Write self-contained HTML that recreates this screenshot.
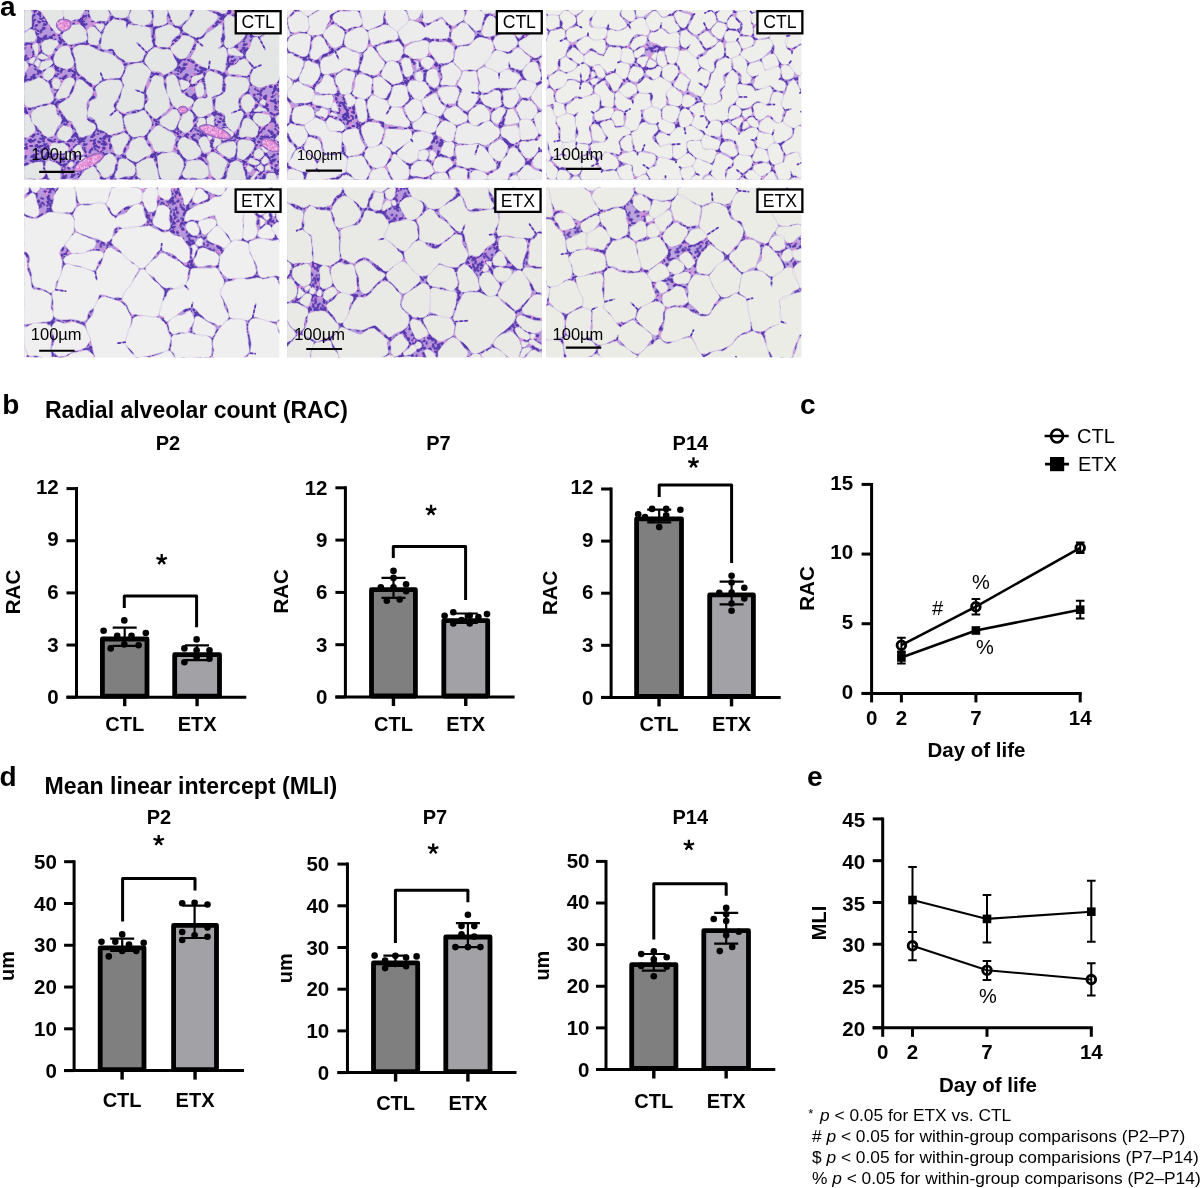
<!DOCTYPE html><html><head><meta charset="utf-8"><style>html,body{margin:0;padding:0;background:#fff;width:1200px;height:1188px;overflow:hidden}svg{display:block;will-change:transform}</style></head><body><svg width="1200" height="1188" viewBox="0 0 1200 1188" font-family='"Liberation Sans", sans-serif'>
<rect width="1200" height="1188" fill="#fff"/>
<clipPath id="c0"><rect x="24.2" y="10" width="255" height="169.6"/></clipPath>
<pattern id="t0" width="20" height="20" patternUnits="userSpaceOnUse" x="24.2" y="10"><rect width="20" height="20" fill="#b497dc"/><g transform="scale(0.5)"><path d="M24 27l1-1m-3-19l-1-1m-9 21l-2 0m2 7l-1 0m25-26l0 1m-24 20l-1 0m9 2l1 0m-11 1l-2 1m-1 4l1 0m20-5l-2 0" stroke="#dc90d8" stroke-width="3.6" stroke-linecap="round"/><path d="M27 1l2 1m-2 39l2 1m-31-25l3 1m37-1l3 1m-19 1l-2 2m-17-9l-2 2m42-2l-2 2m-45-14l-2 1m2 39l-2 1m42-41l-2 1m2 39l-2 1m-34-13l-1 3m41-3l-1 3m-42-9l3 1m37-1l3 1m-8 1l-3 1m-10-15l-1 1m5 20l0 2m-22-37l-1 2m1 38l-1 2m41-42l-1 2m1 38l-1 2m-39-25l-2 2m42-2l-2 2m-40-19l-2 0m2 40l-2 0m42-40l-2 0m2 40l-2 0m-9-28l-1 0m5 9l2 1m-8 12l-2 1m-7-17l-3 0m-9 14l-3 2m43-2l-3 2m-41-14l0 1m40-1l0 1m-28 4l2 1m7-24l1 1m-1 39l1 1m11-36l-1 2m1 38l-1 2m-16-23l1 1m3-14l-1 2m-16 0l-1 4m41-4l-1 4m-15 8l2 1" stroke="#5638ad" stroke-width="4" stroke-linecap="round"/></g></pattern>
<g clip-path="url(#c0)"><rect x="24.2" y="10" width="255" height="169.6" fill="url(#t0)"/>
<g transform="translate(24.2,10) scale(0.5)">
<path d="M512 4l0-3m-97 4l-2 1m5-1l-2 1m-7-8l0-3m1 16l-3 0m105-2l-3-1m-3-2l-2 0m-13-7l-3-1m-152 59l2 1m0 1l1 1m1-2l1 1m-42 5l0 1m-7 9l-1 2m11 13l1 2m-7-7l1 3m38-5l0 1m6-11l-2 3m-22 28l3-1m77-72l0-3m1-1l0-4m-3 19l0-1m-20-6l-2 2m17-14l-3 2m-28 24l-2 2m-3 0l-1 1m1 59l-2-1m-21-13l-2-1m7 7l-2 0m-29 12l-2-2m9 7l-2-2m29 12l-2 1m-341-60l-1 3m506-43l-3 2m11-5l-3 3m-11 7l-1 1m18-17l-2 1m-59 114l0 3m9-20l0-2m-12 9l1-2m66 9l-1 2m-11 15l0 1m-22 3l-3 0m20-5l-2 0m-27 3l2 1m-2-1l1 1m-68-11l0-3m-1 18l0-3m36-23l3 1m-12 0l2 0m12-3l3 0m-12 48l1-1m18-27l-1 3m-120-16l-2 4m-24-6l1 2m-1-22l-2 2m19 24l-3-1m-60-132l0 1m-1 19l0 1m-1-8l0 3m-10-24l-2-1m5-4l-4-1m-7 38l-2 0m0-1l-3 0m-22-2l-4 0m4-28l-2 3m3 0l-1 3m76 3l1 3m0 4l1 3m39 4l-1 1m10-24l-1 1m0-2l-1 2m-34 32l-3-2m12 7l-4-1m-37-9l3-1m0 5l2 0m-11-35l-2 1m125 6l-3-1m-19-2l-3-1m-100 52l0-4m-2 19l0-2m30 8l3 0m-24 1l2 0m-194 72l2-3m-16 24l1-1m10-16l1-2m-15 25l-1-3m-6-9l-1-4m25-17l-4 0m-14-5l-3 0m-2 5l2-2m4-18l-1 4m3-1l-1 1m17-9l-2 0m14 1l-3-1m5 17l-2 1m-88-131l-2 0m-1-1l-1 0m14 30l1-1m-16 18l1 0m16-26l-1 3m5-29l-1 3m0 15l0 2m71-21l-3 1m-3 40l0 1m-5-20l0 4m-1-9l1 3m19 10l3-2m-13 14l2-2m33-20l-2 3m-5-6l-1 1m-79 327l2-1m6 3l4-1m-14-2l3 0m10 0l1 0m-46-29l2 0m6 0l1 0m23-12l-1 0m14 29l0 2m-2-7l0 4m-1-13l0 1m369-203l0-3m0-7l0-3m10 8l3-2m-7 8l1-1m7-22l1 1m-6-6l3 1m-26 43l-1-1m-14-5l-4-1m25 4l1-3m-1-42l1 2m43 19l-2-3m13 14l-1-1m-209-26l-2 2m182-9l1 1m12 7l2 2m-9-26l2-2m10-10l2-3m-17 17l1-2m18 7l0-2m-2 14l2-3m6-28l1 1m-52 26l4 0m23-49l2 2m-17-19l2 3m18 19l2 2m20 19l-2 0m-11 202l2 0m-7 3l1 0m23-6l1-2m-33-32l-1 4m3-14l-1 2m-2 24l-1 2m16-28l4 1m16 19l1 2m-3 3l2 2m5 4l1-4m-19-66l3 3m2 4l2 2m9-23l0 3m4 19l2-2m-80-10l-3 2m7-2l-1 1m-41-34l0 1m3 36l0 3m-4-13l0 3m-111 19l0 2m-2-4l-1 4m46-11l3 2m-35 45l1 2m-13-17l2 3m44-9l1-1m-31 19l2-2m25-11l1-1m8-18l1 2m-256 72l2 2m-7-13l2 2m-25 5l-2 2m0 2l-1 1m28 15l-2 0m-3-2l-2-1m-18-1l-4-1m0-61l-2-2m5 6l-2-3m-3-1l-2-4m-9 48l1 0m78-214l-1 2m-35-22l1 1m23 28l3 4m-43-52l2 3m7 5l1 1m-9-11l2 3m-7 40l1 1m0 1l2 3m34 8l-3 1m4-1l-4 1m-14 82l-3-2m-35 56l-2-3m58 1l-1 1m-51 7l-3 0m52-8l-3 1m-39-46l3-1m-20-5l1 0m65-31l1 1m-24 8l-2 1m3 0l-1 1m36-62l2 3m-1 5l-3-1m35-39l2 3m6 43l2 0m-25 1l3 0m29-17l0 3m-2-3l0 4m-35 256l-2-1m11 25l1 3m4-1l1 2m-18 2l-2 0m0-19l0-4m-4-4l0-2m-23-16l1 1m9 1l3 2m40 34l1-2m-3 5l2-2m5-24l2 0m-7-6l3 2m40 22l-2-2m5 3l-1-2m-3 2l-2-3m-17-18l2-1m-49-133l2-1m-5-2l2-2m-19 18l1 2m1 4l1 1m0 3l2 3m57-3l-1 3m-2-2l0 3m-30-35l-1 2m2-9l-1 3m11-33l-1 2m-33 103l0-1m-13 17l2-3m9-6l2-2m224 39l-3 1m-5-1l-2 0m14-2l-2 0m17 18l1 2m-4-11l1 2m-40 36l1 4m-9-11l0 1m6-11l1 4m-6 7l1 3m47 14l-1 3m4-23l0 1m-1 17l0 3m-12 5l3-1m151-55l-1 2m6-15l-1 2m-35-20l0 2m-3 14l0 3m-1 12l0 3m21 12l-1 0m1 2l-1 0m-17-3l3 1m42 21l1-2m-9 14l0-1m-5-6l2-3m-4-2l1-2m1-14l3 2m-12-6l3 1m-7 15l0-3m1 6l-1-2m-2-9l0-1m21 4l-1-2m-276-297l3 1m0 1l4 1m-30-21l1 2m11 6l2 2m-13-10l2 2m-3 341l2 0m33 0l2 0m6-2l3-1m13-1l2 0m79-89l3 1m-12-7l2 1m5 2l2 1m-3-48l3 1m2 44l0 2m8-31l0 2m-5 22l0 2m-22-111l-4 2m12-4l-1 0m-51-33l-1 3m24 33l-2 0m-11-8l2 3m-1 2l1 2m28 14l0-2m4 13l0-1m-45 15l-1-3m2-2l-2 3m6-17l0 1m0-3l-1 2m189 41l0 1m23 7l1-2m45-7l3 2m-2-5l2 2m-17-4l0 2m6 25l2 2m10-10l-1 1m-6-36l-1 1m-8 5l-1 3m18-9l2 3m-23 8l2 0m-10 13l1 0m3 14l2 1m-3-1l3 0m-8 1l3 0m-97 40l2 0m-6 6l0 4m-4 8l0 2m17-8l1 2m-10 14l-2 2m3-8l-2 2m-7 6l0-2m-8-25l3-1m-7 5l1 2m5 1l1 3m6-40l0-3m3 13l0-3m18-12l1 4m-8-11l-2-1m2 30l-2 1m-14 0l1-1m39 9l-2-2m6-1l-1-1m-40-41l1 4m4-7l1 1m28 58l-2 0m-93-97l1 0m1 5l2 1m13 14l3 2m-3-31l2 1m2 6l1 3m1-5l0 1m-10-14l2 3m-24-3l1 1m20 54l-1 0m8-6l1-2m17-47l-2 1m1-1l-1 1m2 32l-2 0m-346 113l1-1m2-5l-1-4m2 6l-3-1m4 2l-2-1m39-7l0 3m-48-145l0 2m2-13l-2 3m93-52l0-3m9 40l0-4m-3-28l-1-3m-25-10l0 2m-4 13l-1 2m-7 13l1-4m104-63l-2 3m-5 0l-1 3m-8-9l-3 0m2-2l-3 0m-4 3l-2-3m1 2l-1 3m34-15l-3 3m-37-1l1 2m-4-1l2 2m6 9l2-1m17 26l0-3m-3 3l0-2m-23 18l-2-1m-66 220l2 0m12-1l3 0m11 11l1-1m-7-1l-2-2m383-2l3 1m-7 1l2 1m6 14l1-1m-265-11l-1 0m18 7l-2-1m25-9l1-1m1 1l1 0m-47-14l1-2m4-16l1-2m30-6l2 0m-4-2l1 0m21 30l-2-3m3-1l0-1m-74 26l0-2m-3 21l0-2m-10 19l1-2m11-34l0-1m38 21l0-2m3 11l0-3m23-90l-1 1m13-11l-1 2m-58 8l0-2m-5-27l-1-2m6-3l-3 0m8-3l-4 1m-6-1l-4 1m12 41l2 1m98 31l1-2m-3-2l0-2m37-41l0-2m9 7l2 1m0-26l3 0m13 11l0 3m-6 10l-1 2m-30 8l2-2m-18 10l-2 0m26-49l2 3m16 36l-1-3m1 12l2-1m-26 5l-3-2m3 0l-3-2m40-42l-4 1m4 27l-2-2m-146-129l-2 0m4-2l-3 0m-29-4l-2-2m9 8l-3-3m-10-11l-1-1m-25-10l-4 0m-120 18l-2-1m2 3l0 2m-2 11l0 1m-4-4l-3-2m5 14l0-2m26-24l-4 1m-32-9l3 2m-10-18l-1-3m3 1l-1-1m16 14l1-2m-1-3l0-2m-8-13l3-1m-15 30l4-2m-5-22l4 0m38 23l-2-1m7 170l3 1m4-1l2 1m29-34l2 3m-4-3l1 3m-10 31l3-2m8 1l3-2m21 17l-2-3m11 13l-1-1m-11 5l-3 0m1 2l-2 0m-12-9l-1-2m-2-3l-2 1m38 19l-2-3m-29 3l0-1m-11-16l3-1m15-21l1 1m-13 12l1 1m282 65l-3-2m33-24l1-3m-12 34l1-1m-25-10l-1-3m-11-30l-2-4m11 38l-1-1m27-40l-1-1m-4 0l-2-1m-7-8l-2-1m-8 1l-3 2m-15 49l3 0m-45 5l4 0m15 0l2 0m-23 1l2 0m41-44l3 0m-11 1l4 0m9-10l1 1m-6-12l1 3m124 35l0 3m1 9l0-1m30-82l-3 2m2-5l-1-2m3 4l-1-2m-24-1l-1-2m6-12l-1 1m12 32l2 1m-7-45l-1 2m-12 36l2 0m-16-2l3 1m2-16l3-2m-279-93l-2-3m-5 32l-1 2m2-12l-1 2m5-5l-2 3m-27-20l-3 0m-3 2l-3 1m26-6l-1 0m-41 13l-1 1m-1 21l0-3m56-32l-1 2m-8 63l1 1m-46 23l3 3m-20-10l1 1m4-39l1 0m-22-49l2 1m22 21l2 2m-9-8l2 2m-13 107l2 0m13 31l2-4m3-17l0-2m5 1l1 3m-1-27l1-2m38 13l-2 0m8-6l-3 1m-25-5l3 2m10 9l1 1m318 54l1 1m19-11l4-1m-2 20l3-3m-5 3l2-3m0 11l2-4m-21 3l1 0m-20-23l2-1m10-2l1 2m19 31l0-1m-3-2l0-1m3-49l0 1m8 6l3 3m-45-16l-3 0m13-1l-2 0m2 12l-2 1m1 3l3 2m-318-27l-2 1m13 16l0 1m-27 0l1 1m2-4l1 2m14 9l-4 1m-17-20l2 2m21-17l-1 4m7 34l-2-2m-32 20l2-2m-9-4l3-1" stroke="#dc90d8" stroke-width="4.0" stroke-linecap="round"/>
<path d="M513-5l0-3m0 13l0-2m0 11l1 2m-81-18l-4 2m-1 1l-3 2m1-4l-3 2m-14 4l0-4m2 1l0-4m1 6l0-5m82 7l-3-1m2-3l-1-1m0 0l-5-2m1 1l-4-1m12 3l-3-1m-8-2l-4-1m17 5l-1 0m-8 1l-3-1m-163 42l4 3m-3 1l3 1m7 6l2 1m-18-9l2 1m20 7l1 1m-37 4l-1 1m8-9l-3 3m-15 22l-3 4m16-28l-1 1m-7 13l-2 3m9 31l2 2m0-6l1 2m-17-21l1 3m9 12l2 3m40-27l-1 1m0 0l-2 2m-8 9l0 2m6-7l-1 1m0 12l-2 3m-15 6l2-1m-10 3l3-1m-6 2l4-1m84-41l0-4m0 6l0-2m3-29l0-4m0 29l0-3m-1 3l0-2m-2-3l0-3m2-29l0-2m-52 39l-1 2m33-26l-1 1m-17 13l-3 3m2-4l-1 1m-10 9l-4 3m10-12l-1 1m4 6l-4 3m43-41l-3 2m-6 6l-4 3m-19 91l-2 1m-24-13l-4-2m-5-2l-2-1m36 17l-3-1m-7 0l-2-1m-2-8l-1-1m13 14l-4-2m-49-1l-4-3m8 3l-3-3m7 6l-3-2m13 12l-3-1m-15-22l1-2m-3 4l1-4m52 15l3-3m-14 13l-2 1m10-7l-2 0m-3 3l-3 1m-354-58l-1 3m494-32l-2 2m25-18l-3 3m-18 10l-3 3m-8 4l-2 2m10-4l-2 2m-13 10l-2 1m8-10l-3 2m-2 3l-3 1m-18 83l1 4m-1 0l2 5m-2 2l2 4m0-24l2-3m-1-1l0-1m3 0l3-4m50 21l-1 3m3-7l-1 1m-4 7l-1 2m-12 10l-3 0m-9-1l-5 0m14 0l-1 0m3-4l-1 0m-24 4l3 1m-13-5l1 1m-60-19l0-4m0 30l0-2m-2 5l0-5m6-16l0-2m-4 25l0-2m37-26l2 0m0 3l3 0m2-5l2 0m-9 2l3 1m-24-3l3 0m28 0l3 0m-7 36l3-3m-13 15l3-3m-3 5l1-1m15-23l-2 5m2-11l-1 3m-117-12l-2 3m-26-13l3 3m1-2l2 3m-13-8l1 1m7-17l-3 5m3-2l-2 3m14 20l-1 0m10 2l-2 0m-1-1l-2-1m-68-108l0 1m6-9l0 4m-1-22l0 4m-1 20l-1 4m2-28l-1 3m-13-12l-2-1m8 1l-2-1m3 4l-5-2m-7-2l-4-2m-26 34l-4-1m20 4l-4 0m-12 0l-3-1m45 4l-5-1m-9-1l-3-1m-21-5l-4 0m-3-6l-1 1m9-19l-2 3m0-5l-2 3m7-7l-1 2m-1 7l-1 2m-6 19l-1-1m80-22l0 1m1 5l0 3m2-5l1 4m1 1l0 4m31 6l-1 2m-8 13l-1 1m2 1l-2 2m12-23l-2 4m-6 16l-2 4m3-8l-2 3m23-37l-1 2m-2 6l-3 3m-21 26l-4-2m-4-1l-3-2m3 3l-3-2m-29 1l3-1m-14 4l4-1m2-1l2-1m15-4l3-1m-27 9l4-2m4-40l-3 2m-4 5l-2 1m149 4l5-2m-16 6l-4-1m-1-3l-2-1m5 5l-3-2m-20-11l-2-1m21 10l-4-1m5 4l-4-2m-6-2l-2-1m18 8l2-4m-85 34l-2-5m-52 5l-1-2m2 32l-1-4m-1-3l-1-3m1-3l0-2m0-11l0-2m20 26l3 1m-8 2l4 1m1 2l4 1m5-1l5 1m-226 85l1-3m-7 11l3-4m4-3l2-3m2-8l1-2m-19 3l0-3m2 26l-1-4m-4-26l0-3m2 6l-1-5m13-13l-3 0m18 6l-3-1m-23 1l2-3m-6 7l1-1m8-12l-1 4m7-15l-1 2m12-2l-1-1m18 2l-3-1m8 4l-2 0m-5 0l-2 0m-21-6l-4-1m37 9l-1 0m-11 12l-2 1m14-8l-3 1m5-5l-2 1m5-2l2 3m-110-122l-4 1m7-5l-1 1m18-6l-2 1m-12 0l-1 0m10-1l-2 1m-4 40l1 0m1-1l2-2m2 1l4-2m4-31l0 2m-2-7l0 3m-3 18l0 4m1-9l0 2m1 11l-1 5m70-37l-4 1m-4 3l0 1m1 17l1 5m-2 8l0 2m0-15l1 1m-3-13l0 3m21 21l1-1m12-4l1 0m-27 9l4-1m-2 3l1-1m21-13l2-1m8-7l-2 4m2-2l-1 1m-2 3l-1 2m9-21l-1 1m-103 343l4-1m-19 3l2 0m34-9l3-1m-8 1l3-1m-21 6l3 0m19-6l2-1m5 4l4 4m0 2l1 1m-50-36l4-2m-1 4l4-2m-7 0l1-1m14-5l3-1m-25 11l4-2m26-9l1 0m-4-2l4-2m8 0l-2 0m1 2l-1 0m13 9l0 3m0 18l0 3m0-16l0 3m-4-14l0 4m4 21l0 3m362-234l0-2m1 7l0-2m1 10l0-5m-1-11l1-4m1 16l3-2m10 2l4-3m-11 2l1-1m2-19l3 1m-5 1l2 0m10 1l2 0m-39 34l-3-1m-11-2l-4-2m27 9l-3-1m-2 2l-2-1m4 2l-4-2m5-55l2 1m6 45l0-1m-1-1l2-4m-3-37l1 2m0 2l1 1m54 32l-4-3m-4-4l-2-2m3 7l-3-4m-196-30l-1 1m-3 3l-1 1m8-6l-3 3m178 5l3 2m2 0l1 1m8-42l3-4m-17 19l3-3m7-12l2-3m0 6l2-3m-1 0l2-3m-3 38l2-4m8-16l1-1m0 1l1-2m-15 23l1-2m-3 3l1-3m12-28l2 1m-2-4l3 2m-13 39l0-4m-30-9l2 0m6-2l5-1m15-40l1 2m6 6l1 1m-32-28l2 2m6 5l2 2m14 17l1 1m-1-5l1 1m-25-26l3 3m44 38l-4-1m1 1l-2 0m-27 205l3 0m1-2l4 1m-14-1l2 0m28 0l4 1m-33-1l4 0m35-2l2-3m-34-32l-1 3m-6 23l-1 3m13-42l-1 5m-5 14l0 2m2 3l-1 4m-9 17l-1 4m12-33l0 1m16-12l2 3m9 14l3 2m-13-13l1 1m2 1l2 2m0 3l1 0m10 23l1-2m0-7l1-4m-10-58l4 4m-18-15l2 1m8 9l0 0m3 2l2 2m12-9l0 1m-2-4l1 4m-1 11l3-3m-89-10l-2 2m6-1l-2 0m8-3l-2 2m-33-42l-1 3m-2 7l0 2m-3 11l1 2m4 3l0 3m-2 0l1 4m-1-10l1 3m-116 31l-1 5m2-9l-1 4m-2 8l-1 5m45-22l4 2m-37 34l2 2m-11-9l2 1m17 13l2 3m-18-20l1 2m21 12l4-3m-12 6l4-3m22-17l2-2m-21 19l1-1m-4 2l3-2m-2 0l3-2m32-25l1 2m-7-6l1 4m-2-4l1 1m-246 86l-1 3m-12-24l2 1m0 5l2 2m9 0l3 2m-16-10l2 1m-18-2l-3 3m-3 6l-2 2m3-1l-2 1m19 14l-4-1m17 0l-2-1m-15-1l-2 0m18 4l-3 0m-24-4l-4 0m24 0l-4 0m-8-34l-2-4m-18-28l0-1m1 0l-1-2m18 28l-1-1m-15-24l-2-3m18 27l-2-3m-7-13l0-1m-19 38l3 2m12 8l4 3m-12-62l1-1m-3 3l4-3m75-158l-1 3m-1-4l-2 4m3-7l-2 3m-20-2l0 0m-1-4l2 3m-4-9l3 4m-34-36l3 3m18 15l2 2m1 6l1 1m-16-16l2 3m12 10l1 1m-15-17l2 2m38 43l-1 0m-54-17l1 2m-1 0l2 4m6 5l2 4m3 5l2 3m26-1l-3 0m-18 2l-2 1m22-6l-4 1m-3 3l-4 1m-7 81l-2-2m9 5l-1-1m-8-6l-2-1m25 46l0-4m0 9l0-5m-54 9l-2-4m-4 0l-1-3m6 17l-1-2m-7-52l4-2m-5 1l4-2m16 52l-4 1m16-3l-4 1m8 0l-1 0m-10 1l-2 1m-4 3l-4 0m34-8l-4 0m19-3l-3 0m-11 4l-3 1m-24-57l4-1m-17 6l3-1m13-1l4-1m-13 2l3-1m48-25l2 3m-5-8l-3 2m-4 2l-2 1m2-2l-2 1m0 2l-3 2m-5 3l-3 2m-11 3l1-1m42-67l2 4m6-1l-2-1m15 11l-2-1m25-38l2 3m0-3l2 3m-5-5l1 0m0-5l2 4m-3 41l4 0m-24 3l1-1m19-1l1 0m-6 1l2 0m14-3l4 0m-3-20l0 3m1 3l0 3m-1 5l0 4m-36 252l-2-1m8 13l0 3m0-1l0 2m2 10l-1 0m-17-30l0-3m-2 25l0-3m-1 2l1-1m-1-6l1-4m2-12l1 0m20 31l-4-1m-28-34l3 2m-7-5l3 2m-19-13l3 2m19 12l1 1m3 2l3 1m27 31l1-1m5-9l2-3m10-11l2-3m-16 19l1-1m-11-18l1-1m6-5l1 0m-2-3l2 1m12 6l2 1m36 26l4-2m-2-1l1 0m-5-9l-1-1m-15-16l-2-3m3 4l0-1m16 27l-2-3m-2-12l-1-2m-16-13l3-2m-4 2l4-3m-10 6l2-1m-56-126l3-2m-13 4l4-2m21-5l4-2m-4-2l2 0m-20 28l0 1m-8-12l2 2m10 16l1 3m6 5l2 4m1 1l2 1m40-23l0 1m0-4l0 3m5-11l0 2m-3 1l0 3m-69-7l4 1m44-63l1 3m-12 27l-1 2m1-6l0 2m-1 7l-1 2m7-29l-2 5m-7 22l-1 5m7-10l-1 2m5-15l-1 2m-23 75l3-4m-9 20l1-2m-3 5l2-2m-11 10l2-3m11-20l3-4m-16 26l1-2m5-2l2-4m194 45l-3 0m23-2l-1 1m-3 0l-2 0m4-2l-5 1m8 2l-2 0m-11 4l-5 1m50 11l1 1m-4-10l3 4m0 4l1 1m-10-14l2 2m-39 39l1 4m-3-4l1 5m-6-36l1 5m2 6l1 5m-6-20l1 3m3 18l0 3m-4-28l0 4m3 29l1 5m45 12l-1 4m9-35l-1 2m-7 25l0 2m5-4l-1 4m2-15l-1 4m-14 20l4-1m3-4l2-1m-11 4l2-1m8-2l1-2m150-72l-1-3m1 12l0 1m-2 9l-1 2m4-11l-1 3m-9 11l-2 3m-28-16l0 3m1 2l0 4m2-19l0 4m-2 14l0 5m1-3l-1 5m2-14l-1 4m25 14l-2 1m0-2l-2 2m-23-1l1 1m15 6l5 1m20 33l1-2m-7 9l2-1m13-15l3-3m-4 4l1-1m-23 14l3-4m-1 3l1-2m-2-3l1-3m-3 8l1-1m16-21l-1 0m-12-10l2 1m3 1l3 2m-9-7l1 1m1 5l4 2m-13 10l0-4m-2 1l0-1m3 23l0-3m2-1l-1-2m-2-9l0-2m-4-20l-1-2m-236-284l4 1m-10-2l3 1m-14-3l1 0m-3 0l4 1m-10-7l2 3m-9-11l3 3m-1 335l2 0m57 1l-1-1m-6-4l-1-1m8 1l-1-1m-8-1l5-1m-49 7l4-1m3 2l5 0m19-4l4-1m-12 0l3 0m7 2l4-1m82-97l1 1m1 1l1 1m-8-4l2 1m5 3l2 1m-16-9l3 2m-25-10l4 2m39-30l5 2m-12-5l1 1m9 4l1 1m-2 33l-1 3m1-12l-1 2m7-25l-1 5m-8 21l0 1m1 0l-1 5m5-10l0 3m-17-104l-1 0m-7 4l-4 2m-42-36l-1 4m7-9l-1 2m-1 0l-1 1m24 36l-5-1m6 0l-4-1m-6 0l-1 0m-9-15l3 4m-7-7l1 2m-1 5l2 3m3-4l2 3m32 52l0-3m1-9l-1-4m1 14l0-3m0 2l0-4m2-8l-1-4m-44 20l0-1m-4-3l-1-3m17-31l0 1m-11 23l-2 4m2 0l-2 3m2-10l-2 4m4 5l-2 3m12-40l-1 2m179 65l0 2m-1-14l0 3m7 19l3 3m12-1l3-2m8-7l3-3m-10 12l4-4m-5-1l1-1m45-16l1 1m-1 2l2 1m-2 6l3 2m-18-5l-1 2m1 7l1 2m5 5l3 2m13-1l-4 2m-3-57l-1 3m1-1l-2 4m4-1l-2 2m-2 3l-3 4m17 9l2 3m-5-6l2 4m-4-18l1 4m4 10l2 3m-34 2l1 1m-4 15l4 1m1 3l3 1m-16 5l2 0m-12 2l3 0m4-1l3 0m-8 0l4 0m5-1l3 0m-95 46l1 0m-5 8l0 4m0 6l0 1m12-19l2 3m-12 30l-2 1m12-11l-2 2m-9 6l-1 1m1-6l-1-3m-3 2l-1-5m-12-19l2-1m11 17l2 4m-12-16l1 2m19-47l0-5m-4 28l0-3m2 1l0-3m25 2l1 5m-8-15l0 1m-9-11l-2-1m7 3l-3-2m-2 30l-1 0m-10-34l-3 2m15 34l1-1m-20-7l1-1m48 18l-1-1m-7-8l-2-1m11 13l-1-1m0-1l-1-2m-36-48l0 4m-4-19l1 4m1-3l1 4m-2-11l1 4m33 72l-4 1m-1 2l-4 1m-6 2l-4 1m8-2l-2 1m-70-111l2-2m-14 11l3-2m8-6l2-2m-9 17l2 2m0 3l3 1m6 2l3 3m-23-16l2 1m19-15l4 2m2 18l1 4m-7-21l0 1m6 23l-4 3m-25-26l1 4m-3-4l1 3m0-6l1 3m10 47l-4 1m7-1l-5 1m16-7l1-2m-2-4l1-2m2 0l2-4m8-41l-1 1m-11 8l-2 1m27 26l-4 1m-12 0l-4 1m5 1l-3 1m-341 97l3 0m-8-1l4 0m3-3l0 1m19 20l-2-1m4 4l-3-1m-3-1l-4-3m33-7l0 4m1-13l0 3m-6 11l2-4m-47-187l3 2m-4-6l1 0m10 14l1 2m-9 28l-1 4m6-34l0 1m-4 16l0 2m-4 12l-2 4m5-12l-1 4m100-38l-1-3m-4-16l0-2m11 47l-1-2m-8-32l-1-3m-2-6l0-3m2 16l0-3m-2-3l0-2m9 27l-2-5m-43-8l-1-2m0 2l0-2m6-6l-2 4m13-33l-2 4m3-5l-2 4m-14 27l-2 4m9-17l-1 2m94-38l-2 4m10-23l-2 4m-13 19l-1 2m8-26l-1 0m-9 0l-2 0m5 1l-2 0m-7 12l-1-1m-1-1l-1-1m36-16l-2 2m2-6l-3 3m-44-7l1 3m-2-14l2 4m6 32l2-2m16 29l1-3m-2-5l0-3m0 2l0-2m-1 15l0-4m-13 11l-1-1m0 2l-4-2m11 3l-4-2m-2-2l-1 0m-88 217l3 0m10 0l3 0m-3-3l1 0m11 3l4 0m9 16l2-2m1-4l-3-2m382 7l1 1m-7-4l2 0m-1 0l3 2m1 10l2-3m2-7l1 3m-253-1l-2-2m-9-1l-2-1m9 3l-2-1m6 2l-1-1m33-13l2-1m-23 13l3-2m22-10l3-2m-4 2l3-1m-34 16l4-3m24-7l4-2m-47-29l0-1m-10 20l2-5m5-9l2-5m5-6l0-1m-17 35l1-1m23-35l5 0m1 2l2 0m-1-6l3 0m0-1l4 0m9 5l0-1m7 16l-1-2m-5-13l-2-4m1 7l-1-1m-60 60l1-2m3-15l1-4m-14 41l1-4m1 4l1-3m2-4l1-3m0-2l1-2m-1-1l1-5m40-10l0-4m0 22l0-3m1 3l0-1m-29-36l1-1m51-36l-1 1m7-8l-1 3m-2 0l-1 2m4-9l-1 1m7-13l-1 1m-57-2l0-1m2 3l-1-3m-2 3l-1-4m3 1l-1-2m-2-9l0-3m4-3l-3 1m23-7l-4 1m-10-1l-2 0m32-5l-4 1m1 0l-1 1m-11 4l-1 0m-9 46l2 2m-3-3l3 3m-11-10l3 3m107 10l0-2m-8 17l1-2m-1-1l1-4m1-16l-1-2m36-26l1-5m2 0l0-1m8 25l4 3m-1-1l1 0m-3-28l3 0m0 4l5 0m-3 0l3 0m3 2l0 2m0 1l0 2m-32 18l1-1m7-9l3-3m-10 11l3-4m-13 14l-2 1m-11 2l-3 0m26-52l1 1m1 2l1 2m3 0l3 3m14 40l0-3m-2 6l1-1m-4 0l1-1m-25-1l-2-1m13 11l-2-1m-10-3l-2-1m44-38l-4 2m0-4l-2 1m-137-110l-4 1m-2-2l-2 1m14 0l-5 1m-2-2l-3 1m-5 1l-4 1m-25-7l-3-3m-4-10l-2-2m-1-4l-2-2m14 15l-4-3m11 8l-2-2m-18-17l-1-1m-3 1l-3 0m-12 1l-5 0m-120 18l-2-1m-1 8l-2 5m-7-9l-2 3m4 8l-2-2m11 14l-1-4m8-20l-2 0m21-4l-3 0m-18 6l-3 0m-22 5l5-1m-2-32l0-3m4 16l-1-4m3 0l-1-4m11 6l1-1m2-9l0-3m-7-8l0-3m2 1l-1-5m0 5l1-1m-3 2l4-2m-24 36l2-1m2-30l5 1m-10-2l3 1m26 22l-1-1m6 1l-4-2m23 8l-1 0m-27-33l-3 2m45 199l2 1m-20-2l2 1m14 3l2 0m-12-3l1 0m40-15l1 4m-7-21l1 1m7 14l2 5m-9-16l1 2m-4 25l2-2m-5 2l3-2m-6 2l2-2m34 24l-2-3m-8-3l-2-3m6 3l-1-2m-13 18l-2 0m14-1l-2 1m-6-3l-2 1m-10-12l0-1m7-6l-3 2m10-6l-1 1m26 28l-3-4m-1 3l-2-3m-3 0l-1 0m-23 0l2-3m-22-3l2-2m5-1l4-2m20-20l-1 2m-5-11l1 1m1 3l3 3m-23 8l2 3m289 70l-2-1m5 0l-3-3m29-23l2-4m0 7l0-2m-9 12l2-4m7-11l2-2m-1-7l1-3m-4 20l1-1m-51-18l-2-3m10 23l-1-3m2 3l-1-2m-3-10l-1-3m-4-3l-1-3m10 19l0-2m20-29l-4-2m29 16l-4-3m-4-1l-2-1m-17-11l-2-1m4 5l-2-1m-5-5l-4-2m-14 7l-3 2m4-2l-2 1m-4-3l-2 3m-15 48l4-1m10-1l2 0m-13 3l2-1m-24 0l4 0m40-1l1 0m-17 1l2 0m-18 0l3 0m29-2l2 0m50-40l-1 0m-95 3l1 0m35-8l2 0m-22 6l2 0m-3 3l3 0m10-4l5-1m24-15l-1 1m-25-7l1 2m-1-6l2 4m-7-12l1 2m2 7l2 5m-8-16l2 4m128 58l5-1m-3-11l1 0m4 0l0 5m-1 16l0-3m-2 8l0-4m24-81l-2 2m9-10l-2 2m7-4l-3 2m0-7l-2-2m-7-12l-2-4m-1 2l-3-4m6 9l-2-3m-15 7l-1-1m6 13l-1-1m8 5l-2-3m0 5l-2-3m2-27l-4 3m4 0l-4 3m10 32l2-4m-4-35l-1 3m-24 33l4 1m8 1l4 1m-7-2l2 0m-1-1l4 0m-6-22l4-2m-286-79l-1-3m-5-6l-1-4m-1 36l0 2m5-16l-1 1m-2 8l-1 3m-2-2l-1 4m-7 12l-1 2m16-30l-1 2m-18-18l-1 0m14-1l-4 0m-1-3l-3 0m-20 2l-3 0m0 2l-3 1m-9 8l-4 3m-1 2l-1 0m3-3l-2 2m-4 6l0-3m1 0l0-2m59-33l-2 4m-2 5l-1 1m5-12l-1 2m-6 13l-1 5m3 69l4 3m-8-6l2 2m-10-13l-1-2m0-1l-1-3m-44 36l2 1m-11-7l2 1m6 2l2 1m4 5l2 1m-6-53l2-2m-9 5l4-3m-9-31l2 2m-8-6l2 2m-7-8l1 1m16 11l2 1m-17-11l4 2m10 11l3 2m-19 107l2 0m-2 3l1-1m-1-4l3 0m18 22l0-2m3-9l0-1m1 7l1-3m-10 14l2-5m7-17l2 3m4-35l0 4m-7 11l2-3m-5 10l1-2m7-12l0-1m50 4l-4 1m-1 8l-2 1m-15-1l-5 2m24-6l-2 1m-25-1l1 1m-7-6l2 1m-6-1l4 2m10 8l3 2m330 65l2 4m-10-18l2 2m0 8l1 1m1-16l5-1m3 24l2-1m5-4l3-4m-6 7l0-1m-6 8l-3-2m-14-1l5 0m3 1l5 0m-22-30l2-2m11 2l1 1m-4-4l2 2m17 33l-1-4m-2 7l-1-4m7-57l0 3m4 13l4 3m-19-18l2 4m-16-5l-4 0m-3 1l-4 0m15-2l-3 0m7 1l-4 0m12 11l-2 1m-22-2l2 3m5 4l2 2m-6-3l3 3m16-26l-2 2m-334 0l-2 1m-1 1l-4 1m17 6l0 3m0-8l1 3m0-3l1 4m-16 13l2 4m6-2l-4 1m-1 3l-3 0m1 0l-4 1m-9-20l4 2m20-17l0 4m8 29l-2 0m3-2l-4-2m-29 17l3-2m-3-3l2-2m3-2l2-1m5-3l3-2" stroke="#5638ad" stroke-width="4.4" stroke-linecap="round"/>
<path d="M-2 203l1-5 0-4-3-5-1-5-3-4 1 5 0 6-2 6-1 5 0 8 6-3zm15-206l4-6-7 0-6-1-6 0-7 0-1 7 1 7 7-1 5-2 5-1zm39 350l-4-4-5-4-4 0-6 2-5 1-5 1-6 2-5 1-7 1 7 3 6-2 5-2 6-2 6 1 5 0 6 1zm181 0l-2-3-3-2-4 0-2 0-2 0-3-1-5 0-5 0-5 0-5-1-6 0-3 2-2 3-2 2 5-1 6 1 6 0 5 0 6-1 5 0 6 1 5 0zm-57-337l5 4 4 1 5 0 4 1 5 0 4-1 4-3 2-5 2-5 1-6 3-3-5 0-5-1-6 1-5 0-6 1-5-1-5-1-6 0-5 0-6 0 5 4 4 4 3 5zm149 334l-3 3 5 1 6 0 5 0 6-1 6 0 6 1 5 1 6 1 6-2 5-1-1-1 0-3-3-3-4-2-5 0-5 0-6 0-5 1-5 1-5 2-5 2-5 0zm72-337l6-1 3-5-1-5 0-3-5 0-6-2-6 0-6 1-6 1-6 0-6 0-6-1 6 3 5 3 5 2 6 1 6 1 5 3zm15-9l3 2 3 0 3-1 5-2 5-1 6-2 5-2-6-1-5 0-5 1-5 0-5 0-5-1 0 4zm94 7l3-1 2-3 1-4 0-5-5-1-6 1-5 0-6 0-5-1-5 0-6 2-4-1 4 1 5 3 5 2 6 1 5 2 5 2zm-2 210l-1 5 3 5 3 4 3 4 2 5 4 3 0-5 1-5 0-5 0-6 0-5 0-5-1-6-5 4-5 2zm7 110l-1 3-1 5-1 5 2 4 5 3 3 0 0-5 0-6 0-5-1-6 1-5 1-7-5 4-2 5zm0-179l0 5 0 5 2 5 2 4 3 4-2 3 1-4 0-6 1-6 0-6 0-6 1-5-1-7-4 4-1 5zm-481-28l3 2 3 1 5-3 4-1 5-3 3-3 4-4 0-3-1-2-2-2-6 1-5 1-7 1-3 4-1 5zm-33 21l2-4 2-5 1-5 2-4 3-5 1-3 0-4-3-3-2-3-3-1-2-2-3-1-3-3 0 6 0 6 1 6 1 6 0 6 0 6 0 6-1 5 1-2zm21-45l-4 4-4 3 0 1 1 4 3 1 4 0 2-4 2-4 0-3zm9 0l3 3 3 1 4 1 5-1 4-1 1-2 0-1-4-3-4-2-4-2-4 2zm0 20l3-2 1-4 2-5-1-1-5-3-2 1-3 3-2 4 3 4zm-10-44l-1 0 1 5 2 4 2 5 0 4 3 3 1 1 2-4 1-4 0-3 0-5 0-5-1-4-2-1-4 2zm-9 140l-3-1-4 1-3 3-2 1-5 2-2 5-1 6 1 5 1 5 2 5 0 6 5 3 4 4 4 0 3 0 2-4 3-1 3-3 4-2 2-4 0-5-2-5-3-5-3-4-2-5-1-4zm118-169l1 6 1 5 0 5 0 5 1 4 4 2 4 1 5 1 2 1 3-1 2-2 0-3 0-4 2-4 3-4-1-6-5-5-4-4-3-4-5-1-5 2zm41-22l0-3 1-1 2-4 0-5-2-4-4-4-4-2-3-4-6 0-5-1-6-1-5 0-6 1 0 4 1 3 0 3 1 5 1 5 2 5 2 4 6 3 5 0 5-2 5 1 5 0 3-1zm-24 9l-1 1 1 3 3 3 3 4 3 3 0 1 2 0 2-4 2-4 2-5 0-1-2-1-4 0-6 0zm-87 118l1 5 1 2 2 4 3 1 5 0 3-4 1-4 1-4-1-4-2-3-5-2-5 0-3 3-1 3zm8 27l1 3 3 2 3 0 3-1 4-1 4-1 4-1 3-4 2-5 2-5 2-5 2-4 4-5 0-4-2-4-3-2-3-1-4 0-4 2-4 2-3 5-3 5-3 4-2 6-3 5-3 5zm351-161l-6-2-5 3-4 5 0 5 0 6 1 6 0 5 1 6 0 6 0 6-2 5 0 6 4 6 7 1 4-1 3-2 3-3 3-1 4-4 5-3 4-4 4-5 1-5-1-5-2-5-3-6-3-5-3-5-5-4-5-4zm7 64l-5 0-4 1-5 0-1 4 0 3 3 4 5 2 5 1 6 1 5 0 5 0 2-3-1-2-4-1-4-4-4-3zm-14 41l-1 3 0 3 3 5 5 0 6 1 6 0 6 1 6 1 6 1 3-2 1-3 2-4 2-4 2-3-1-3-3-4-3-4-3-4-5-4-6 3-5 2-4 5-4 3-5 2-5 2zm-51 54l2-3 1-3 0-5-1-4 0-5-2-3-3-3-4 1-3 2-2 3-3 1 0 2 0 5 2 5 0 5 2 3 3 2 4-1zm-29-28l-4-1-4-1-5-2-4 2 0 4 1 4 1 4 0 5 6 2 5-3 3-2 3-3 1-4zm7 5l2 0 4-2 5-4 4-3 5-2 1-3 2-3-1-2-2 0-5 1-5 1-5 1-4 2-1 5-1 3 0 3zm-253 139l-1 6 4 4 5 2 4-1 2-1 2-3 0-2-2-4-3-4-1 0-5 1zm10 17l-1 2-2 2-1 2 0 2 4 2 4-1 3-5-3-5zm22-8l-2 4-1 4 1 5 2 2 3 2 4 0 4-2 2-4 1-4-1-4-3-3-5-3-3 1zm-57-29l-3 1-1 4-2 3 1 4 1 3 2 2 3 1 6 1 6 1 6 0 4-1 4-3 4-3 0-4-2-3-3-3-2-3-6-1-5 1-5 0-5-1zm41 12l1 2 3 4 2 5 4 0 4 0 4-1 2-1 1-2-2-5-2-5-3-6-5 0-5 4zm385-97l-2-2-4-2-4 3-2 4 0 1 4 2 4 2 3 0 0-4zm0 16l-5-2-5-2-4-2-2 3-4 3-3 2-1 2 2 1 5 0 5 0 5-1 5 0 5 0-1 1zm-22-11l1-2-1-3-2-4-3-4-3-3-4-2-5 0-3 2-4 3-2 4-2 4 1 4 1 5 1 4 2 4 3 2 3 4 5-1 5-2 2-5 2-3 2-4zm15 160l-2-2-1-3-5-2-4 1-5 2-1 4 4 1 5-2 5 1zm7-26l1-1 4-1 3 1 2 0 0-1-1-5-3-4-2 0-2 2-3 1 0 4zm-17-7l1 4 3 2 2 2 3 1 3-2 0-4 0-4-2-2-3-2-4 2zm5-36l-4 0-3 2-2 2-2 3-1 4 1 4 3 3 6 2 3-1 3-2 4-5 0-4-1-4-4-2zm35 69l0-4-1-5-1-6-1-3-3-3-5 0-6 0-3 2-2 3 0 3-1 4-2 5 0 5 6 1 5-1 4-1 5 0zm-36-40l1-2-3-3-4-1-4-2-4-2-4 0-3 4-1 3 1 2 4 2 4 1 5 1 3 0 2-1zm-21 39l1 2 3-1 3-4 3-5 3-4 3-4 4-4-1-2-3-2 0 1-3 3-3 4-4 4-3 5-2 4zm35-53l-4 0-3 5-3 5 1 2 3 3 3 1 3-2 3-2 1-2 0-4-2-3zm-94-52l-2 5 0 4 3 4 3 4 5 3 5-2 4-2 3-2 3-1 3-2 2-4-2-4-5-3-5-3-4-1-4 0-4 2zm-10-5l-4 2-1 3 0 2 3 3 3 0 3-1 3-3-2-4zm-2 37l1 1 4 0 4-3 4-2 3-5-1-3-4-4-4-4-1-1-1 1-1 1-1 5-1 5-2 5zm-5-36l5-3 2-2 0-5-1-5 1-4-1-5-3-3-5 4-5 2-1 2 0 4 1 5 0 5 3 2zm-12 7l3 2 5-1 2-2 0-4-4-3-2 2-1 3-2 1zm14 7l-3-1-2 1-2 1-1 0 1 3 0 3 4 2 4-3zm-12-19l0-5 0-5-1-3-2-3-5 0-4 0-3 4 0 4-2 3-1 3 2 3 3 3 5 2 5-2zm-2 21l-4 1-4 2-3 3-1 3 1 6 2 5 2 5 2 4 4 3 4 0 3-1 4-1 2-4 0-4-2-2 1-4-2-5-2-4-3-5zm-346-248l-1-2-2-3-4-1-4 1-4 2-4 3-4 2 1 6 1 5 0 6 1 5 0 6 0 6-2 3 2-2 5-1 6-1 4-3 5-4 0-6 0-5 0-5 0-5 1-5zm7 56l2-5-1-6-1-3-1-4-5-4-5 0-5 3-3 3-3 3-4 1-3 3-1 3 0 3 1 3 4 2 3 1 6 0 5 0 3-1 4 1zm484 216l1-2 0-4-1-5-4-3-1 1-4 3 0 3 3 3 2 3zm-3-20l0 1 2 2 4 3 5-3 4-3-1-6 0-4-3-1-3 4-4 2-3 3zm-5 22l0-4-3-3-3 0-5 2-5 0-5-1-2 0-1 2 2 4 3 4 4 2 2-1 4-2 4-1zm-472-288l-1 6 3 3 5 3 4 4 3 5 3 5 3 5 3 5 3 5 3 4 5 4 3 5 3 2 3 1 3-2 2-5 1-5 0-2 0-6 1-6 1-6 2-6 0-6-2-7-5-3-2 0-5-1-5-2-6-2-5 1-6 0-5 0-5 0zm98 5l-2-3-4 0-5 1-5-1-5-1-5 0-5 2-5 2-6 0-4 2-1 4 1 7 2 5 0 6 1 6 4 4 4-2 3-3 4-4 5-2 6-1 3 0 3-5 2-4 3-4 3-5zm-2 44l-3-5-5-4-4-3-2 1-3 0-5 1-6 0-6 2-4 3-2 5-3 5-3 5 0 4 1 3 3 3 3 3 3 4 4 2 4 0 6-2 6-1 5-1 6-1 3-1 3-1 3-4 0-4-2-5 0-5zm32 35l3 4 4 0 4 0 5-1 4-1 5 2 3 6 3 5 4 4 5 3 5 2 4 4 2 1 2 0 5 0 6 0 6 0 5-1 5-2 3-2 1-3 1-4 2-5 3-4 5-4 5-3 3-5 0-2-2-6 0-6-2-6 0-5 0-6-1-2-2-3-5-1-5-1-6 0-5-2-5-1-6 1-5-1-5-1-4-4-5-4-6 0-6-1-5-1-3-1-3 2-4 4-4 3-3 4-3 4-2 5-1 5-3 4-1 5 0 6-1 5-1 6zm57-60l1 6 4 3 5 4 5 0 4 3 5 0 4 1 4-2 3-1 3-2 3-2 2-3 1-4 0-3 0-3-1-4-2-3-3-3-3-2-4-2-4-2-5-3-3 0-3-1-3 2-3 1-2 2-4 2-2 4-2 6zm-102 112l5 3 5 4 5 4 4 4 5 3 4 4 7 0 5-3 2-4 3-2 6-2 5 0 4-1 5-1 5 0 5 0 4 0 4-1 2-3 2-4 2-5 2-4 0-4-1-3-2-3-2-3-3-4-4-3-4-4-4-3-4-3-4-1-4-2-5-1-6 0-5-3-5-2-4-2-5-3-5-2-4-2-5 0-5-1-5 0-4 0-4 2-3 1-3 3-2 3 0 4 1 4 1 5 2 4 1 6 1 5 0 5 1 5 1 5zm-72-63l-2 4 0 5 0 4 2 5 3 4 4 2 4 2 6-1 3-3 1-4 2-4 3-3 3-3 2-3 1-2-2-3-1-3-3 0-2-1-3 1-2-2-5 0-5 1-5 1zm22 37l2 5 2 4 3 2 3 1 5 2 5 2 5 1 6-1 5-3 4-5 0-6-1-5-2-5-2-4-1-5-1-5-3-5-4-2-5 0-5 1-4 3-4 4-3 4-2 4-2 5-1 4zm-62 46l-5 3 1 5 1 5 1 5 0 4 1 5 1 6 2 5 3 5 5 4 5 1 6-1 5-1 5-2 5-2 5-1 5-1 6-1 4-2 5-3 1-6-2-6-3-5-2-6-1-5-2-6-4-3-4-3-3-3-5-2-4-1-4 2-4 2-5 2-5 2-5 1-4 2zm41-20l0 2 0 3 1 4 4 3 5 2 4-2 2-2 3-2 2-4 2-5 0-5-2-4-5-2-4 0-4 2-3 4-3 3zm51 49l-4 3-5 3-5 3-4 3-2 5 2 5 3 4 3 4 3 4 2 4 2 3 2 2 5 2 5 3 2 6 4 5 2 5 2 5 2 3 2 4 4 2 4 0 5-2 5-2 4 0 3-3 3-3 3-4 2-4-1-6-3-3-6-1-4-3-4-4 0-4 0-4 1-5 0-6-2-6 1-6 1-6 4-4 3-4 3-3 0-5 2-4-2-4-2-3-5-2-3-4-4-3-3-4-4-2-5-1-5 2-2 4-1 6-2 6-2 6-3 5-3 5zm58 59l4 4 5 2 5 2 4 3 4 3 3 1 6-2 5-2 5-1 6-1 5-4-1-7 0-6-1-5-1-6-1-6-4-3-3-3-3-3-2-2-2-2-3-4 1-4 3-5 3-5 2-4 3-5 2-5 2-5 2-6 0-5-2-4-2-4-4-1-5 0-6 0-5 0-6 1-5 1-5 2-3 2-4 3-4 3-3 5 2 5 1 5 1 5-2 5-5 2-5 2-3 4 0 5-2 5-1 5-1 4 0 6 1 3 4 1 5 2 4 3 3 5 2 5zm106-108l0-5-4-5-4-4-4-3-4-3-4-1-6 0-6 1-6 2-6 2-3 3-2 3-1 5-2 5-2 4-3 4 0 6 2 5 2 4-1 4-3 4-1 5-1 6-1 5-2 5-2 5-3 5-1 2-1 4 2 3 3 2 4 3 5 2 3 1 5-2 5-2 6-2 5-1 6 0 5 0 4-3 2-4 0-6 1-5 0-5 0-4-1-4-1-4 2-6 2-6 2-5 2-6 2-5 3-5zm5-99l2 4 4 0 4 0 5-1 5-1 5-2 2-3 0-3-1-4 1-5 1-5 1-4-1-5-1-5-3-3-5-1-5 1-5 3-4 4-5 4 1 6 1 6-1 5-2 5zm50 4l3-2 3-1 2-2 3-2 4-4 5-3 2-5 1-6 1-4 1-3-1-5-3-4-5 2-6 0-5 0-6-1-5-1-6 1-2 0-2 3-3 2-1 4 1 4 2 4 2 5 1 4 2 3 0 2 3 4 3 4 3 0zm8 5l4 6 5 3 5 2 4 3 4 2 3 1 3 1 3-1 4 0 5-3 4-4 3-4 3-6 4-3 4-4 5-3 3-4 3-4 2-5-2-5-5-2-5-2-6-3-5-2-6-3-5-2-5 0-4 2-3 3-2 5-3 5-3 4-3 4-3 5-4 4-5 4zm-53 2l-1 5 1 5 1 5-1 5 0 5 0 5 5 4 6 1 6 0 6 0 3 0 3-3 2-5 2-6 4-5 5-3 5-4 2-4-1-4-4-3-5-1-4-3-5-3-5-1-5 2-5 2-5 2-5 2zm77 26l0-4-2-4-6-3-5-2-6-1-3 0-2 1-2 2-2 4-4 4-4 3-4 4-5 3-2 5 1 5 4 4 3 3 4 3 2 3 3 2 4 1 4-1 5-1 2-2 1-2 3-5 3-4 2-5 2-5 2-6zm9-5l-3 5-2 6-1 6-2 5-3 5-4 5-1 3 2 2 4 3 4 4 4 4 5 2 5 3 5 2 5 2 4 0 4 1 5 0 5 2 5 1 4 2 3 1 3-1 2-5 1-6 0-5 1-6 1-5 1-6-1-5-1-7-3-3-3-2-4-4-1-6 0-6 2-6 1-5 0-6 0-6-1-4-4-1-2 1-2 2-4 3-4 3-5 3-4 3-5 3-3 4-3 4-5 3zm-65 68l5-3 4-2 5-3 4-3 3-4 1-5-1-4-2-3-3-5-2-5-2-5-3-5-3-2-4-1-5 1-5 0-5-1-4-2-6-1-5 3-4 3-4 4-2 4-2 4-2 4-1 5 2 5 3 4 3 4 3 4 4 3 3 0 3 1 4 0 5 1 4 2 4 3zm159-37l2 6 4 4 4 4 4 4 3 4 0 2-2 5-2 4-2 5-2 5 0 4 0 4 3 5 4 4 5 2 5 2 5 0 6-2 6-2 5-2 6-1 4 0 4-3 3-4 3-4 3-4 3-4 3-5-1-7-1-6 0-6 0-5 0-6-1-6 0-6 1-6 1-6 2-6 0-6-1-6-1-6 0-6 2-6 0-6-2-7-6 4-4 4-4 3-5 3-5 3-5 3-4 4-4 4-4 4-5 2-5 0-4-1-5 1-2 3-2 4-1 5-1 5-3 5-3 4-3 4zm-75 83l-6 3-5-1-5 1-5 1-4 4-3 3-1 5-2 4-1 5 3 4 3 4 4 5 5 2 5 0 5-2 3-2 5-3 5-1 3-3 0-4-1-5 0-5 0-4 0-5-2-4 5-4 6-2 5-1 4-4 2-3-1-4 1-5-1-5 2-6 0-4-1-5-4-3-4-2-5-2-5-2-5-2-3 1-3 1-1 2-2 3-2 4-1 3 1 6 1 6 1 5 1 6 0 6 2 5zm-90-39l-4-2-4 0-3-1-5-1-4 2-3 5-1 5-2 5-2 4-2 5-3 4-1 5 2 4 2 5 1 5-3 5-4 4-1 4 1 6 5 4 3 3 3 4 2 2 2 3 3 1 4 2 3-2 2-2 5-4 5-4 5-3 4-4 2-3 1-3-1-3 0-4 0-5-1-5-1-5-3-4-1-4-2-5-2-5-1-6 0-5 0-3zm28 3l-2-4-3-4-3-1-3 0-3 2-3 1-3 2-2 3 0 5 1 6 0 5 0 6 1 5 0 6 4 3 2 4 1 5 2 4 3 5 4 3 3 2 3 2 4 3 4-1 5-1 5-3 2 0 2-2 3-3 4-3 2-4-1-4-6-4-5-2-4-3-4-3-5-3 0-3-2-3 0-5-3-5-2-6zm101-5l-4 2-1 3 0 6 2 6 0 6-1 6-3 4-6 4-5 3-5 3-1 3 0 4-1 5 0 6 1 6 3 2 3 2 5 1 6 3 2 5 0 6 1 6 2 6 2 3 3 3 3 2 3 3 3 1 3-1 2-1 1-2 3-5 2-4 2-5 2-5 2-4 2-5 1-4-4-5-5-4-1-5-1-5 0-6 1-5 3-4 4-5 5-3 5-3 2-4 1-4 1-4 0-4-2-3-1-2-1-3-3-2-5-1-6 0-6 0-5-1-6-1-5-1zm62-80l6-3 4-5 3-5 4-5 6-2 6-2 5-3 5-4 2-4-2-4-2-2-3 0-4-4-5-4-5-4-5-2-5-2-6-2-5-2-6-1-5-1-3 1-4-1-5 2-5 2-5 1-5 2-5 3-3 3 0 5 2 3 1 3 3 4 3 4 3 4 4 4 3 3 4 4 3 4 5 3 4 4 4 2 4 0zm-451 148l-2 4-2 4 0 5 1 5 1 6 4 4 5 3 4 4 2 4 4 4 3 4 4 4 3 1 3 2 2-2 4 1 2-2 3-1 3-6 2-5 2-6 4-4 3-5 2-5-2-5-5-3-3-5-1-5 0-6-2-3-2-3-4 0-4-1-5 2-5 1-5 1-6 1-5 2-4 3zm73 33l-3 0-3-1-3-1-4-1-3 3-3 2-3 5-3 5 0 4 1 4 2 3 3 2 3 1 3 1 3 1 4 0 4-3 4-4 1-4 2-3 0-4 0-4-2-4zm164-9l-1-4-3-4-2-4-3-4-3-5-3-3-5 0-5 3-4 2-5 1-5 1-5 1-5 1-3 1-3 3-1 3 1 6 1 6 3 5 1 5 2 3 2 4 3 4 5 4 5 0 5-1 5-1 5 0 4-1 2-2 4-5 3-5 3-5 2-5zm-80 30l-2 4 0 5 3 5 2 6 1 5 2 5 4 4 5 1 5-2 2-4 1-5 2-4 3-5 3-4 1-4 2-6-2-6-3-2-4-2-5 1-5 2-5 2-6 1zm42 5l-3 2-2 5-1 5-1 5-3 4-3 4-1 3 1 3 1 3 5 4 5 3 5 2 4 1 4-1 4-3 5-3 4-3 5-2 6-2 2-3 1-4-1-3-3-5-4-4-2-4-2-5-2-3-3-3-5-1-5 0-4 2-4 2zm-70 46l-1 2-2 3 2 3 0 4 3 3 3 4 2 5 3 3 3 3 4-1 3-1 3-3 2-1 3-2 3-2 2-5 1-4 0-5 2-5 1-3 1-3-2-3-1-3-3-3-2-3-4-1-4-1-3 3-4 1-5 5-2 3-3 4-2 2zm34 24l2 5 4 2 5-1 5-2 5-1 6-1 5 0 4 0 3-3 2-4 0-5 0-6-3-4-3-3-4-3-5-4-5-2-5-1-5 1-3 4-1 5 0 5 0 6-2 4-3 4zm44-22l-1 6 1 5 1 5 0 5 1 5 5 3 4 5 4 4 1 0 4 0 4 0 5 0 3 0 4-1 4-2 4-3 0-5-1-6-1-5-1-6-2-5-2-5-2-5-1-4-3-2-4-1-4 1-4 1-5 2-5 2-4 3zm-172-6l-4-1-4 2-2 4-1 6 1 6 2 5 2 6 1 4 4 4 2 5 4 5 5 1 4 0 5-1 2-3 0-4-2-6 0-6 0-6 1-5 0-3-2-3-3-3-3-2-5-2-4-2zm-62 40l5 1 5-2 4-4 6-1 6 1 5 1 6 0 6-1 4-2 3-4 0-5-2-5-2-4 1-5-1-4-2-3-3-1-5 0-5 2-6 1-5 1-5 3-6 2-6 2-5 3 0 7 1 5 0 6zm131-22l-2 4-4 4-3 4-3 4-1 5 1 3 1 2 5-1 6 0 6 2 6 1 6 0 6-1 2-4 1-3 2-4-1-6-2-4-3-4-2-5-4-4-7-1-5 2-2 4zm150-102l-1 5 2 5 4 4 5 2 4 3 6 3 6 0 5-4 2-5 2-5 2-4 2-5 0-5-1-3 0-4-2-2-2-3-5-1-4 0-4 3-4 4-4 3-5 3-4 3zm39 21l4 3 4 2 4 1 5-2 4-3 3-3 2-4 1-5-1-4 0-4 2-4-1-5-2-5-5-4-5 1-4 1-4 4-2 5-2 5-3 5-2 5-1 6zm152-32l-4 4-1 5 1 6 4 4 4 3 4 3 4 1 4-1 4-2 4-3 4-3 2-4 0-4-2-3-2-3-4-1-6-1-5-1-6-1zm-33 40l1 4 1 3 4 1 4-1 5-1 5 0 5 2 5-1 4-3 2-2 1-6 2-5-2-5-4-5-4-4-4-4-5-3-5-1-5 2-3 5-1 5-1 4-2 5-2 4 0 3zm-168 36l4 0 5 1 5-1 6 1 6 0 6-1 3-4 1-4 1-4 1-3 1-3 1-5 1-5-2-4-3-4-6-3-5-2-5-4-5-3-5-3-4-1-3 1-3 2-2 2-1 2-2 2-3 3-3 3-3 3 0 3-1 3 2 3 1 3 4 4 3 5 1 6 2 3zm87 9l3-3 2-5-1-5-3-5-4-4-3-5-2-1-2-2-4-2-5-1-3-1-3-2-3-2-4 1-4 2-3 5-2 4-1 3 1 5 0 4 3 3 2 4 3 4 2 4 4 3 5 3 5 0 5 0 4-2 4-2zm37-16l0 4 3 3 2 2 4 3 4 3 4 2 5 2 3 1 3-1 4-1 3-4 2-5 0-4 1-5 0-5-2-5-3-3-4 0-4 1-3 1-4 1-4 0-4 2-4 2-4 2zm54 23l4-4 4-4 3-4 3-4 3-4 3-5 0-4-1-4-3-3-4-2-5 0-5-1-5-1-5 1-4 3-1 5 0 5 0 5 0 5-1 5 0 4 2 3 4 3 4 1zm-132 39l2-4 2-5 3-5 2-6 2-5 0-6-1-5-2-4-4-4-3-4-5-3-4-2-4-1-6 1-5 1-6 1-5 1-4 2-3 4 0 5 0 5 1 6 1 6 0 6 1 5 2 6 3 5 3 2 4 2 2 0 2 1 6-1 6 0 5-1zm16-32l0 5-2 5-3 5-3 5 1 4 2 4 3 2 4 0 6 0 5-1 5 1 6 1 5 1 5-1 5-2 4-3 2-5 0-5-1-5-2-5-4-4-3-4-4-2-3-1-3-1-5 1-6-1-5 1-5 2zm42-12l0 4 2 3 2 4 0 6 0 6 2 5 1 6 3 4 3 3 4 2 3 2 4-1 3-1 3-4 2-4 2-4 1-5 1-5 2-4 2-4-1-4-3-4-5-3-5-4-5-4-5-3-6-1-5 3-3 4zm35 46l-1 4 1 5 6-1 6-1 6 0 6 0 6 0 6-1 5-1-1-1 2-3 0-6-2-6-1-6-2-5-1-6-2-4-3-4-3-1-3-1-5 0-4 2-4 3-2 6-3 5-1 6-1 6-1 5zm49-28l-2 0-3 2 0 4 1 3 1 2 5 1 2-3 1-2 1-1 1-2-2-2z" fill="#e4e5e5" stroke="#d8cce8" stroke-width="1.2"/>
<path d="M398 71l-8 5m-45-14l12 10m12 45l2-14m98-49l13 25m-22 37l14-6m-268-83l-1 8m41 51l-20-20m207 133l-18 7m-176-40l-16-6m-65-20l-5-14m31 74l-12 11" stroke="#b497dc" stroke-width="3.6" stroke-linecap="round" fill="none"/>
<path d="M398 71l-8 5m-45-14l12 10m12 45l2-14m98-49l13 25m-22 37l14-6m-268-83l-1 8m41 51l-20-20m207 133l-18 7m-176-40l-16-6m-65-20l-5-14m31 74l-12 11" stroke="#5638ad" stroke-width="3.2" stroke-linecap="round" stroke-dasharray="4 6" fill="none"/>
</g>
<g transform="translate(24.2,10)">
<path d="M46.6 15L46.1 16.8L44.9 18.3L43.1 19.6L40.9 20.8L38 21.1L35.5 20L33.9 18.5L32.7 16.8L32.4 15L32.8 13.2L33.8 11.5L35.6 10.1L38.2 9.5L40.8 9.6L43.4 10L45.6 11.2L46.5 13.1ZM78.8 144.9L79 146.8L77 149.5L73 152.4L68.8 155L64.3 157.7L59.1 160L54.4 161.2L50.8 161.3L49.4 159.9L51 157.3L53.4 154.6L55.9 152L59.8 149.1L64.7 146.5L69.8 144.5L74.4 143.3L77.4 143.6ZM206.7 127.6L204.8 128.8L200.5 128.6L196.1 127.9L191.6 127.1L186.4 125.5L181.4 123.2L177 120.5L174.8 118L175.8 116.4L178.1 115.5L180.7 114.9L184.8 115.1L189.8 116.4L194.9 118.2L199.9 120.4L203.6 123L205.8 125.4ZM255.2 140.8L253.1 141.5L250.5 141.3L248 141L245.1 140.2L242 138.5L239.2 136.3L237.2 133.7L237.1 131.6L238.2 130.2L239.5 129.1L241.5 128.5L244.3 129.1L247.3 130.3L250.3 131.9L252.9 134.2L254.6 136.6L255.6 138.9ZM163.4 99.9L162.9 101.1L161.9 102.1L160.7 102.7L159.4 103.1L158 103.1L156.5 103L155.1 102.4L154.4 101.2L154.4 99.9L154.7 98.7L155.5 97.7L156.6 97L158 96.6L159.4 96.5L160.8 96.9L161.9 97.7L162.9 98.6Z" fill="#e598d8" stroke="#9a6cc8" stroke-width="1.6"/>
<path d="M42 17.3h0.1M41 19.2h0.1M39.2 16.5h0.1M37 15.3h0.1M38.3 11.3h0.1M36.7 11h0.1M35.7 16.4h0.1M38.1 19.8h0.1M42.9 18.3h0.1M44.6 14.5h0.1M33.5 13h0.1M36 13.6h0.1M41.2 12.7h0.1M41.9 17.7h0.1M39.5 16.4h0.1M40.2 16.7h0.1M64.1 157.2h0.1M60.1 157.9h0.1M69.5 150h0.1M72.4 147.4h0.1M53.7 155.3h0.1M55.1 153.5h0.1M67.3 155.2h0.1M60 150.6h0.1M61.4 149.4h0.1M69.8 152.8h0.1M70.5 146.5h0.1M53 157.4h0.1M64.2 150.3h0.1M68.9 151h0.1M67.2 155.7h0.1M53.8 156h0.1M69.8 152.2h0.1M62.4 157.5h0.1M54.2 157.3h0.1M71.2 147.3h0.1M70.7 146.7h0.1M71.5 151.3h0.1M67.5 149.3h0.1M61.8 156h0.1M68.9 148h0.1M57.3 152.2h0.1M68.1 154.8h0.1M60.3 156.6h0.1M70 152.9h0.1M63.8 154.8h0.1M58 158.4h0.1M56 157.3h0.1M52.5 157.1h0.1M64.8 152.4h0.1M56.6 152.7h0.1M68.2 148.5h0.1M187.3 124.1h0.1M178.2 118h0.1M188.2 122.4h0.1M202.2 124.3h0.1M198.7 127.3h0.1M192 126.1h0.1M189 117.7h0.1M180.9 119.8h0.1M185 119.9h0.1M191.6 117.6h0.1M194.1 119.6h0.1M185 116.1h0.1M187.3 118.3h0.1M189.3 122.1h0.1M190.4 122.9h0.1M184.2 118.7h0.1M188 118.3h0.1M201.7 125h0.1M196.1 121.4h0.1M187.2 121.3h0.1M195.5 123h0.1M185.9 117h0.1M181.6 118.9h0.1M181.5 117.3h0.1M180.7 119.3h0.1M185.7 120.1h0.1M193.4 119.4h0.1M182.6 122.1h0.1M182.2 122.4h0.1M196.7 120.3h0.1M203.1 125.3h0.1M250.4 136.9h0.1M245 135.2h0.1M248 137.7h0.1M248.7 140.4h0.1M244.6 139.1h0.1M242 130.6h0.1M246.4 136.2h0.1M249 135.2h0.1M239.9 135.1h0.1M244.9 130h0.1M239.4 131.9h0.1M250.9 138.5h0.1M241.7 136.2h0.1M244.2 137.2h0.1M252.3 139h0.1M252 138.1h0.1M246.9 135.8h0.1M243.6 133.4h0.1M240.9 132.1h0.1M250.4 139.4h0.1M156.3 101.5h0.1M155 99.6h0.1M158.7 100.1h0.1M156 101.5h0.1" stroke="#f3c4ec" stroke-width="1.6" stroke-linecap="round"/>
<path d="M40.2 15h0.1M43 11.4h0.1M42.1 13.5h0.1M42.9 10.9h0.1M45.2 15.1h0.1M42.2 11.4h0.1M43 16.2h0.1M36.2 13.5h0.1M41.9 12.9h0.1M40.7 16.6h0.1M40.4 12h0.1M39.8 16.9h0.1M40.6 19.8h0.1M39.8 15.8h0.1M43.6 17.8h0.1M38.8 13.2h0.1M75.5 147.3h0.1M66.6 154.7h0.1M62.4 148.6h0.1M66.1 151.9h0.1M55.3 157.1h0.1M61.6 156.2h0.1M64.8 155.5h0.1M74.4 144.6h0.1M58.6 155.7h0.1M67.4 148.4h0.1M55 158.3h0.1M61.7 155.5h0.1M63.7 154.7h0.1M71.6 152.8h0.1M64.6 155h0.1M67.8 153h0.1M64.7 153.1h0.1M66.6 148.7h0.1M63.7 157.1h0.1M63.7 149.6h0.1M65.7 148h0.1M73.6 147.2h0.1M66.9 149.5h0.1M65.3 152.5h0.1M71 145.7h0.1M63.8 152.8h0.1M189.7 117.9h0.1M187 124.8h0.1M197.7 121.9h0.1M190.5 125.6h0.1M189.9 117.9h0.1M197.8 122.9h0.1M196.7 123.6h0.1M202.5 123.9h0.1M198.7 121.7h0.1M194.3 120.3h0.1M186.3 121.5h0.1M194.2 122.8h0.1M183.5 118.7h0.1M179.7 119.6h0.1M194.4 124.9h0.1M194.2 127.2h0.1M187.9 120.5h0.1M197.9 127.3h0.1M183.3 115.7h0.1M203.7 125.3h0.1M198.8 123h0.1M189.8 120.8h0.1M187.8 124.5h0.1M184.7 117.1h0.1M188.4 118.9h0.1M180.3 121.1h0.1M181.1 118.5h0.1M197.7 122.6h0.1M200.8 127.9h0.1M196.1 127.7h0.1M189.2 117.1h0.1M247.3 134h0.1M246.2 135.4h0.1M249.6 132.5h0.1M248.9 132.4h0.1M241.8 134.2h0.1M250.5 133.4h0.1M243.4 136.2h0.1M245.7 130.8h0.1M239.8 134.3h0.1M243.8 130.2h0.1M249.7 139.6h0.1M247.5 140.7h0.1M248.2 137.5h0.1M241.9 134.9h0.1M241.1 131.3h0.1M245.4 130.8h0.1M253.7 139.5h0.1M252.9 135.9h0.1M250.6 137h0.1M159.7 100.5h0.1M155.7 99.4h0.1M158.1 100.5h0.1M161.7 101.8h0.1M155.4 101.1h0.1M160.9 102.3h0.1M161 97.8h0.1" stroke="#d872c8" stroke-width="1.4" stroke-linecap="round"/>
</g></g>
<clipPath id="c1"><rect x="287.1" y="10" width="254.8" height="169.6"/></clipPath>
<pattern id="t1" width="20" height="20" patternUnits="userSpaceOnUse" x="287.1" y="10"><rect width="20" height="20" fill="#b99ddc"/><g transform="scale(0.5)"><path d="M6 29l-1 0m22-6l1-2m1 13l-2-1m-23-21l1 2m-3 9l2 1m1 0l-2-1m11-2l0-2m-6 10l-1 1m18 0l-1 1m-14 3l1 1" stroke="#dc90d8" stroke-width="3.6" stroke-linecap="round"/><path d="M2 22l1 2m39-2l1 2m-12-10l2 0m-12 9l-2 3m9-1l4 1m-30-13l-2 0m42 0l-2 0m-8-3l2 1m-32-3l-2 1m42-1l-2 1m-16 22l3 1m0-7l-2 2m-27-11l-2 0m42 0l-2 0m-11-13l1 0m-1 40l1 0m-28-36l-2 1m42-1l-2 1m-24 7l0 3m-2-14l2 1m-2 39l2 1m19-17l1 1m-13-16l-1 3m4-13l0 0m0 40l0 0m-23-32l0 2m40-2l0 2m-31-1l3 1m22 5l2 1m-40-2l-2 2m42-2l-2 2m-34 0l2 3m38-3l2 3m-39 4l-2 2m42-2l-2 2m-32-8l-1 3m-2-28l2 2m-2 38l2 2m38-42l2 2m-2 38l2 2m-50-28l-1 1m41-1l-1 1" stroke="#5638ad" stroke-width="4" stroke-linecap="round"/></g></pattern>
<g clip-path="url(#c1)"><rect x="287.1" y="10" width="254.8" height="169.6" fill="url(#t1)"/>
<g transform="translate(287.1,10) scale(0.5)">
<path d="M225 237l-2 0m-6 4l-3 0m-12-9l-3 0m49 6l-4 0m-18-45l3 0m0 4l2 0m1 6l1 2m4 1l1 2m81 121l0 3m6 9l1 3m36-3l0-4m0-7l0-4m-39-2l2-3m30-7l4 1m-4 2l4 2m52 4l2-1m-7 3l2-1m9-21l1 1m-15-20l1 1m3 9l1 1m-38 22l-2 0m33 8l-3-1m-15-50l-2 0m21 57l-1 3m-199-229l-4 0m25-6l-2 0m11-9l0-2m-43-19l3-1m-19 6l1 0m35-15l2-1m4 2l3-1m-34 30l1 1m3 5l2 2m44-26l1 1m19 30l3 0m-6 11l0 1m1-4l0 3m13-10l0 1m2 16l3-1m-181 169l1 0m10-2l2 0m-14 7l3-1m-23-31l-1-2m6 1l-1-3m36 3l1 3m7 0l0 4m-10-18l0 3m-22-11l-3-1m9-1l-3 0m-86-168l1 3m-4 14l2-2m178 91l1 0m-10-4l3 1m-3-4l0-1m2-31l0-4m6 0l3-1m11 6l2 1m1 0l3 2m2 4l1 1m2 32l-1 2m12-28l-1 2m25-14l-1-1m-6-19l-1-2m-2-15l-1-3m-12 50l-3 1m2-2l-3 0m-24-25l-2 2m2 2l0 1m305 179l-1-1m0 0l-2-1m20 17l-1-1m-23-25l-3 2m5-5l-1 1m-277-104l-2-3m31-1l2-2m0-39l-1-3m4 8l0-1m-7-59l2 1m10 45l-1 2m4-1l-2 3m26-25l-2-1m-3 23l-1 1m-17 0l4 0m-130 191l-1-1m25 13l-2-2m0 4l-2-1m-32-20l1-2m-6 7l2-1m55 14l1-3m-1-12l2-3m-23-29l-2 0m-2-4l-2 0m-15 7l0 1m-4 8l-1 2m37-6l-2-3m12 9l-2-3m266-2l1-1m8-20l0-2m10-8l1-2m19 49l-1 1m5-6l-2 2m4-26l-2-2m-10-6l0-1m-14-13l-3 0m-22-15l3-2m-12 10l2-1m-8 4l1 0m36 3l1 1m-327 20l-3-2m-50 11l-1 1m-6 17l0 3m20 19l-2-1m13 2l-3 0m382-204l-1 3m0-1l-1 2m5-1l2 0m8 1l3 1m17 9l-1 3m-6 9l-2 3m-37-3l2 3m0-4l2 3m13 11l3 0m-6-58l-3 2m18-13l-3 3m17-17l2 0m6 25l1 3m-3-10l0 3m-2-4l1 3m-41 156l1-2m5-5l3 0m2-1l2 0m39-13l-1 0m-12 10l1-2m6-55l3-1m-16 11l-3 3m2-3l-1 2m2 18l-1-2m11 22l-1-3m-5-53l-2-3m-7-6l-2-3m-2 36l-2 0m-28-20l-2 3m4-12l0 1m-5 14l2 3m0-4l1 2m5 45l0-4m7-1l0-3m-4-17l-2 2m-186-23l-1-4m-7-15l0-3m15 26l3 1m16 3l3 1m6-23l0-1m-13-25l-1-2m17 34l-1 4m1-3l-1 2m-42-21l2-1m2-1l2-2m17-10l-1 0m-21 46l2-3m-18 17l1-1m2-42l1 0m15 64l2 0m-11 2l3 0m-9-1l2 0m36-11l1-1m-1-3l1-2m34-1l-2 0m-4-5l-2-1m24 2l-1 0m1 2l-2 1m16-10l0-4m-18-15l-1-2m12 12l-1 0m-32-15l-3 1m-47-44l3 3m13 11l1 1m200-121l0-1m1-26l-1-4m23-3l-2 0m-10 1l-1 0m-280 29l-2 2m15-14l-2 2m-10 19l0 2m39-29l2 0m-21 47l-1 0m20-11l-3 1m-12 10l-2 1m23-41l2 2m65 39l-2-3m-1 35l0 1m0-8l-1 3m-25-37l-1 0m17-1l-1 0m-25 1l-4 1m33 43l-4 2m-36-22l0-2m2 2l0-3m-1 8l1 1m8 7l1 1m-29 1l3-2m15-10l3-1m1-27l1 1m5 53l3-2m-15 10l2-1m23 17l0-2m0-6l0-3m7-104l-3-3m22 14l2-1m18-29l-1 4m7-9l0 4m-15-6l-4-1m-49 30l1-1m14-10l3-2m-34 18l2-1m50 15l1-3m41 30l2-2m0-4l2-3m-23 12l-3 0m6-1l-3 0m19-42l-2-2m-2-2l-1-1m-122-11l-1-3m-2-2l-1-2m-17 33l-3-2m-20-12l-2-1m0-9l0-4m0-16l0-1m2 0l2 0m-86 64l-1 2m5-20l-1 2m32-4l3-1m-11 1l1 0m-14 36l2 1m-10 1l1 0m30-44l2 1m11 21l1 1m-3 7l0 3m2 6l-1 1m-54 0l1-2m-26-43l0 1m6-7l-1 2m16 7l2 1m11 6l3 2m-33 35l2 3m-10-16l2 3m5 13l1 1m35 40l-2 0m-1 0l-2 0m26-3l1-4m3-28l1-3m28-48l-1 1m-5 3l-2 1m24-13l-1 1m-39 100l2 1m-7 0l1 0m20 44l-3 2m19 49l-3-1m1 2l-2-1m-21-21l-1-1m0-14l-1-2m12 89l-3 1m6-3l-2 0m-12 7l-4 1m39-29l-1 4m2-9l0 4m-43 20l-1-4m-9-32l-1-3m8 18l-1-3m12-27l-2 1m-9 7l-2 1m-36 17l1-1m39 43l1-2m-28-54l2 0m-80-184l2 2m3 4l2 0m9-4l1 0m26-28l0-1m-47 18l0-1m0 7l0-1m9-35l3-1m-51 8l1-1m-4 3l2-2m4 41l0-1m0-21l-1-3m-5-10l0-1m17-15l-2-1m5-1l-1-1m-1 44l4 0m-3 5l1 0m223 292l3-1m-8-4l2-1m-41-17l-1-2m17 24l-2-2m-12-8l-1-3m43-14l0 2m1 11l0 2m-23-39l-1-1m0 3l-3-2m-1-1l-1-2m31 49l-2 3m-35-52l2-3m-5 10l2-4m-13 23l2 0m-22 2l3-1m67-50l-3 2m1-8l0 1m-24 20l-3 3m41 5l0-3m-8 20l-1 1m-50-34l1 2m2-5l3 3m44-16l1-1m-246 52l0-1m43 22l4-2m4-8l3-1m-23 27l-1 3m-14-25l3 1m-5-7l3 2m425-121l-2-1m-1 36l-3 1m18-3l-3 1m-20-12l0 2m2-6l-1 2m-45 11l2 0m7-1l2-1m22 29l0-2m-3-26l2 1m-13-5l3 2m-46-28l1-1m13-16l1-2m23 35l0-2m-40 12l1 1m29-38l1 1m9 13l2 2m26-12l-3-2m-18 12l2-1m4 1l2-1m31-39l-1 0m-14-2l-1 0m-7 7l0-3m-1-2l0-2m37-36l-3-1m-32 0l-3 1m19-4l-2 0m-101 26l-1 2m4-6l0 1m32-20l2-1m-12 4l3 0m12 9l0 2m2 10l0 1m4-6l0 1m-64 10l2 0m10 3l3 0m12-36l3 2m-13-5l3 3m76 43l-3 0m0-4l-2 0m10 0l-4 1m4-34l-2-1m-8 1l-3-1m-69 53l1-3m4 3l0-1m36-3l0-3m34-90l-1-3m-8-17l-1-2m19 26l2 0m-9-3l1 1m-3-30l2-2m4-2l2-1m19 38l3-3m5 0l3-2m0-31l2 2m8 8l2 2m-70 44l1-1m4 1l3-3m1-43l2 1m-5-6l1 0m68 34l-2-2m9 3l-3-3m9 4l-2-2m1-38l-1 1m0-4l-3 2m-3 4l-1 1m11-46l0 1m-39 16l-1 2m1-2l-1 2m53 69l1-1m-13-95l2-3m2 0l1-2m-63 35l-2-3m-9-12l-2-3m-27 29l0-1m10-22l1-1m11-5l2 0m49-9l-4-1m-31-7l-1 0m-5 11l1-1m-370 151l0 1m-3-2l-1 2m12-43l-1-2m6 3l-1-1m-13-18l-3 0m-21 25l2-4m5-6l1-2m-14 36l2 1m21 6l3 1m14-55l-2 1m23-8l-2 1m2 39l-2-1m2-1l-2 0m15 2l-2 2m-44-71l-1 2m0 2l0 1m-2 3l0 2m-36 68l3 2m3-49l3 1m3 1l2 0m30 72l-1 2m-5 15l-1 3m-8-4l-2 1m9 2l-4 1m-41-19l-1 3m-1-10l-2 2m12 30l-2-3m100-191l2 1m3 1l2 0m-8 1l3 0m-7-2l2-2m44 23l0-2m-2-14l0-2m135 283l0 3m3-11l2 1m12 8l1 2m-6 12l-1 1m-3 6l-1 1m-18-31l3 0m24-21l-1 1m-33 46l2 0m10-4l2 1m-13 36l-4 0m-10-1l-1 0m22 0l-3 0m14-3l0 0m12-9l-1-3m-2 1l-1-1m48-34l1-1m-35 4l-1 0m1 2l-1 0m-2-4l1-3m3-3l2-3m12-17l2 0m12 45l-1-4m45-34l-2 1m-29 1l-2 0m12 1l-3 0m-47 51l1 0m2 0l3 0m-8-67l2 2m33-13l0 2m-5 8l0 2m61-248l-1-1m-2 0l-1-1m-377 264l2 3m-21-26l3 3m-3 4l1 1m36-24l3 0m-17-4l3 0m17 17l1 4m-9 28l-2 2m-14 2l1-1m-17 20l2-2m12-102l0 2m-7 11l-1 1m46-23l0 1m3 6l0-1m0 27l-2 2m-6 6l-3 2m28-6l-3-2m6 14l-2-3m-22 23l-3 0m11 49l-2-1m-9-10l-2-2m-3-2l-2-2m43-79l1-3m9 9l1 0m-9-2l2 0m13-9l3 1m3 4l0-3m-33 13l2-2m5-25l3 1m-23-2l2 0m51 36l-1-2m-15-42l1-2m-4 0l0 2m9 15l1 2m-25-33l2 0m-9-2l1 1m4 5l3 0m20 4l1-2m-2-30l0 4m1 21l1 2m-3-17l1 4m15 13l-4 0m23 4l1 1m-18-3l0 3m-5-3l0 1m23 16l-2 3m-3 8l-1 1m4-55l-1 2m5-11l-1 2m3-10l0 2m8 46l-2 0m-36 27l4-1m25 7l0-2m2 17l-1-3m-2-16l-1-2m-9 3l-1-3m3 14l-1-2m0 14l-1-4" stroke="#dc90d8" stroke-width="4.0" stroke-linecap="round"/>
<path d="M243 233l-2 0m6 3l-2 0m-7 1l-2 0m-17-2l-2 0m-3 1l-5 0m29-2l-2 0m-44-1l-1-2m0-3l0-1m25-31l2 0m-7 0l5 0m28 28l3 4m2 4l2 4m-8-18l1 3m-13-18l2 3m91 136l1 3m-4-17l1 4m40-1l0-5m-1 4l0-3m1 7l0-3m-26-19l0-1m-5 3l4-3m-14 11l2-2m25-6l3 1m9 4l3 1m-3-1l2 0m45 5l2-1m12-5l2-2m-12-17l1 2m-11-21l2 2m15 29l2 3m-18-31l1 1m-4-8l3 4m10 17l2 3m-44 17l-2-1m9 3l-3 0m-1-2l-1 0m8 3l-3-1m13-49l-3 0m15 67l-1 4m-2-7l0 3m0 2l0 2m-184-240l-1 0m-3 1l-4 0m10-4l-2 1m8-3l3-3m5-1l2-2m-2-8l1-2m-1-7l1-1m-34-7l2 0m17-6l3-1m-24 9l2 0m-5 4l3-1m22-6l3-2m-44 9l2 0m16 33l2 3m-4-9l3 3m-22-26l0 1m2 5l3 3m-4-8l3 3m51-13l2 3m-7-10l3 4m28 35l2 0m-6 1l0 2m3 4l0 3m-5-6l1 2m17 1l1 3m-4-1l1 5m3 6l3-2m-167 171l2 0m-14 2l3 0m9-2l5 0m-22 3l1-1m-17-19l-1-3m-3 8l0-1m1-5l-1-3m7 14l0-1m38-1l0 5m0-8l0 2m1-18l0 4m-7-9l0 2m-20-17l-5 0m26 6l-2-1m2 2l-4-1m-103-167l1 4m-2-5l0 1m-3 1l0 3m7 5l2-2m184 92l4 2m-4-4l3 1m-5 0l3 0m1 4l3 1m-24-16l1-3m0-12l0-1m-2-9l0-3m2 6l0-4m3-4l4-1m4 2l2-1m7 4l2 1m12 7l2 1m-11-10l3 2m-13-7l3 2m16 33l-1 2m0 4l-2 3m8-15l-1 2m-1 0l0 1m20-47l-1-3m10 28l-1-1m-10-22l-1-3m4 2l-1-3m5 21l-2-4m-17 18l-4 1m12-3l-3 1m-4-1l-2 0m-24-25l-1 2m9-20l-1 3m-6 13l-1 2m296 186l-4-2m33 17l-3-2m-3-1l-2-1m5 2l-3-1m-22-15l-2-1m26-25l-1 0m2 2l-3-1m-6-1l-1 2m-20 23l-4 3m10-9l0 1m11-13l-2 3m-289-97l-2-5m32-2l2-2m-7 7l1-1m11-12l2-2m-3-10l-1-1m-2-16l-1-4m-2 0l-1-1m9 29l-1-4m-6-75l3 1m10 1l4 1m-20-6l3 1m11 39l-1 3m2-1l-3 4m-6 5l2-1m33-19l-2-1m2 20l-1 3m-2-7l-1 5m3-7l-1 3m-5 4l5 0m-21-2l2 0m-6 2l4 0m-114 198l-4-3m-7-7l-2-1m15 10l-2-2m-10-6l-3-1m-25 7l0-2m-2 9l-1-4m12-13l2-2m-12 11l2-1m4-1l3-3m50 11l-2 1m4-8l0-1m-2 3l1-2m3-9l0-2m-16-32l-3 1m3-4l-1 1m-28 24l0 2m6-10l0 4m-2-10l0 4m46 9l-1-1m-8-8l-1-1m3 1l-3-3m266 6l3-4m1-1l2-4m3-2l0-1m13-26l1-2m-17 40l1-3m13-32l2-3m22 49l-1 1m2-5l-2 2m6-1l-2 3m-8-36l-1-2m16 24l-3-3m-16-27l-1-2m8 6l-3-4m14 32l-1-2m-27 24l-1 0m4-59l-3 0m-4 72l1-3m-4 6l2-4m-3 2l2-4m-29-79l3-2m-11 8l1-1m0 3l1 0m36 0l4 3m-12-9l2 2m-2-1l3 2m38 79l-2-2m-11-9l-1-2m2 9l-1-1m44 6l-2 2m-389-60l-1-1m0 3l-2-2m-41 6l-3 3m2-1l-1 1m-13 18l0 2m3-5l-1 5m34 23l-4-1m9-3l-3 0m-4 3l-4-1m370-184l0 2m7-15l-2 4m1-2l-2 4m34 1l3 1m-11-6l4 1m-6-3l5 2m-19-4l3 1m21 21l-2 3m-3 2l-3 4m4-9l-2 3m11-15l0 1m-41 14l2 3m4 1l2 2m17 4l2 0m-19-44l1 3m-2-7l1 3m4-13l-2 3m-2 5l-3 2m24-21l0 1m-7 4l-3 3m17-14l2 0m-1-1l4 0m8 39l1 2m-3-18l0 1m0-11l0 2m7 31l1 5m-13-44l1 3m3 38l-2 1m-39 116l2-2m23 1l3 0m4-1l4 0m-29-1l3 0m-5 2l4 0m32-12l-3 0m10-1l-5 1m-4 2l2-3m5-49l3-1m-21 13l-3 4m10-12l-1 1m3-1l-2 1m-5 21l-1-1m3 10l-1-3m4 13l-2-2m1-7l-2-5m-1-45l-3-4m1 11l-2-3m10 13l-3-3m-18 18l-4 1m9-2l-3 0m-8 4l-4 1m0-42l-2 2m-10 5l-2 3m1 3l-1 1m5 23l2 4m0-10l2 4m-2-2l1 2m-1 36l0-5m-2 8l0-2m5-10l0-1m-2-12l0-3m3-4l-2 3m-195-38l-1-3m4 15l-1-2m1 13l4 1m25 4l2 0m-29-10l1 0m35-16l-1-2m-14-25l-1-1m8 19l-1-2m-4-17l-1-2m13 44l-1 4m0 7l-1 3m5-18l-2 3m-38-25l1-1m11-8l3-3m5-2l3-3m-25 23l1-1m-1 27l3-3m-5 8l3-4m0-1l2-2m-6 8l3-2m-17-30l4 1m-4-5l3 1m34 68l2 0m-9-1l4 1m-34-6l3 0m23 5l2 1m-7-5l2 0m23-7l0-2m1 1l1-4m-7 17l2-5m1-4l1-2m42-6l-2-1m-15-7l-3-1m14 8l-4-2m-16-10l-2 0m35 15l-4 1m-2-1l-3 2m4-1l-1 1m16-24l0-4m5 8l-1-4m-21-18l-2-2m10 6l-3-2m11 13l-4-3m-25-10l-3 1m-4-3l-2 0m-26-31l1 1m-6-5l3 2m-14-10l2 2m215-118l0-5m-3 3l0-4m-2 13l0-5m2 3l0-4m1-24l-3 0m5 3l-3 0m10 3l-1 0m-276 22l-3 2m13-12l-3 2m-6 6l-1 1m5-1l-4 3m-3 11l1 3m-3-7l0 4m35-25l4 0m-9-4l3 0m23 38l-3 2m-19 5l-1 0m11-3l-3 1m-3-1l-1 1m3-3l-3 1m12-35l3 3m0 2l2 2m53 28l-3-3m2 3l-2-2m4 42l-1 1m9-12l-1 3m-3 6l-1 1m6-27l-1 3m-35-17l-2 0m-8 0l-3 0m35-2l-1 0m1 2l-2 0m-20 3l-3 0m27 41l-4 1m6-3l-3 1m-7 3l-2 1m-30-30l0-4m-1 2l1-3m-1 3l1-4m10 38l3 3m-1-5l2 3m-10-15l2 3m-20 0l3-2m0-3l4-2m7 3l4-2m-7-35l3 2m-7 64l4-2m-2 1l3-2m-7 2l4-2m25 3l0-2m3 8l0-2m-4-10l0-2m4 27l0-4m17-107l-2-3m-4 0l-1-1m8 7l-1-1m15-3l3-2m0 0l3-2m-1-2l4-2m-10 5l3-2m12-10l-1 5m3-21l-1 2m-24-7l-4 0m-45 36l2-2m-1 0l3-2m13-5l1 0m1-8l4-2m18 39l1-4m-1 3l0-2m3 4l1-4m48 10l3-3m-5 5l2-3m1 1l2-3m-21 17l-4 0m-1-3l-2 0m11 2l-2 0m22-21l1 5m-12-17l-4-3m1 3l-3-2m-7-10l-1-1m8 7l-2-2m11 16l-3-3m-107-29l1-2m-1 0l2-5m-32-3l-2-3m3 2l0-1m13 18l-1-3m-36 22l-1 0m11 1l-4-2m-21-10l-3-1m24 15l-4-2m-18-43l0-3m0 31l0-2m1-13l0-3m-3 14l0-3m-77 28l-1 5m-3 9l-1 3m1 1l-1 1m24-29l2 0m-13 3l1 0m14-1l4-1m-19 7l1-1m11 38l1 1m10 1l2 1m-2 1l5 1m-36-13l2 0m40-33l3 3m-4-1l2 1m4 21l0 3m4-9l0 5m-6-12l0 2m-1 27l-2 2m-3 1l-3 2m-51-4l4-3m5-3l2-1m-31-35l-1 2m12-15l-2 3m-16 19l-3 3m44-12l2 1m-7-5l2 2m-1 1l3 3m-7-6l3 2m-32 21l2 4m10 17l2 3m-3-2l1 2m-14-20l2 3m47 55l-1 0m0 1l-2 0m17 3l-3 0m7-9l0-1m4-14l1-3m1 4l1-3m-6 21l1-3m-2 7l0-1m31-85l-5 3m15-7l-2 1m-9 5l-4 3m11-5l-1 1m-10 99l3 2m-16-11l2 1m11 6l1 1m-10-5l3 2m4 41l-3 3m3 45l-4-1m24 3l-2 0m4 1l-3-1m-28-38l-1-4m4 23l0-4m2 14l-1-3m-1-27l-1-2m1 35l-1-4m22 58l-4 1m-12 3l-3 0m0 0l-4 2m31-12l-4 1m6-1l-1 3m2-5l0 2m-1-18l0 2m-42 2l-2-3m-2-2l-1-3m-4-5l-1-3m7 4l-1-3m4 7l-1-2m-7-9l3-3m9-5l-1 0m1 2l-4 2m-38 15l3-3m37 49l2-3m4-8l1-2m-25-44l-3 0m-10 5l3-1m-80-189l4 3m-5-1l1 0m22 0l2 0m-14 2l2 0m33-34l-1-3m-49 0l0-4m0 11l0-2m2-7l0-3m-1 21l0-4m19-20l2 0m-10 2l4-2m0-1l3-1m-63 13l1 0m13-7l3-3m-2-4l1-1m7-4l-1-3m-19 63l0-1m3-1l2-3m5-8l-1-3m-3-3l-1-4m-2-16l-1-2m10 25l-1-2m9-39l-5-2m26 13l-1-1m-14-8l-1-1m12 47l5 0m-6-3l4-1m-9 0l3 0m195 299l3-1m3-1l1 0m-2 0l3-1m-2 3l3-1m-33-15l-1-2m4 2l-1-2m5 12l-1-1m-3-1l-1-1m-3-6l-1-2m42 2l1 3m2-20l0 4m-26-27l-1-1m24 21l-3-2m-5-4l-3-3m-1 1l-3-2m16 40l-1 2m-32-54l2-3m-7 4l2-3m-5 18l2-4m1 2l1-1m-29 17l4-1m-8-2l1 0m6 0l2 0m32-28l-3 3m17-15l-4 3m-5 5l-1 1m3-4l-4 3m44 5l1-2m-1 2l0-2m-11 24l-2 2m-2 2l-4 2m4-6l-1 1m-44-34l3 4m5 3l3 3m-5-3l1 1m41-32l0-4m-4 8l0-3m-245 55l-2-3m-2 14l1-5m0 2l1-2m0-1l1-3m58 10l2-2m-9 4l4-2m-17 18l-1 2m2-9l-1 2m-35-19l2 1m12 5l4 2m3-2l3 1m-5 1l5 2m6 1l3 2m480-244l0-3m-71 118l-3-1m13 29l-4 0m-21 7l-4 1m13 0l-4 1m19-9l-3 0m-17-7l-2 4m6-21l-1 4m-50 22l4-2m1 1l4-1m-3 0l5-1m28 25l-1-2m-2 7l0-5m-16-26l3 3m-1-3l1 1m1 5l3 2m11 3l2-2m-53-38l2-2m5-8l2-3m-20 25l2-2m-1-1l2-2m38 11l0-1m4 4l1-3m-46 8l4 3m5 7l3 1m18-43l3 3m4-2l2 2m-7 1l3 2m41 0l-2-1m-8-2l4-3m-20 11l1-1m-2 4l3-2m26-42l-1 0m0-1l-5 1m-2-1l-3 0m-1 7l-1-5m-2 6l-1-5m5 18l0-4m23-56l-2-1m2 0l-3-2m11 6l-1-1m-31 4l-2 2m7-4l-3 2m-7 35l-1-1m-75-18l-1 4m5-19l-1 5m-6 3l0 1m22-13l2 0m1 5l4-1m-6-5l4 0m-8 1l3-1m18 33l0 3m-2-34l0 4m-2-6l0 4m0 12l0 3m3 19l0 5m-38-7l2 2m-6-6l2 2m-13-2l1 0m-10-1l2 0m-7-2l2 0m-4 0l2 0m20-41l3 3m4 1l3 3m-10-3l3 3m48-2l-1 1m31 42l-2 0m-8 3l-3 1m0-1l-2 0m21-1l-4 1m3-3l-4 1m-8-38l-3-1m1 4l-4-2m8 1l-1-1m-9-6l-4-2m-59 61l2-4m3 0l0-1m-4 6l0-2m44 7l0-2m1-9l-1-5m26-105l-2-4m6 18l-1-3m20 13l3 1m3 2l4 1m-9-3l2 1m-3-45l1-1m-24 19l3-3m5-6l4-3m23 38l2-2m-2 5l1-1m0-37l2 2m10 5l3 4m-15-15l1 1m13 13l1 1m-1 1l1-4m-47 26l2-3m-19 24l2-2m14-17l1-2m-13 21l1-2m8-15l2-3m-28-32l3 1m8 2l2 1m4 4l3 1m55 11l-1-1m3 0l-4-3m15 12l-2-3m3 7l-1-1m5 7l-1-2m-10-29l-1 1m5-4l-1 1m21-11l-2 1m-3-1l-3 2m-34-25l-2 3m3-1l-1 2m12-15l-2 2m0-9l-2 3m6 0l-2 3m45 84l1-1m7-3l3-3m-29-83l1-2m-72 13l-1-2m18 24l-1-2m-11-18l-1-1m12 21l-1-1m-40-18l1-3m0 12l1-2m5-11l2-4m-15 21l2-4m13-18l2 0m2 2l4-1m53-8l-2-3m-18-4l-3 0m11 1l-3 0m12 1l-3-1m-17-3l-4 0m-10 1l1-1m-8 6l1-2m0-1l1-2m-352 133l-3 3m0 5l-2 3m6-9l-1 1m-12 18l-2 4m9-49l-1-3m3 18l-1-2m2-1l-1-2m-20-15l-2-1m4 3l-4-1m-23 41l1-2m2-5l1-2m-1 8l2-5m2-10l1-2m9-24l1-3m-8 20l1-2m-10 29l3 1m1-1l2 1m20 12l4 1m28-67l-2 1m-17 10l-3 2m32-20l-4 3m-12 9l-3 3m3 28l-2-1m22 7l-1-1m-5-4l-1 0m23-6l-2 2m-6 5l-1 1m9-10l-3 2m-62-41l0 1m5-25l0 5m-6 29l0 3m-2-9l0 1m5-16l0 4m-40 61l3 2m6 5l3 2m-12-10l3 2m6-43l2 0m11 2l1 0m6 3l4 1m-23-8l5 1m33 66l1 2m0 17l0 2m-3-3l-1 3m1-5l-1 4m-3 9l-2 0m-14 2l-2 0m18-4l-3 0m-1 2l-5 1m8-4l-2 0m-43-14l-3 4m9-17l-3 4m1 3l-2 3m10-21l-2 3m-8 32l-3-4m-5 0l-1-1m108-180l0-3m10 7l3 0m24 5l4 0m-34-6l2 0m14 7l2 0m-39 5l4-3m3-1l1-1m51 22l-1-3m3 5l-1-3m-4-10l-1-3m5 13l0-4m136 254l4-3m-8 27l0 3m5-14l0 1m15-1l3 3m-18-18l3 3m4 30l-2 2m-25-32l1 0m11 0l5 0m-3-2l4 0m13-22l2 4m-8 4l-1 4m4-3l0 1m2-8l-2 4m-12 47l4 1m-2-2l1 0m-22-3l4 1m2 31l-5 0m-1-1l-2 0m-11 2l-5 0m35-1l-1 0m-23 1l-1 0m35-4l-1 1m4-5l-2 2m2-10l0-1m-6-4l-1-4m48-14l0-1m2-15l1-2m-3 0l0-1m-5 18l-1 0m-18-5l-3 0m0-18l1-2m-6 16l1-3m-1 5l0-3m7-20l1-3m20 3l5 1m-16-3l1 0m9 1l3 1m1 5l2 1m-3 29l0-1m27-28l-2 0m17-5l-4 1m-5 2l-2 0m0 0l-2 0m-53 56l3 0m7-1l4 0m-15-64l1 0m29-4l-1 1m0-14l-1 4m3-6l-2 4m-93 95l1 1m1 3l1 2m44-5l0 5m-1-11l0 2m224-192l2 0m-125-143l-2-1m8 7l-3-2m5 7l-3-3m-379 260l2 3m-4 1l3 4m-12-17l1 1m-4-9l3 4m-11-19l1-2m4-4l4-3m6-3l2 0m9 3l2 0m-14-6l5 2m22 12l2 4m4 3l2 4m-5-8l1 2m2 16l-1 3m-2-2l-3 3m4-3l-2 2m-14 17l-3 1m6-3l-1 1m-13 10l3-3m-6 13l2-4m4-15l0-1m-6 14l2-4m2-88l-1 3m0-4l-1 4m-2 13l0 1m-2 2l-1 5m41-37l2 3m6 21l0-2m0 2l-1-4m-2-6l0-3m-6 26l-3 3m1 0l-1 0m10-8l-3 2m15-3l-4-2m5 9l-3-1m16 8l-2-3m2 3l-2-4m1 5l-1-3m-32 23l-3-1m10 3l-1 0m8 50l-3-3m-22-23l-2-3m26 29l-2-2m2-4l-3-3m-23-16l-1 0m62-61l2 0m-10-4l4 0m12-9l3 1m-26 14l4-4m0-3l1-1m-16-16l4 0m-8-4l2 0m-5 1l4 1m14-1l5 1m5 8l0 2m20 17l-2-2m8 11l-2-4m-22-41l1-2m13 15l1 3m-17-32l1 0m-4-1l5 0m-11-2l1 0m-5 2l3 0m18 1l4 0m-2 10l1-2m-2-39l1 4m-3 0l1 1m3 6l1 3m1 15l1 4m23-2l-2 1m7-3l3 3m6 7l2 2m-27 12l1 4m2-1l0 3m-2-13l0 3m19 7l-2 3m3-11l-1 3m-12 11l-2 1m-1-2l-2-1m25-74l-1 3m-3 8l-1 2m-7 9l-1 3m7-20l-1 4m-8 34l-1 4m-22-4l1 0m7 2l2 0m42 15l-1 0m-6-2l-3-1m-5 50l-1-5m-6-27l-2-4m6 18l0-2m-4-5l-1-3m-12 3l-1-4m3 13l-1-3m-2-5l0-1m5 17l0-1" stroke="#5638ad" stroke-width="4.4" stroke-linecap="round"/>
<path d="M287 58l5-1 5 0 5 0 5 1 5-1 6 0 3-1 2-2 1-5 0-5 1-4 0-3-3-3-4-4-3-5-2-5-3-2-3 0-3 2-5 3-5 1-5 2-4 4-5 2-6 3-4-5-5-3-4-3-4-1-4-2-5-1-3 1-4 2-3 5-4 3-5 3-5 4-2 4 0 5 2 4 2 4 2 3 2 3 1 4 2 2 3 2 4-1 5-3 5-2 6-1 5 0 6-2 5-3 5-3 6 1zm-41-39l5 1 4 0 4-2 3-2 3-3 2-5 3-5 0-5 1-6-5 1-6-1-5-2-5-1-5 0-6 2-4 3 2 0 2 4 2 5 1 6 2 5zm37 45l-3-2-4-1-4 0-5 1-6 1-6 1-5 2-5 3-5 3-3 3-2 5 0 3 0 4 3 2 3 1 4 2 3 3 5 3 4 0 4-1 5 1 5-1 4-2 5-3 2-5 1-5-1-4 1-5 1-4zm-84-69l-2 4 0 5 0 5-1 5 2 5 1 4 2 3 4 5 4 5 5 4 7 3 7-4 4-4 3-4 5-3 2-4 1-5-1-5-2-6-3-5-5-4-4-3-3 0-4 0-4-2-5-1-5 0-5-1zm37 100l-5 3-3 5 1 6 2 5 1 6 1 6 2 5 4 3 5-1 4-2 1-2 2-2 1-4 0-3-2-4-1-5-1-5-1-5-3-4-4-1zm70 12l3-1 3 1 6-1 6-1 4-3 4-4 1-5 0-5 0-5 1-4-1-5-3-3-4-3-4-4-3 0-5 0-6 0-6 0-5-1-6 0-5 3-3 5 0 5 1 4 1 4 3 3 2 3 3 4 3 3 2 4 3 4 2 2zm-83-44l-5 0-5 2-6 1-5 1-6 1-6 1-6 2-3 2-2 4 1 4 2 2 3 5 3 4 3 4 3 4 5 3 6-1 6-1 5 1 6-1 4-3 2-6 3-4 1-4 0-4 0-5-2-3-4-5zm109-25l-2 5-2 5 0 5 0 4 3 3 2 4 2 3 4 3 5 1 6-1 6-1 6-1 3-2 3-1 4-4 2-5 1-4 0-4-1-4-4-3-4-5-3-4-4-5-4-1-5-1-4 2-3 3-3 4-4 3zm-225-46l2 5 4 1 5 1 6 0 5 2 5 0 5 0 7 0 2 7 1 5 1 5 0 6 1 5 1 3 1 3 2 2 3 2 5 1 4-2 6-2 5-3 6-2 5-3 3-3 0-4 0-6 1-5 2-5 0-6-1-5-2-3-6 0-6-1-5 0-6-1-6-1-6 0-5 1-6 2-6 1-5 0-6 0-6-1-5 0-6 1zm164 26l0 3 1 3 4 1 3 1 3 0 4-1 5-2 4-4 5-1 4-3 5-1 2 1 3 4 5 4 3 4 5 3 6 2 5-3 5-3 5-3 5-3 1-5 1-6-1-6-4-6-5-2-6-2-6 0-6 0-6 1-6-1-6 0-6-1-6 1-5-1-6 1-6 0-6 0-1 4-2 5 1 5 0 5 1 3zm-110 52l1-4 0-6 1-6-1-5-1-5-4-3-3-4-5-2-5 0-5 1-4 2-5 3-4 1-5 3-4 4-1 4-1 4 0 5 0 5 2 5 4 4 5 2 5 1 4 2 5 2 4 2 7-1 5-4 3-5zm-16 50l5 3 4 3 6 1 5 2 5 1 3 0 3 0 3-1 3-2 3-4 5-5 3-5 2-5 0-4-3-3-4-3-3-4-3-4-2-5-4-4-3-4-3-3-5-1-3 3-3 5-4 3-2 3 0 6-1 5-2 6-2 5-2 5zm63 34l-2-4-4-3-4-3-3-4-4-4-4-3-4 0-3 1-4 1-4 2 0 4 0 6 1 5 0 5 1 6-1 4 3 3 5 3 5 3 6 1 6-1 1-2 1-2 2-4 3-5 2-4zm-117-140l1 5 3 5 5 3 4 4 6 2 4 4 4 2 4-1 4-2 4-2 5-1 4 0 5 0 5-4 2-6-1-4-3-4-2-4-2-7-6-3-6 0-6 2-6 0-5 0-6-1-3 1-3 2-4 1-4 3zm274 57l-5 1-5 0-4 1-5 0-5 3-3 4-2 6-1 6-1 6-1 5 3 4 3 4 4 3 3 4 4 3 6-1 5-1 6 0 5 1 6 0 3-2 3-2 4-2 3-3 4-3 4-4 4-3 3-4 2-5 1-5 2-5 2-4 0-4-1-5-2-4-2-5-5-1-4-2-5-1-4-1-6 0-5 2-4 3-4 4-3 4zm-299-71l-4 2-6 3-4 3-6 3-2 2-1 4 0 5 0 5 2 5-1 5-1 4-2 4 2 3 3 2 5 1 6-1 5 0 5-1 6-2 2-5 2-6 2-5 3-5 3-4 0-4-1-4 2-5 6-3 5-2 4-4 1-5 0-2-4 0-5 0-6 0-5-1-5 0-5 0-6 0 0 5zm25 88l-3 3-5 2-6 1-5 2-3 4-2 3 0 3-1 4 1 4 0 4 1 5 3 4 4 2 6 0 5-2 5-1 3 0 3-1 5-1 5-2 3-3 4-3 5 0 5 1 4 2 5 0 4 0 4-2 2-4 1-5-1-5 1-5 0-5 1-3-2-3-3-2-5-1-5-1-4-3-5-3-5-1-5-1-4 3-4 3-5 2-4 2zm138 55l3-4-1-5-2-6-2-5-1-6-2-6-2-4-4-2-5-3-4 0-4 0-5 3-3 4-2 5-3 4-2 5-2 5 2 5 3 4 6 3 5 3 5 4 4 2 5-2 6-1zm78 13l-4 3-2 5 2 5 3 4 2 4 2 5 3 4 3 1 3 2 2-2 3 1 5-1 7 0 2-5 2-4 2-5 2-5 0-5-2-5-3-3-5-2-6 0-5 0-6 1-5 1zm-29-15l3 4 4 4 4 3 4 3 5-1 4-3 2-5 0-4 0-5-2-5-1-4 0-4-2-4-4-2-5 0-4 1-3 2-3 3-1 5 0 4-1 3zm170-146l5 0 4-3-5-1-4 0-5-1-5 0-6 2 6 1 5 1zm-64-1l3 0 1 3 1 5 2 4 5 2 5-1 3-1 3-1 4 3 5-2 5-3 2-5 2-7-7 1-6-2-5 0-6 0-6 1-6 2zm-21 2l0 3-2 3-2 4-2 4-3 5 0 5 3 5 4 3 4 2 3 4 4 3 4 4 5 0 6-2 2-5 1-6 1-5 2-5 0-2 2-3 0-4-2-3-3-3-4-2-5-3-3-2-3-2-3-1-4-1-3 2zm-127 156l-5-2-5 0-4 0-4 1-5 1-2 6-2 5-1 6-3 6-2 5-1 4 1 4 5 5 7 2 5-1 4-1 5 0 4-3 3-3 3-3 3-3 2-6-2-5-1-4-1-5 0-5zm-110 14l3-4 0-6 1-6 1-6 2-5 2-5 1-5-2-4-4-2-6-1-5-1-6-1-4 3-4 3-5 3-2 4-2 5 1 6 2 5 4 5 2 5 0 2 1 4 3 3 6 1 6 0zm120-24l-3 4-2 5 0 5 2 5 3 4 3 4 2 4 3 4 5 2 5 2 5-1 4-3 2-4 3-4 3-2 3-3 1-5-2-4-2-4-3-3-2-4-4-1-3 0-6-1-6-1-5 0zm102-19l-2-3-3-4-3-3-4-3-3-4-4-1-3 1-4 3-5 2-5 2-2 1-2 3 0 6 2 5 1 6-1 5-3 6 0 3 3 2 3 0 6 0 5 1 5 0 6 0 2-3 1-2 2-5 4-4 3-5 1-6zm-79 59l0 4 3 5 3 5 2 4 1 2 1 2 4 2 5 2 5 2 4 1 5 2 3-1 2-1 2-2 3-4 3-5 2-6-5-4-4-3-3-5-2-4-2-5-2-5-3-1-3 0-2 1-4 3-5 2-5 3-6 2zm195-63l3 1 4-1 3-4 4-5 4-3 4-5 0-7-5-5-5-3-4-5-4-4-5-2-5 1-4 3-3 4-4 3-7 1-5-3-5-2-5-2-4 0-3 0-4 1-2 3-3 4-2 4-3 4-3 3-3 3-2 4 1 4 1 4 4 2 4 0 4 2 4 2 4 3 6 2 5-3 5-2 4-3 4-2 6-1 5 1 5 2 3 0zm-215 61l-3 3-3 3-3 3-3 2-2 5 1 5 2 4 2 5 2 4 2 4 3 4 4 1 4-1 4-2 4-3 4-4 3-5 1-4 0-4-1-5 0-6-2-6-4-3-5-2-5 0zm-92 3l-5-5-7-2-7 3-2 6 0 5 1 4 1 4 0 4 2 5 1 4 1 5 2 6 6 3 3-1 3-2 2-3 2-2 0-3 0-3 0-5-2-6 0-5-1-6zm-137-189l2 3 3 4 4 3 3 5 4 2 6 1 5-3 4-3 5-3 4-3 1-5 0-1-4 1-5 0-6-2-5 0-6-1-6 2-5 1zm369 50l2 6 5 3 4 0 3 0 5 0 4-2 4-2 4-3 5-2 3-4 2-6-4-5-3-4-4-4-3-5-4-3-6-2-5 3-3 5-2 5-2 5-2 5-1 5zm-196 179l4 4 2 2 3 0 5 0 5 1 5 2 6 0 5 1 5 1 6 1 5-3 2-7-3-5-4-4-3-5-2-5-2-5-3-4-5-2-5-1-4-1-4 1-3 0-3-2-3-5-2-5-4-2-5-2-6-2-5-3-5-2-6 0-3 3-2 4-3 4 0 5-1 5 2 5 1 5 2 5 1 5 2 4 5 2 4 2 5 1 6 1zm18 60l4 1 2-2 5-4 5-3 4-4 6-3 5-3 5-3 3-5 0-6-1-6-1-3-2-2-3-1-6 0-6 1-5-1-6 0-6-1-6 0-6 0-3 0-2 2-1 3 0 5-1 6-3 6-2 7 5 5 6 2 5 3 3 4zm4 5l-4 2-1 4-1 5-2 4-4 3-3 4 0 2 1 3 2 5 2 5 2 5 2 4 3 4 3 5 5 1 5-1 5-1 5-2 4-2 3-3 2-4 0-4 0-5-1-5 0-4-4-3-4-4-4-4-4-4-4-4-4-4zm-156-118l-3 0-4 1-2 5 0 5 2 6 4 2 3 1 5 1 6 1 5 3 6 1 6 0 3-4 2-6 0-5 1-5-1-2-1-2-2-3-6 1-6 0-6 1-6 0zm292-46l-1 4-2 5-2 5-3 5-2 6 2 3 4 3 3 4 0 5-4 5-2 5-1 5-1 5 0 4 0 3 4 4 5 3 5 3 2 0 3 0 2-1 4-3 4-4 3-4 3-4 3-4 1-4 0-4 1-5 0-4 0-5 0-5 0-5 0-6-1-5-1-5-1-5 0-3-2-2-4-1-6 1-6 0-6-1zm-68 150l2-4 2-5 3-5 2-3 0-4-2-4-4-3-5-1-5-2-5-1-5 1-5 1-4 1-4 3-2 4-2 4-2 5-4 4-5 3-4 4-4 4-4 4-4 3-2 6 3 6 4 3 4 2 5 3 4 2 4 1 3 0 3-1 5-3 5-3 2-5 1-6 1-5 0-3 4 0 6-2 5-2zm-239-173l-5 1-3 4-1 6-2 5-3 5-2 5-3 5-1 6 1 5 5 4 5 1 4 1 5 1 4 1 4-2 3-3 2-3 4-4 2-4 2-4 1-4 0-5-1-5-2-5-3-4-4-1-4-1-4-2zm-10-8l6-2 3-6 1-5 1-5 1-6 0-5 1-5 0-3 0-4-3-2-2-3-4 1-3-1-6 0-5 0-6 2-5 1-4 2-3 2-2 4-2 4-3 4 1 4 1 4 1 4 3 4 4 2 5 1 5 3 5 2 5 3zm123 85l3-3 4-2 3-3 1-4 0-5 0-6 1-5 2-6 0-4-1-3-4-2-3-2-4-2-5-2-6-1-6 2-5 5-1 5 0 5 0 5-1 5-2 5-1 3-2 3 2 3 2 2 6 3 4 1 4 2 4 2zm-101-21l0 3 2 4 4 0 5 3 6 0 5 1 6-1 6 1 5 0 4-4 0-6-2-5-3-4 0-5-1-5-1-3-4-2-3-2-4-2-5 0-3 2-1 4-2 5-4 5-4 4-4 4zm61 84l-2 2-3 3-2 4 0 6 0 5 3 6 4 5 1 6 0 5-1 4 2 3 4 3 4-1 5-1 5-1 5-1 5-2 3-3 3-4 3-4-1-4-3-5-3-5-3-5-1-6-1-5-1-6-4-3-6 0-4 1-4 1-4 1zm134-10l1 5 4 3 4 0 5 1 6 2 5 3 6 1 6 0 3-1 3-1 3-3 2-5 1-6 4-5 0-5-1-5-5-2-4-2-5-2-4-1-5-1-5 0-4 3-3 4-3 3-4 3-4 3-4 3zm214-239l2 4 2 5-1 3-3 5-4 4-3 5-3 5-2 5-3 5-3 3 2 4 3 2 3 3 3 5 2 4 3 2 3-2 4-4 5-2 6-2 5-2 1-2 1-3-1-5 0-5 1-5 1-6 0-5-2-5-2-5 1-4 1-4 3-2-5-1-5-1-5 0-5 0zm-418 202l-2-1-3-1-6-1-5 1-6 1-5 1-5 2-3 5-1 5-1 5 0 5 0 4 3 4 4 2 6 1 5 1 6 1 4-1 4-3 5-3 5-4 2-4 1-5-1-5-1-4-3-4zm12-95l4-3 3-4 4-3 4-2 5-1 4-4 1-5-4-5-2-4-2-5-2-5-3-2-2-2-3-1-3-1-4 1-3 3-3 1-1 3-2 3 0 6 0 6-2 5-2 6 0 5 2 5 5 3 3 0zm332 16l-3 1-3 2-3 2-1 3 0 6 2 5 1 5 2 6-2 5-1 6 1 5 5 3 5 1 5 0 5-2 5-3 4-3 5-1 6-1 3 1 3 0 5 0 6 0 5 0 5 0 4-1 3-2 2-6 3-5 3-5 1-3-2-3-3-2-4-3-3-1-5-1-3-3-2-1-3-1-6 1-5 2-5 4-4 0-5-2-5-4-5-3-6-1-6-2zm42 72l2 4 4 3 4 1 5 1 3-2 2-1 2-2 2-2 3-4 2-5 2-5-1-5 0-5-1-4-6-3-6 1-5 2-5 0-5 1-4 4 1 5 1 6-1 6zm7-144l-4 1-4 2-3 3-5 1-4 2-4 2-1 4-2 2 0 3-1 4 3 5 3 6 4 2 5 1 6 1 5 1 5 0 4-2 3-3 3-2 4-2 2-3 2-3 0-4-1-3-2-4-3-5-3-3-4-3-5-1zm-6-14l3-1 3 0 3-2 4-4 3-5 4-4 2-4 0-5-3-3-4-2-5-2-6-1-5-1-6 1-4 3-3 2-2 2-2 5 1 4 2 4 3 5 3 4 5 3zm31 33l-2 4 1 5 2 4 5 4 4 4 5 3 5 4 4 3 4 2 4 1 3-1 3-2 3-2 3-3 2-3 3-2 3-5 1-4-1-5 1-5 2-1 1-6-1-6-1-5-1-6-1-6 0-5-1-6 0-6 1-5-5-1-5-1-5-1-7 1-5 6-1 6 1 5 1 5 1 5 0 4-2 3-1 2-4 3-4 3-3 3-5 2-4 3zm-381 153l-2 3-2 2-2 4 0 3 1 4 1 5 2 4 4 2 5 1 5-1 5 0 4 0 4 0 4-2 3-4-1-5-3-4-5-4-5-2-5-1-5-3-4-2zm-83-196l1 5 1 5 1 6 1 5 3 4 4 1 4 0 5-1 5-1 5 1 4 0 5-2 3-5 1-6-1-6-1-7-2-5-4-5-4-3-4-1-4-1-6 1-4 3-3 3-3 3-4 2zm340 211l4-2 5-2 5-2 5-3 1-7-2-5-6-3-4-4-4-4-4-4-4-2-5 1-4 2-5 2-4 1-2 4-4 4 1 5 2 4 3 2 4 3 4 4 4 3 5 2zm157-79l-1-5-4-3-5-2-6 0-6 0-4-1-2 1-3 1-3 3-3 4-3 4-1 4 2 5 4 4 3 4 3 5 6 0 6 1 4-2 3-2 3-6 3-5 3-5zm-349 83l0 1-1 2 1 6 1 5 2 5 2 5 2 5 2 4 2 3 2 3 4 3 6 0 5-3 5-3 4-5 2-3 0-3 2-4 2-6 2-5-1-6-3-3-3-3 0-4-5-2-5-1-5 0-4-1-5 0-4 2-4 2-3 3zm343-232l1 3 3 1 2 1 5 0 5 1 5 1 6 1 0-7-1-6-2-3-4 1-6-1-5-1-6 0-2 4zm23 91l-4 1-4 1-2 4 0 4 2 5 0 5 1 5 1 5 3 5 2 5 1 5 0 3 3 2 0-5-1-6 1-6 1-6 1-5 0-6-1-6-1-6-2-5zm-508 98l-3-4-2-4-4-3-2-3-5-2-2 6 0 6 2 6 3 5 0 6-1 5-1 6-1 6 1 5 5 2 6-2 1-3 0-3 0-6 2-6 2-5 1-6-2-3zm14-48l-6 1-3 5-4 4-3 4-4 4-1 6 1 7 5 4 2 3 3 3 3 2 4 1 5-1 5 0 5 0 5 0 5-1 6-2 4-4 2-5 0-5-2-4 0-4-3-3-2-2-6-2-6-2-5-3-4-4zm-13-6l6 2 6-2 4-5 2-5 2-4 1-5 3-5 1-5 0-5-4-3-3-3-4-1-5-3-4-2-4-4-7 0-6 3-2 6-3 4 0 6-1 6-1 5 1 7 5 4 4 2 4 4zm379 52l-3 0-2 1-2 2-2 1-5 3-5 4-4 4-1 5-1 4 1 3 0 4 3 5 2 4 4 2 6 0 6-3 4-3 5-1 5 0 3-2 3-2 1-3 1-3-1-6-1-5-3-3-2-4-3-3-3-3-3 0zm130-42l-3 1-4-1-4 2-4 3-3 4-4 4-3 5-3 5-1 5 2 4 3 4 3 4 4 3 3 4 3 3 3 2 4-1 4-1-2-5-1-6 1-6 1-5 0-6 0-5 1-6-1-6zm-325 122l-4-1-3 2-5 2-6 1-6 1-6 1-3 4-3 4 0 4-1 2 0 3 1 4 4 4 3 5 3 4 2 2 3 3 3 1 3 1 5 0 4-1 5-1 4-3 4-4 2-5 2-4 2-4 1-4 2-3-1-5-2-3-4-3-4-3-2-2zm-121-48l-5-2-5-3-5-1-4 3-5 3-4 3-4 2-3 4-1 5 3 4 3 5 3 4 3 2 2 0 6 0 5 2 6 2 3 5 1 5 1 5 1 4 1 5 1 5 2 2 3 2 3-1 5 0 6 0 5 0 6 0 3-3 1-2 0-3 0-6 1-6 1-6 1-6-1-6-4-3-4 0-4-1-5-2-4 0-4-1-2-3-1-5-3-4-4-5zm-76-160l2-2 2-2 3-2 2-2 2-5-1-4-2-5-2-4-1-4-1-5-3-4-5-4-1 6 0 5 1 6 0 5 1 6 0 5 1 5 0 5zm155 283l6-2 2-2 1-4 3-4 2-5 3-5-1-5-2-3-3-4-3-6-2-5-3-5-5-3-5 1-4 1-5 0-5 1-5 1-3 5-2 6 0 6-1 6 2 5 4 3 4 3 3 5 4 4 5 3 6 2zm-130-72l3 1 4 0 3-3 4-4 3-4 3-5 1-4 0-5-2-5-3-5-3-5-4-1-5-1-6 0-5-2-5-2-4 3-3 2-3 4 0 4 0 3 3 2 3 3 2 6 2 4 3 4 4 4 3 3zm78 63l2-3 4-3 5-2 4-1 3-3 2-3 0-5 2-5 2-4-1-5-2-6-4-3-4-4-4 0-6 0-5 2-6 0-6 0-6 0-3 2-3 2-3 5-4 3-4 5-3 4 0 3-3 4-3 2-4 3-4 2-4 3-1 5-2 5-2 4-3 6 7 2 6 1 6 0 6 0 6 0 5 0 7-2 4-6 0-5 4-1 5-1 5-1zm163-33l-3 2-3 3-4 3-3 3 0 4-1 4-1 5 1 4 4 2 4 0 5 0 6 2 5 0 6 0 5-2 3-2 2-1 4-2 3-4-1-4-3-4-1-4-3-4-3-3-5-1-6-1-5 0zm-266-132l3-3 3-4 3-4 4-4 2-4 1-5-2-4-2-3-4-3-4-2-4-2-2-2 1 3-1 6-2 5-1 6 1 5 1 6 1 5 0 6zm164 174l-4 1-4 3 7 0 6-1 6-1 5 1 6 1 6 1 6-1 6-1 6 0 6 0 0-2-2-4-3-5-3-5-2-6-3-5-3-4-6-1-4 1-5 1-4 2-4 1-3 3-3 4-1 4-1 5-1 5zm-165-276l1-1 2 5-1 6-1 5-1 6-1 6 2-3 2-4 3-3-1-6 0-5-2-4zm259 269l-3 4 0 3-1 2 5 1 5 1 6 0 5 1 6 0 6 0 6-1-2-5-1-4-4-1-4 1-5 0-5-1-5-1-5-1zm-160-262l4 1 4-2 3-1 4-2 3-5 1-6 2-6 1-6-1-5-4-5-4-2-4-2-4-3-5-2-4 1-4 3-3 3-4 3-5 4-1 7 3 6 4 4 3 4 4 5 3 4zm243 185l3 5 4 2 5 0 6 0 6 1 6 1 6-1 6-2 5 0 4 2 4 2 4 0 4 0 5-2 5-4 5-3 4-4 5-3 2-6 1-4-1-3-2-5-5-2-4-3-3-5-6-4-6 0-5 3-4 3-4 3-5 2-3-1-3 0-4-3-5-1-5-2-5 1-5 1-4 3-5 1-2 5-2 4 0 5-1 4-1 5zm-346-243l5 2 3-1 4-3 3-5 4-4 4-4 1-3-1-3 0-1-4-1-5-1-6-3-8 0-2 8 1 6 0 6zm69 282l5 1 4-2 3-3 3-4-2-5-3-5-1-6 0-6-2-5-3-3-3-2-5-2-5-2-6-1-4 3-2 5 0 4-2 4-2 3 0 4 2 3 4 3 4 3 5 4 4 3 3 4zm263 34l-2-4-4-4-5 0-5 1-5 1-4 1-5 1-2 2-2 4 2 4 1 4 0 3 5 1 5 1 6 0 6 0 5 0 6-1-1-4-1-5zm-319-29l0 3 2 4 4 2 2 2 5 2 4 3 4 1 5 2 5 0 4 0 5-2 5 0 5 0 6-3 2-6-1-4-2-3-1-2-2-3-4-5-5-3-4-3-5-4-4-4-3-2-3-1-3 0-3 1-3 2-2 2-3 5-2 5-3 5-3 2zm320 20l1 4 2 4 1 5 0 5 0 6 6 0 5 0 5-1 5 0 6-1 5 1 0-5 1-6 0-5 1-6-2-5-5-2-5-1-5-1-5-1-2 1-3 2-4 2-5 2zm16-16l3 3 4 1 5 1 5 2 4 1 4 0 5-1 5 1 5 2 5 2 5 2 6 1 5 1 3-2 3 0 3-2 4-1 5-2 1-6-2-5-4-5-2-5-3-5-4-4-4-4-4-5-2-2-3-3-5-3-5-2-5 0-5 1-6 0-5 1-5 0-5 1-5 0-4 0-3 3-2 5 1 5 1 6 1 5 1 4-2 4zm154-92l4-5 2-4 2-4-1-4-1-3-2-5-4-4-4-4-4-2-2 0-4 1-5-1-2-2-3 2-3 4-3 5-4 4-1 4 1 3 3 4 1 4 2 5 3 4 5 1 5-1 4 1 6 0zm-122 107l-2 2-2 1-1 3 0 3 1 5-1 5-2 4 4 1 5 0 5-1 5-1 5 1 5 2 6 0 1-5 1-5 0-6-4-5-5-3-5-2-4-1-5-1-4 1zm133-76l4 3 5-2 6-2 0-6 0-6 0-6-1-5-1-6-1-6 0-5 0-5-3 2-5 1-4 1-4 2-3 2-3 4 0 4 1 4 1 5 1 5 2 6 2 5zm-513 57l5 2 5-1 4-3 2-5 2-5 2-5 4-5 2-5-3-4-4-4-5-4-3-4-3-5-3-5-5-4-1 6 0 6 0 6 0 5 1 6 1 5 0 6 0 5 0 6zm478-41l-3 2-1 3 0 3-1 3 0 3 2 2 3 4 2 4 2 4 2 2 2 3 4 0 4 1 3-2 4-1 4-4 3-4 3-5 1-5 6 2 5 1 2 3 0-4 2-6 0-6 0-6-1-6 0-5-5 1-4 2-3 4-3 4-4 2-5-2-4 1-5 2-5 1-4-1-3-1zm-171-16l3 4 5 2 3 1 2 4 5 3 5 3 7-1 5-4 1-6 1-4 1-4 2-4 0-5-2-5-4-4-4-2-4-1-5-2-6 0-5 3-3 4-3 4-3 4-1 4zm162 76l3-3 4-4 5-4 3-3 1-6-1-5-3-4-4-4-3-4-3-4-3-5-7-2-6 2-3 6-2 5-2 4-5 4-3 3-3 5-1 6-1 5-5 4-5 3-5 4-5 2-4 4-2 5 0 5 1 6 6 0 5 0 6 0 5 0 6-1 5-1 5 0 0-4 3-4 1-5 1-6 5-2 3 0 4-1zm12-201l0 5 1 5 4 5 4 4 4 2 5 2 4 0 4 0 4-1 3-3 1-4 1-3 1-3-1-4-1-4-3-5-1-5-1-2 0-4-3-2-2-1-4 0-3 0-3 1-3 1-3 3-3 4-3 3zm-439 214l0-4-2-4-3-4-5-2-5-2-6-1-5-1-4 2-3 5-1 4-2 5-2 4-2 5 0 3 5 0 5 0 6 0 5 0 6 0 6 1 5-1 1-4zm397-101l-2 5-1 5 1 4 2 4 3 2 5 2 4 4 4 4 4 2 4 0 4-2 4-1 4-5 1-5-1-5 0-5-1-5-3-3-1-2-2-2-3-2-3 1-3 1-5 0-5 0-5 1zm-41-66l-3 3 1 4 2 4 2 4 3 4 4 3 4 1 5 2 1 1 2 0 6 0 6-1 5-2 2-4-1-4-1-4 0-5 0-5 0-5-2-2-2-2-3 0-6 0-5 3-5 3-5 2-6 1zm-287 179l-4-7-5-1-5-1-5 0-5 2-3 8 8 1 6 0 5 0zm381-38l-5 0-4 2-2 4-3 3-3 4-4 3-1 6 2 6 5 2 5 3 4 1 4 0 5 1 6 1 5 0 5 1 4-4 4-3 3-4 1-4-1-5-4-3-5-2-5-1-5-2-4-3-3-3zm-20 23l-5-3-6 1-5 3-2 4-2 4-1 6 7 0 5-1 6-1 6-1 3 1-1-3-2-5zm-358 8l0 3 0 1 4 1 6 1 6 1 6 0 5 0 6-2 5 0 0-1-3-4-4-3-4-2-4-2-4-2-3-1-3-2-3 2-4 0-3 4-3 2zm412-2l-5 2-3 3-2 3 5-1 5 0-1-3zm-4-20l2 2 2 3 2-5 0-5-1-6-2-5-1-5 0-5 1-5-4-2-3-1-3-1-3 2-3 2-3 4-3 4-1 3-2 3 1 3-1 3 2 3 2 3 4 2 5 1 5 0zm-45-100l-3 4-1 5 1 6-1 6 0 5 0 7 2 5 4 3 5 0 5-1 5-1 4 0 5 0 3-2 3-4 2-3 0-4-1-5-2-4-3-4-3-4-3-4-2-4-4-1-6-1-6 0zm-42 40l-5 2-3 2-4 3-5 1-3 4-2 3-1 3 0 5 1 5 3 5 5 4 5 3 3 2 3 1 4 0 4-2 2-5 3-4 1-4 3-5 0-5 1-3-1-3-2-3-4-4-4-3zm-165-157l-5 0 2 0 1 5 0 5 0 6 0 1 3-3 2 0-1-4 0-6zm13 13l2 0 2 3 4 1 3-1 3-4 3-3 1-3 2-3-1-3-1-3-4-2-2-2-5-1-5 0-3 2-3 2-3 5 1 6 4 3zm-17 12l-1 4 0 5 3 4 5 4 5-1 3-4 0-5 0-5-2-4-4-3-5 2zm-167 77l-3 3 0 3 3 1 5 1 5 1 0 1 1-2-1 0 0-2-5-3zm-8 4l-1-3 1-3-2-2-3-1-2-1-2-2-4-1-3 3-1 3-1 1-2 0-3 2-2 3 1 3 3 1 4 1 4 0 3 2 2 1 4 1 2-4zm16-22l-4-2-2 2-2 4-2 4 2 5 1 2 4 0 4 1 3 1 1-2-2-5-2-5zm22 6l2 1 4 1 2-2 4-2 3-2 3-3 0-5-2-3-3-2-3-3-3-4-5-1-5 2-2 5 2 5 2 4 1 4zm215 79l-2-5-5-3-6 1-6 0-3 3-1 4-2 4-2 5-1 5 3 3 4 2 4 1 5 3 5 0 4-3 1-5 0-5 1-6zm-44 10l-5 1-1 4 0 6 0 6 3 3 2 0 3-1 2-5 3-4 0-3-3-4zm13 13l-5 2-3 4-2 4-1 5-1 4 1 4 3 5 6 2 5 1 5-1 5-1 2-3 3-2 3-3 4-2 3-4-2-5-2-3-3-3-5-2-6-1-6 0zm-23-12l-4-2-4 0-6 1-3 2-2 4-1 4 1 4 3 4 3 1 3 2 5-1 3-3 2-3 2-4 0-4zm130-78l-2 6-1 6 1 4 3 4 4 2 3 2 4-2 3-2 0-3 3-5 2-4 4-5 2-5-2-4-5-3-4 0-4 2-4 3-4 2zm53 21l1-4-2-6-3-4-3-5-2-4-3-4-5 0-5 1-2 6-2 5-1 6-1 6 0 2-1 2 2 3 3 1 6-1 6-1 6-1zm-295-156l3 2 4-1 6-2 5-2 6-2 5-2 5-2 6 0 7 0 4-2 2-4 0-4-1-3-1-4-5-3-4-4-4-2-5-3-5-1-4 0-3 1-5 3-6 2-5 1-7 2-4 4-1 6 2 5 2 6 1 5z" fill="#ececec" stroke="#d8cce8" stroke-width="1.2"/>
<path d="M207 194l-8 14m183 63l-6 18m-317 29l5 5m441-43l-1-4m-208-114l3-4m-203-76l7 16m57 244l7 5m81-88l3 4m173-136l0 9m-41 31l-13-2m70-127l-1 0m6 76l-1-8m-403-9l0 0m-25 46l2 0" stroke="#b99ddc" stroke-width="3.6" stroke-linecap="round" fill="none"/>
<path d="M207 194l-8 14m183 63l-6 18m-317 29l5 5m441-43l-1-4m-208-114l3-4m-203-76l7 16m57 244l7 5m81-88l3 4m173-136l0 9m-41 31l-13-2m70-127l-1 0m6 76l-1-8m-403-9l0 0m-25 46l2 0" stroke="#5638ad" stroke-width="3.2" stroke-linecap="round" stroke-dasharray="4 6" fill="none"/>
</g>
<g transform="translate(287.1,10)">
</g></g>
<clipPath id="c2"><rect x="546.5" y="10" width="254.7" height="169.6"/></clipPath>
<pattern id="t2" width="20" height="20" patternUnits="userSpaceOnUse" x="546.5" y="10"><rect width="20" height="20" fill="#c0a6e0"/><g transform="scale(0.5)"><path d="M30 13l0-1m-19-3l1 0m-8 5l0 0m4-3l-1-1m2-6l0 1m25 17l1 0m-20 9l1-1m-8-19l-1 1m30 21l0 1m-9-25l0 1" stroke="#dc90d8" stroke-width="3.6" stroke-linecap="round"/><path d="M-6-6l-4 2m4 38l-4 2m44-42l-4 2m4 38l-4 2m-27-18l-2 1m42-1l-2 1m-16-10l-1 0m5 14l-2 2m-32-27l-1 1m1 39l-1 1m41-41l-1 1m1 39l-1 1m-15-22l1 2m11-9l-1 2m-25-17l2 3m-2 37l2 3m38-43l2 3m-2 37l2 3m-45-9l1 1m39-1l1 1m-13-5l1 3m1-9l-1 1m-16 12l3 2m14-14l0 3m-32-24l2 0m-2 40l2 0m38-40l2 0m-2 40l2 0m-31-25l0 3m15 13l1 2m5-34l2 1m-2 39l2 1m-24-43l3 1m-3 39l3 1m-4-38l1 2m-1 38l1 2m19-43l0 3m0 37l0 3m0-14l-3 1m-1-3l-2 1m-5-24l0 1m0 39l0 1m-10-25l1 1m4-17l-2 1m2 39l-2 1m5-48l1 0m-1 40l1 0" stroke="#5638ad" stroke-width="4" stroke-linecap="round"/></g></pattern>
<g clip-path="url(#c2)"><rect x="546.5" y="10" width="254.7" height="169.6" fill="url(#t2)"/>
<g transform="translate(546.5,10) scale(0.5)">
<path d="M200 322l1-2m-3 10l-3 1m-16 2l-3 1m-2-5l0-3m-32-15l-2 3m4-12l0 3m-28-13l0-1m7-4l-1 0m1-2l-3-2m-15 27l1 2m14 4l2 0m24-9l-4-1m8 33l1 3m-1-1l0 1m-52-328l-1 1m-22-19l0-3m125 335l1 2m-176-214l0 2m-1-20l4-1m28 8l2 2m3-4l3 2m-23 21l-2 2m-9-9l2 2m9-31l0 1m0-10l-2 4m36 5l1 1m-5-1l1 1m7 4l0-1m13-36l1 3m-41 6l-3 2m4-3l-3 2m36 16l1-1m171-87l-2-1m-70 286l2-1m16 6l2 0m14 7l1 2m1-2l1-3m-58-41l2-1m-2-1l2-2m-15 38l1 2m18-36l1 3m1 25l0 2m-13 4l1 0m-17 7l1-1m31-4l-3-1m68 13l2 0m2-2l4 1m24-4l1-1m-16 10l1 0m19 14l-2 1m2-2l-2 1m19-7l1-2m-3-15l-2-1m-38-20l0 2m29 2l0-2m-80-267l3-3m-30-4l-1-4m14 21l2 0m47 322l1 2m221-12l-1-2m-3-7l-1-2m-21 19l-3 3m8-4l-2 2m-441-209l0 1m16 1l-2 2m4 1l-2 1m-7 0l2 1m-3-87l1-2m150-44l1-3m-2 10l-2-2m-56 30l3 0m7 0l3 1m288 40l-3 1m-4-3l1 2m8-25l-2-1m8 0l-2 0m-144-48l-1 2m-28 2l3 3m11 0l-2 0m-153 129l3-2m2-19l0-2m8 12l-2-3m-19-14l1 1m17-23l2 0m9 3l3 1m-9 16l-3 1m-40 34l1 0m41 27l-1-1m-6-4l0-3m15-18l2-2m12 7l-1-1m-21 28l0-2m19 20l2 0m7 1l3 0m1-22l0-3m-3-8l-3-1m-38-9l1 1m28-17l-1 2m-2-10l-1-2m-1-4l0-1m-32 52l-3 2m8-5l-3 1m-16 5l3 2m149 92l2 3m23-6l3-1m-13 4l2-1m-58-29l1 0m197-180l4 0m-25 9l0 2m17 26l-2 1m22-12l-1 2m-109-6l-2-3m0-1l-1-1m-6 1l-3 0m-11 23l0 3m-1 26l1-2m-1 12l2-2m-24-2l-3-2m9-27l-2 2m17 0l3 0m-30 14l0-2m36-2l-1-2m-60 20l-3-2m10 0l3-2m14-23l-3-1m-29 12l0-3m0-9l-2 1m18-113l4 0m138 150l-1-3m23-22l-3-3m8 19l0 4m-25-12l1-1m-8 49l-1 1m-6 39l-2-1m11 7l1-1m7-13l1-4m99 103l1 0m26 26l1-2m-221-6l1 4m31-7l-1-2m-2 7l-3 3m-4-1l-1 1m45 0l1 1m-17 1l0 3m-313 2l3 2m20 2l-1 0m44-9l-2-3m-29 12l3-2m32-52l-1 1m19-2l-1-2m-24 21l0-2m18-50l0-2m4-3l0-3m-7 18l-1 1m-6-1l-4-1m-10-30l0 2m52 27l-1 0m-3-27l2 2m-1-2l2 3m-23-11l-2 1m-2 46l0-2m-90-246l1-3m27-15l-2 3m35-2l2 1m-37 2l1 3m33 10l0 2m-8 7l-2 1m-4-1l-3 2m-18-29l3 1m13-15l0 3m35 11l-2 1m-46 31l3 0m-3-3l4-1m226-24l-1-3m6 9l-1-1m22 21l2 0m-2-33l3 1m8 20l1-2m3-14l1-2m182 48l0 2m-5-13l-3-3m-6 2l2-1m-20 14l1 1m-78 48l0-3m18-8l2 2m13 22l0-1m48-85l-2-3m-2 26l1 0m-8 3l4-1m-27-21l0-2m0-6l-1 1m-380 121l-2 3m26 24l-3 0m74 42l-2-2m19 18l3 0m6-26l0-2m6 0l0-4m-26-5l1-3m2 2l3 1m1 1l3 1m-33 22l4-1m4-6l4 0m38 22l-3-3m-64-29l-1-2m77-26l1-2m19 24l3-1m2-35l1 0m13 22l0-2m-73-23l-3 1m26 4l3 2m-18-2l2 1m37 70l-2 3m14-21l0-3m-6-80l1-2m69 101l0 1m-42 13l1-2m17 2l-1 0m-35-21l3 1m18 11l0 3m92-87l-1 3m-36 2l-1 2m27 4l3 1m4 4l1 0m18-49l2-1m-22-5l-1 0m27-11l1-2m-32-5l-1-3m0 1l-2 1m21 39l1-4m4 0l0-1m30-39l-1 1m-87 31l-3-2m6 5l-2-1m28-25l2 0m-127-13l-1-3m14 10l1-1m-7-17l1-1m14-2l0-4m-28 42l2 1m-14-7l3 1m-12 21l0 1m5 9l3 2m15-26l-2 4m-12 22l4-1m-32-14l3-1m46-25l0-2m-20-22l3-1m14 3l1 1m-25 7l0 1m-2 64l1-1m3-7l2-2m28 4l-2 0m10-31l2 1m296-41l2 2m1 4l4-2m-91 48l1 1m-9 21l4 0m3 3l3 0m10-13l1-2m-28 36l0 2m-35-2l0-1m35 4l-2 3m51 98l4 0m5-3l3-2m4-23l-1-3m-35 24l-1-3m25-21l-3 0m-13 2l1-3m-8 36l-2 3m-39-13l1 2m12 19l3 0m22 29l-2-2m18-12l-2 0m-8 0l-1 0m-5 4l1-2m31-8l1 2m-7-18l1 3m-93-41l0 1m7-8l-1 3m23-9l1 1m-26 29l-1 0m-20-45l-1 0m-7 35l-1 0m12 2l-2 0m45 38l2-3m-10 9l-1 0m-20-17l-1-1m0-20l-1 3m-42-4l3 0m-23-29l2-1m9 0l1 0m19 25l-2 3m67 83l1-2m-22 3l0-2m-1-23l3-2m31 15l-1-1m10-14l-3 2m-29-7l-1 1m139-20l-1-3m-36 10l0-2m6-8l-3 1m19-7l-3 1m-21-5l2 3m35 56l2 1m-5-5l2 1m-508-31l2-2m22 12l-2-2m-5-4l-3-2m25 8l3 0m-26-20l2-1m3-1l3-1m-18 9l4-2m15 30l1-2m-2-1l1-3m28 0l-1-1m-46-54l1 2m0 1l1 4m28 6l0 1m15-17l-2 0m-36-128l0 3m-6 13l2-1m18 8l-2 1m-6 0l3 2m8 98l0-4m33-32l-1-2m-39 8l-3-3m-20 2l-1 1m312-160l0-1m11 9l-2-3m36-7l-2-1m-25 15l1-1m2-7l1-1m-65 1l0-4m22-30l4 3m46-24l1 4m-10 13l-2 2m-13 6l2-1m12-44l0 1m12 55l-3-3m51-25l1-1m-12 16l-2-1m6-30l-1-2m-19 21l0 2m9-17l2-3m40 14l-3-3m-58 36l1-2m37-56l-2 1m22 12l0 2m-52-19l1 0m138 127l-1-1m1 3l-1-2m-15 54l-1 2m0 18l3 3m14-53l-1-2m8 11l-1-2m-23 3l0-2m18-15l-3 0m-37-58l2 3m11 24l1 2m-32-18l-3 2m-7 12l-1-3m28 12l4-1m-6-35l-1 3m-43 21l2 0m56 28l0-2m-63-133l-1 2m-25-1l0-1m42 5l2 0m9-5l-1 2m-224 97l3 1m17-19l3-2m-3 11l0-4m-22 19l1-2m-1-8l2 1m10-25l1 1m5-2l3 2m-17-27l2-1m24-4l-3-2m-27 32l1-1m-40 5l-1 3m0-6l-2 2m36-17l1 0m0-33l1 1m-2 6l1 2m51 18l-1 0m-9 27l-3-1m29-2l-3 0m-27 9l0-1m-90-10l-3 0m-23-3l1 2m-2-10l0-3m24-14l3 0m15-7l-3 2m-45 51l1-2m-14-26l4 0m124 137l4 1m0 8l0 1m0 10l4 2m1-2l1 0m76-14l0-4m-26-3l-1 1m2-3l-1 1m5 15l1 2m-3 8l1-3m34-31l-2-1m57 6l1 1m-2 26l3-2m8-6l0 3m2 10l1-1m-10 19l0-1m8-28l2 3m92 40l3-2m-6-23l3 1m-17-6l4-1m18 16l-1 3m18-10l3-1m-33-26l1-2m-153 99l3 2m-28-7l2 1m39-16l2 0m-15-6l3 1m2 27l0-2m3-3l1-2m-29-24l1 4m-280-66l-3 2m20-12l0-1m-26 16l-1-1m16-26l-3-1m11 14l-3-1m15-25l-2 1m-49 13l3 0m8-26l0 1m433 6l0 1m-19-19l-3 1m1 2l-2 1m-3 25l-1 0m54-15l-4-1m-56-10l1 3m40 66l-2-2m-49-28l3-1m10-13l2-3m-179 12l1 0m-2-9l0-3m27 9l-1 4m4-27l-3-2m-8-8l-2-1m-15 6l-2 3m23 62l1-3m-2 5l0-2m136-7l-3 1m33 0l1 2m-28 6l1 1m25-4l-1 2m7-14l-2 2m-29 20l2-2m2 5l1-1m68-212l1-3m5 9l1-2m2-12l3-2m15 19l-1-1m-13-14l-2-2m0-4l1-1m3-4l0-3" stroke="#dc90d8" stroke-width="4.0" stroke-linecap="round"/>
<path d="M201 326l0-1m-12 5l-3 2m13-1l-5 1m-2 0l-5 1m-16-20l-1-3m4 19l0-2m-35-9l-2 3m6-19l1 4m-31-22l1-1m0 3l2-3m15 5l-2 0m14 2l-2-1m-31 25l2 2m9 3l3 0m-2 0l5 0m40 24l-3 0m1-1l-3 0m4-33l-2 0m-8 2l-2 0m-14 16l1 3m-1-3l2 2m-43-330l1 2m-6 13l-2 1m-1 4l-1 0m-17-24l1-3m128 338l1 3m3 5l2 3m-183-238l0 2m-1 2l0 3m7-17l3-1m-9 7l4-1m15-1l4 2m-7-2l2 1m-3 28l-2 2m25-17l-4 2m-21 12l-1 0m-4 0l1 1m7-38l0 1m8-17l-1 3m-6 6l-2 2m8-20l-3-3m11 11l2 2m3 0l1 1m-1 4l1 1m14 14l0-2m14-32l2 3m-25-1l-1 0m16-8l-4 2m-13 6l-2 1m12 30l1-1m11-13l2-2m137 266l-4 2m14-6l-1 1m-30-25l2-1m-21-30l1-1m28 4l3 1m0 4l2 1m0 1l1-4m-72-27l3-3m14-8l1-1m-13 4l3-2m-11 20l1 1m-1-7l1 4m32 4l0 3m-7-4l1 3m-2-20l1 3m-11 24l4-1m-1 1l3 0m-47-26l1-2m26 32l2-2m28-1l-3-2m80 16l4 1m-6 0l4 1m23-14l1-1m-14 12l4-2m7-4l4-3m11 27l-3 0m-13 4l-2 0m18-9l1-2m-9-24l-1-1m8 8l-4-3m-30 3l1 4m-3-19l0 2m-4 3l0 4m26-17l-1-4m-73-259l1-2m-1 3l3-2m-28 3l0-1m11 9l1 0m52 328l1 1m221-10l-1-2m-6-7l-1-4m2 3l-2-3m-15 6l-1 2m10-9l-1 1m-452-217l0 3m15 18l-3 2m7-3l-2 2m-12 10l3 3m-5-78l0-2m4-11l1-5m145-40l0-1m4-6l1-5m-5 19l-1-2m7 8l-2-1m16 7l-3 3m-78-5l-1-2m21 16l2 0m-8 1l2 0m295 46l-2 1m16-10l-2 1m-25 2l2 3m1 1l1 2m12-28l-5-1m-1 2l-3 0m-127-58l0 4m-13 7l-1 1m4-5l-1 1m-38-4l2 2m12 8l1 1m19 1l-3 1m-1-4l-3 1m-147 124l4-2m-16 1l0-4m-5 11l0-1m16-17l0-1m-22-17l2 1m4 6l3 1m31-21l3 2m-12-2l2 0m-3 16l-4 1m-7 4l-4 1m-18 30l-4 0m-26 0l2 1m8 0l2 0m48 25l-4-3m-2-2l-1-5m11-14l2-1m2-2l3-2m14 22l-2-4m4-4l-2-3m-9-13l-3 0m-10 52l0-3m10 8l3 0m-12-2l5 1m20 2l1-3m3-14l0-2m1-3l0-3m-5-6l-1 0m-43-20l2 3m23-26l-1-2m9 10l-2-2m-2 6l0-1m-45 42l-2 1m23-6l-2 0m15 24l-2 2m2 5l-4 4m-36-30l2 1m159 89l1 1m-9-4l1 1m18 6l3 0m-1 1l2 0m-71-28l3-1m205-179l3-1m-8 4l2 0m-18 13l0 2m0 7l0 5m28 1l-4 2m2-4l-3 1m12-6l-1 2m-105-4l-2-2m10 13l-1-1m-23-21l-2 0m-9 36l-1 4m1-13l-1 4m0 1l-1 5m8 0l4 3m-12 26l1-2m1-2l2-2m-30 0l-1 0m4 5l-3-2m5-24l-2 0m25-4l2 0m-34 24l2-5m0-2l1-2m35-5l-1-4m-49 23l-4-2m-1 2l-3-1m15-6l2-1m7-20l-1 0m-34 15l-1-2m12-10l-3 1m18-2l-1 0m-18 5l-5 2m18-117l2-1m248 341l-3-1m-104-194l0-2m0 5l-1-4m17-23l-3-2m6 2l-4-3m10 19l0 2m-23-14l2-2m-5 7l3-4m-13 57l-2 1m-9 3l-1 0m20 34l2-1m5-13l1-4m-3 0l1-3m3 1l1-4m88 112l1-1m16-4l3-1m12 32l1-1m-6 9l3-4m-211-3l1 5m1-8l0 1m0 6l1 3m23-19l-1-3m-4 8l-2 2m38-3l1 2m11 14l1 1m-15-19l2 1m-4-1l2 0m-318 16l4 3m-17-20l4 3m23 13l-1-1m47 0l-1-1m-1-2l-3-3m2-9l1-2m-23 17l3-2m-3 2l2-3m15-4l-3 0m19-45l-4 1m1 2l-2 1m30 8l-3-3m1 6l-4-3m-30-1l-1-3m2 21l-1-4m22-51l0-1m-3-26l-1-4m4 34l-1 2m-24-4l-4 0m17 1l-3 0m-13-23l0 4m-1-11l-1 4m52 24l-3 0m1 3l-4-1m15-16l1 1m-21-24l1 1m0-1l2 1m-9-2l-2 1m-6 60l0-3m-57-271l-2 1m20-4l2 1m-9-8l1 1m-15 11l0 1m4 12l0 3m29-8l0 4m-4-3l0 4m-14 16l-2 2m0-1l-4 2m-5-8l-3-3m-9-22l3 0m-13-2l5 0m58-7l-3 2m-10 7l-4 2m-43 26l3 0m7-5l2 0m12 11l0-2m224-28l-1-1m10 19l-2-4m-5-6l-2-2m20 12l4-1m9-24l2 1m-25-14l1 1m19 19l0-1m-9 21l2-4m198 19l0 2m0 17l0 1m2-23l-3-3m-12 0l1 0m-13 33l1 2m-8-14l0 1m-1-13l1-3m-78 64l0-2m31-15l3 3m-10-7l2 2m7 14l1-4m41-70l-1-1m0-8l-2-3m2 31l3-1m-28 3l2 0m22-2l3-1m-33-5l1-2m2-5l0-2m6-11l-3 1m14-4l-2 0m-396 123l-2 2m103 82l-2-3m-5-13l-3-4m16 18l2 0m13-23l0-2m3 24l0-4m-25-24l0-1m11 1l2 1m0-1l3 0m-42 17l2 0m9 0l4-1m44 25l-2-2m-68-19l0-2m84-56l1-2m14 34l3-1m-3 0l4-2m-7-29l4 1m8 0l4 1m-8-3l5 1m2 9l0-3m3 4l0-4m-74-6l1 1m13 8l3 2m-6-5l4 2m36 57l-2 3m-8 3l-2 3m14-27l0-3m-3-8l-1-5m4-59l3-3m-10 6l1-1m-2 21l1 3m86 72l-3-1m-1-4l-2-1m-5 12l-2 3m5-13l-3 4m1-4l-1 1m-42 19l1-2m3-1l1-2m4-4l-3-1m22 9l-3-1m-30-22l5 1m-8-5l3 1m-18-2l1 1m26 17l1 4m0-10l0 3m91-70l0 1m-1 3l-2 4m-21-31l0 2m-1 0l-1 5m3-9l-1 2m19 33l1 1m-27-11l2 0m20 5l4 2m23-50l4-2m-22-3l-1 0m0 0l-4-2m27 0l0-1m2-7l0-3m-34-2l-1-4m1-3l-4 2m12-8l-2 1m12 61l1-3m5-2l1-4m-1-10l1-5m27 27l2-2m-1-59l-2 0m-11 8l-4 2m-49 32l-2-1m2-2l-3-2m-109-35l-1-1m16-2l3-2m-17-11l3-2m0-2l4-1m10 6l0-3m-43 31l2 1m11 2l3 1m-31 14l3 3m13 8l2 3m10-18l-1 3m-3 9l-1 2m10-23l-1 3m-47 12l3-2m6-3l3-2m40-13l-2 1m5-7l1-2m-25-29l5 0m12 8l2 2m-22 6l0 4m-5 2l0 3m2 54l1-1m-3 4l2-3m26-3l-3-2m-5-4l-1-1m26-26l3 2m-9-9l2 2m297-34l2 2m11-2l3-1m10-6l2-1m-14 6l2-1m-85 60l1 1m-12 14l3 0m2 0l1 0m6-13l0-3m-34 28l2 4m-2 5l2 4m-34 2l0-4m25 17l4-1m2-3l-1 2m54 92l4 0m-6-5l4 0m17-3l1-2m-1-16l0-1m0-3l-1-3m-33 28l-2-4m30-23l-3-1m-6 4l-3-1m11-1l-2-1m-26 9l2-3m-4 28l-2 3m-2 6l-2 2m-33-28l1 2m6 21l1 4m2-3l5 1m14 3l5 1m3 29l-1-1m12 12l-2-3m2 0l-1-1m6-22l-5-1m15 1l-1 0m1 2l-4-1m-24 2l0-1m37-7l1 4m-2 1l0 3m-2-8l1 4m-31-2l-2-4m-66-57l0 3m5-11l0 3m-1-9l0 5m31 12l0 2m-13-19l2 3m2-1l3 2m-21 30l-5 0m12 2l-2-1m-10-6l2 2m-13-39l-4 0m-21 25l1 4m3-1l-2 0m18 5l-4-1m-13-7l-3-1m61 50l3-2m3-3l3-3m-42-5l-4-2m8 3l-4-2m29 17l-2-1m-20-33l0 2m-5 12l-1 3m-54-18l4-1m3 2l3 0m1-4l3 0m-18-28l2-1m23 10l3 2m-26-12l4 2m10 2l2 1m6 24l-2 5m75 74l2-2m4-5l2-2m-33 4l0-3m-1 0l1-3m6-12l2-1m32 20l-2-2m2 2l-2-1m-1-9l-1 1m6-3l-3 2m-24-17l0 4m135-15l-1-4m1-4l-1-3m-31 3l1-4m21 1l-4 0m-3 1l-3 0m-17-7l1 2m-5-12l2 5m45 62l3 0m-26-5l2 1m3-2l3 1m-475-14l-3-3m2 1l-3-2m9 4l4-1m-26-18l2-3m1 0l3-1m6-1l3-1m-20 6l2-1m12 45l1-1m6-19l2-5m27 12l-3-3m-5-8l-2-2m-38-54l1 1m-1 5l1 4m-1 2l0 3m0-7l1 2m23-11l-1-1m5 22l0 1m0-1l1 4m20-23l-3 1m-8-2l-2 1m-34-111l1 1m-1-1l2-1m24 3l-2 1m-12 1l3 2m4 79l0-2m0 20l0-3m34-27l0-4m-36 4l-3-3m-1 3l-1-1m299-147l-2-3m0 1l-1-2m24-6l1-1m-17 11l4-3m-63-24l0-3m4 18l0-2m-3 1l0-2m26-19l2 2m-8-5l3 2m41-41l-2-1m12 9l1 3m-1 16l-2 1m-3 3l-3 3m-6 3l-2 0m-10 8l2-2m5-7l2-1m15 14l-2-3m12 11l-3-4m40-16l1-3m-16 1l-4-1m13 4l-4-1m18-15l-2-3m-5 1l-2-4m-25 18l2 4m3-21l2-3m4-4l2-2m15 35l-1-2m27-16l-1-1m-54 26l1-2m5-8l2-3m-10 18l2-4m29-51l-2 1m-5 1l-3 0m34 14l0 2m1-14l-1 4m-53 16l2 0m8-28l3 1m-8-2l4 2m148 126l-3 1m-20-15l-2-4m1 5l-2-2m5 10l-2-3m-15 65l-1 2m2-5l-1 3m2 17l2 3m24-63l-1-3m-5 4l-1-3m-16 10l0-3m-1 14l0-2m8-17l-2 0m-6 4l-3 0m-10-37l2 2m-12-18l2 3m4 7l3 4m-31-13l-2 1m-2 6l-1 1m3 16l-1-2m0-8l-1-2m27 14l5-1m-17 5l2-1m-2 2l4-1m3-38l-1 4m32 20l-4 1m-61-8l4-1m-6 6l4-1m50 17l0-5m-2 1l0-2m3 21l4 2m-62-134l4-1m5-3l2-1m-199 80l3-2m-5 7l1-4m-22 24l1-3m-6 13l0-1m28-38l4 2m-10-5l3 1m-1-33l2 0m-3 1l3-1m6-5l-3-2m18 15l-3-2m-7 29l-4 3m-26-17l0-1m-33 2l-3 3m5-10l-3 3m14-5l2 0m6 1l2 0m-29-23l0 5m32-19l1 3m7 20l1 3m-5-4l1 3m61 0l-1 0m-3 3l-2 0m-17 28l-1 0m1 0l-2 0m4-1l-3 0m1 23l-1-3m-3-12l-2-5m10 32l-2-4m-111-29l-5 0m5-3l-1 0m-13-7l3 4m2-30l1-4m-4 14l0-2m25-4l1 0m-7-1l4 1m10-2l-1 1m-6-1l-2 2m8 31l-4-3m-20 6l2-4m-12 14l1-2m-20-24l4 1m9-2l4 0m101 134l1 0m0 0l1 1m17 17l0 2m-5-5l0 3m29 19l4 2m-19-11l3 1m5 2l3 1m58-22l1-2m0 0l0-1m-3-20l-3-3m-14 14l-1 1m10-6l-2 1m1-3l-4 3m-10 16l3 4m-2-6l2 4m1 10l0-1m33 8l0-1m-6-6l-1-1m1-28l-3 0m14 6l-1 0m50-6l1 1m9 13l2 3m-20 18l3-1m14-9l3-2m-1-1l-1 2m0 31l1-1m7-16l1-3m-9 11l2-4m0-18l2 2m79 54l3-2m7-5l3-2m-3-29l2 1m2 3l4 2m-20-10l4-1m20 20l-1 3m-2-6l0 1m22-18l-1 2m3-2l-1 4m-20 11l5-2m0-4l2-1m-21-25l0-2m-4 8l1-2m-172 89l1 0m0 1l2 0m21 8l1 1m8-28l5 1m-12-1l4 1m-1 23l2-5m-1-9l1-1m-2 17l1-3m-25-35l2 4m-289-57l-4 2m8-4l-3 2m16-20l0-3m-21 25l-1-3m-2-16l0-1m6-15l-3-1m-2 38l0-2m40-7l-2-1m-15-21l-2 1m15-12l-2 1m-54 50l0 1m-2-6l1 2m-1-3l2 4m13-38l1 0m4-18l0 2m7 6l0 4m425-30l-2-4m6 22l-1 4m-3 1l-1 4m4-8l-1 5m-20-18l-4 2m5-5l-4 1m-2 2l-2 0m3 25l-1 0m10 1l-3-1m40-20l-3 0m-10-3l-1 0m-46-9l1 2m2 3l3 4m41 57l-4-3m-61-16l4-1m-2 3l3 0m20-11l3-4m-8 3l3-3m-163 5l3 0m2 1l3 1m-22-17l-1-2m2 2l0-1m31 10l0 3m0-15l-1 4m-9-20l-4-2m0 3l-2-2m-12 6l-1 1m8-8l-4 4m-14 40l2-2m31-3l1-3m-2 36l0-2m4-15l1-4m139 8l-3 1m10-2l1 1m-17 8l3 3m22 9l-1 4m-10-6l-4-1m3-36l1 2m27 14l-1 1m-8 5l-2 1m-32 23l1-1m12-6l3-2m10 7l-1-4m54-205l1-2m-1-2l1-1m7-9l3-1m-1 4l-1-2m1 3l-2-2m5 1l-2-2m3-5l2-4m-3 1l0-2m-1 0l-1-4" stroke="#5638ad" stroke-width="4" stroke-linecap="round"/>
<path d="M28 236l0 5 0 6 0 5 0 5 0 3 1 2 5 3 5-1 4 1 5-1 5 0 4-2 1-5-1-5 0-5 1-5 1-4 0-5-1-5-1-5 0-5-1-5-5-3-5-2-5-1-5 2-5 1-5 2-5 3-2 5 1 4 2 4 3 4zm-32-9l0 4-2 4-3 5 0 5 0 4 0 5 2 2 2 3 4 3 3 2 2 4 1 5 1 6 1 6 1 5 3 3 3 0 4-1 4-1 5-2 3-4 1-4 2-4 2-4 0-5-3-3-4-3-4-3 0-5-1-6 1-5 0-4-2-5-2-3-2-4 1-5 0-3 1-4-3-5-2-4-2-5-2-4-2-2-2-2-5 0-5 0-4 0 1 5 0 5 1 6 0 5-1 5 0 4zm11-71l-5 1-5 1-6 2 1 7 0 6 1 6-1 5-1 7 6 2 5-2 5-2 7-2 1 6-1 6 0 5 2 6 4 3 4 1 4-1 4-3 5-2 2-3-1-4-2-4-1-3 0-3-1-2-5-3-4-1-5-1-4 0-1-6-1-6 0-5 0-5-2-2-3-3zm35-14l-4 4-3 4-3 4-3 2-3 3-3 2-2 1-1 3-1 3-1 6 1 7 5 5 5 0 5 0 4-1 4-2 5-2 4-3 3-3 4-3 5 0 5 2 5 1 5-2 5-2 5-2 3-3 2-4 0-4-3-4-3-4-5-4-5-1-5 1-5 0-5-1-4-3-4-1-5-1zm-42 12l3-3 2-5-1-4-2-3-3-2-1-2-2-4-3-1 0 5 1 6-1 6 0 5-1 6 4-2zm-9 145l4 2 3 2 6-1 3-3 1-4-1-5-2-5-2-5-1-5 0-5 0-3-4-3-4-2-1-3 2 4 0 6-1 6-2 6-1 6 0 5zm65-37l2 4 5 1 5-1 5 0 4 0 5 1 6-1 2-3 0-6-2-5-1-6-2-5 0-6 1-3 3-3 2-4 1-2 0-4 0-6 2-6 1-2 4-3 3-3 3-3 1-5 0-6 1-5 0-5-1-4-5-3-6 0-5 2-5 2-6 1-5 2-4 3-4 0-4-2-3 1-3 1-3 4-4 3-3 3-5 1-1 3-1 4 1 5 1 5 6 1 4 1 5 2 2 3 0 6 0 6 0 6 2 3 2 2 2 6 0 6-2 5-4 5zm-64-163l2 5-1 4 1 5 0 4 0 5 1 4 4 3 5 1 5-1 3-3 4-3 3-2 3-3 1-5-1-5 1-5 1-5 3 0 4-2 4-3 2-2 1-3 2-5 2-6 2-5 2-4-2-5-3-2-3-2-2-3 1-5 0-4 0-5-3-3-5-2-4 2-5 1-5 1-5 0-3 3-2 4-2 5-2 4-1 3-4 4-5 3 0 6-2 5 1 5 0 6 2 5zm21 197l-1 5 2 3 4 2 3 4 4 3 1 2 4-1 4 0 4 0 4 3 2 5 4 4 5 3 5 1 4-1 4-2 1-3 2-3 1-5 0-6-1-5-3-5-1-5 4-3 6-2 4-2 3-3 1-3 1-5 0-5-2-3-4 0-6-1-5-1-6-2-4-4-5 0-4 2-4 2-5 0-4 0-3 3-2 6 1 4 2 5 1 5-5 3-5 1-6 1zm47-182l1-5-4-4-5-2-5-3-4-4-5-3-5 3-5 3 0 2 0 5 0 6-2 6 5 3 5 3 3 0 2 0 6-1 5-2 4-2zm-30 9l-5-1-4 1-4 3-4 3-5 2-3 4-1 4 2 5 1 5 1 3 3 3 3 3 4 1 3-2 5-1 6-1 5-3 2-4 1-4 2-6 6 0 5 0 5 1 5 2 5 2 4-2 4 0 3-1 2-1 2-2 1-5 2-5 0-5 0-5-1-2-2-3-4-3-4-2-5-2-4 3-3 4-4 5-4 3-5 3-5 2-5 3-3-2-4-2zm34-16l4 0 3-2 4-3 1-5-1-5-5-4-4-4-4-4-4-3-3-2-3 0-2 2-2 3-2 3-4 3-2 3 2 4 3 2 5 1 4 4 3 3 4 3zm35 122l-4-1-3 2-4 5 1 3 1 5 1 6 0 5 1 5 3 2 2 0 5 1 5 2 5 1 3-2 2-5 0-2 1-1-2-5-3-6-2-5-4-4-4-5zm25 26l-3 5-4 4-2 0-5 0-6 1-6 1-5 1-3 1-2 4 1 3 0 5-1 4 1 5 4 2 5 3 4 2 1-1 2-1 5-3 5-4 3-4 5 2 6 0 6 1 6 2 2 1 3-1 1-3 2-2-2-5 0-5-2-5-1-5 3-4 3-4 4-3 5-1 5-2 4-3 0-5-2-3-4-3-5-3-6 2-6 2-6 0-3-3-1-5-2-3-2-4-4-1-3 0-5 3-5 1-5 1-1 1 0 2-1 1 3 4 2 6 3 5 3 5 4 4zm-130 63l2 2-1 2 1 3 4 5 3 5 4 4 5 1 6-2 3-7 2-5-1-7-4-5-4-3-2-4-5-4-7 0-6 4 0 6zm91-27l-5 1-6 0-4 2-4 5 1 5 1 4 3 4 1 5 0 4-2 3-1 3-1 5 1 5 2 3 2 3 1 5 7-1 5-1 6 1 6 1 6 1 6 0 6-1 6-1 6-2 6 0 6 1 6 1 1-4-1-5-1-5-2-4-2-5-5-3-5 0-6 2-5 0-6 0-5-3-4-5-5-4-1-4 0-3-1-4-4-4-5-3zm7-231l-3-3-5-3-4-2-5 2-4 3-3 3-4 2-3 3-2 3 1 4 2 3 2 3 3 3 2 4 4 2 4 0 4-4 3-3 5-4 6 2 3 3 4 3 4 3 4 1 5-1 2-4 1-6 0-5 0-3 0-2-1-5-4-3-6 0-5 1-5 0zm-100 4l2-3 3 0 3-2 2-5 0-5 1-6 3-3 6-1 5-3 5-2 2 0 2-1 0-5 0-5-1-5 0-5-4-2-5-2-4 0-5 1-3 1-3 4-1 5-2 4-2 5-5 1 0 6 0 6 1 5-1 6 0 6zm101 49l5-3 5-1 4 0 2 3 3 4 4 3 4 4 2 2 1-1 1 0 5-2 8 0 3 6 4 4 4 4 5 2 3-1 3-1 3-4 1-4 2-5 0-5 2-3-1-5-5-3-5-1-5-1-5-1 1-4 2-5 1-5 1-4-1-6-1-3-3-2-3 0-5 0-5 0-4-2-4 1-3 4-3 5-2 5-3 5-5-2-6-2-5-3-5-3-3-1-4 2-4 3-5 3-4 4 1 5 0 5 5 3 4 3 6 2zm-42-48l6-2 5-4 4-2 5-2 5-2 4-3 4 0 3 4 4 5 4 1 5 0 4 0 5-1 4-1 3-2 3-4 2-5 1-6-5-5-5-1-6-1-5 0-5 0-6 1-4-3-1-6 0-6 3-5 5-3 3-3 3-4-1-5-3-4-2-3-4 1-5-1-5 0-2 1-2 4-3 5-3 3-2 1-3 3-3 5 0 4 1 4 0 5-4 5-5 2-6 1-4 3-4 5 1 4-1 5 2 5 4 5zm93 239l-2-5-2-3-2-2-5-3-5-3-4-3-6 0-4 3-2 5-3 3-3 3-3 6 1 4 3 4 3 3 2 3 5 1 5-1 5-1 6 0 4 1 4-4 3-5zm-104 44l6-1 5-1 6-1 5 1 5 2 6 0-2-7-3-2-1-3-4-3-4-1-3 1-4 2-3 2-4 2-3 4zm99-147l-4 3-3 4-2 5 0 5 4 3 1 3 1 3 3 5 5 0 4-1 4 0 3-4 0-5-1-5 0-4 0-4-1-4-4-3-5 0zm-147-171l4-6 2-5 3-4 1-4 5-1 6 0 6 1 6-1 3-2 3-4 4-3 2-4 0-6-6 0-6 1-5-1-6 0-5-1-6 1-5 1-6 0 0 5-1 5 0 5-1 6 0 5 0 5zm35 290l-5 4-1 3 0 4-1 4 2 4 3 3 4 1 4-2 4 1 4-2 5-2 1-5-1-4-2-3-3-2-3-3-3 0-3-1zm5-285l3 4 5 1 4-3 3-4 5-2 4-3 3-4 0-6-2-5-4-3-4-3-4-4-5-2-5 0-4 5-3 2-2 5 2 5 3 4 2 4-1 5zm123 38l3-1 4-1 2-3 2-4 3-5 3-4 3-4 6-3 5 1 5 0 4 1 4 1 4-2 3-5 0-5-1-5-3-4-1-4-3-5-3-4-6-2-3 1-3 1-5 2-4 4-4 2-3 4-4 4-3 3-5 2-4 2-4 1-4 1-5 0-4-2-5-1-5 2-2 5-1 4 1 4-2 4 0 3 1 3 2 2 3 3 4 1 5 0 6 0 6 1 4 1zm-11 224l2 3 2 2 3 2 5 1 5 2 5 2 6 2 1 4 0 4 0 5 2 5 5 4 6 0 4-3 4-2 4-2 2-4 3-4 3-2 4-4 4-4 2-4 2-4 1-5-2-5-4-2-6-1-6-1-6-1-3-1-3 0-4 2-6 0-3-3-3-1-5 1-5 2-5 1-5 1-2 2-3 2-3 2zm102 51l-3-6-3-4-5-1-3 2-4 2-4 3-4 2-4 1 4-2 5 0 5-1 5 1 5 2zm-71-8l0 3 0 3 5-1 6 2 5 1 6 0 6 0 5-1-2-3-2-5-1-5-2-3-4-2-5 1-5 2-4 3-5 3zm-27-26l-2 1-2 2-2 3 0 2 2 6 2 5 3 5 3 2 3 1 5 0 6 1 4 0 4-3 0-5-1-5-1-5-2-4 1-6-2-3-3-2-6 0-5 2-5 2zm-51-147l4 2 3 1 3 3 1 5 2 4 0 4 0 3 1 2 4 1 5 2 5 2 5 0 3-3 1-4 0-5 1-4 0-5 1-5-3-4-3-2-3-2-3-4-3-5-3-4-1-5-2-2-3 0-4 3-5 4-5 3-2 4-1 4 1 4zm-27-163l1-4 2-4 0-4-6 0-6 1-5-1-6-1-6-1-7 1 2 5 1 2 4 2 3 4 4 3 4 3 5-1 3-2 4-2zm-60 343l-1-3-2-3-4-3-5-2-4-3-1-3 0 3-1 5 1 4-1 5 6-1 6 1zm164-242l1-2 1-3 0-3-1-5-2-5-1-6-5-3-5-2-3 1-4-1-3 1-2 3-1 6 0 6-1 5 1 3 1 3 6 2 5 1 5 1 4 0zm-55 27l-1 5 2 3 4 4 3 4 2 5 2 4 2 4 4 1 4-1 3-5 3-5 2-5 2-3 1-3-4-5-3-4-5-4-4-1-4 1-4 2-4 1zm-21-129l-2 3-2 4-2 5-1 4-1 4 0 6 4 5 5 2 6 1 5-1 6-1 5-1 5 2 5 2 5 1 5 2 4 0 4-2 4-2 4-2 3-3 0-4-2-3-2-2-2-4-3-3-4-4-1-6 3-5 3-4 2-6-7 1-5 0-6 0-5-1-6 1-5 0-6 0-6 0-5 1-5-1 0 6zm79 110l-3 0-3 2-2 3-2 5-2 4-2 5 1 4 2 3 4 2 4 2 5 1 4-2 2-3 3-3 3-2 2-3 1-5 0-3-2-3-1-3-5-1-5-2zm-37 81l2 2 3 2 4 2 5 2 5 1 1 6 0 6-1 5-2 6-1 7 5 4 4 2 4 3 5-1 5-1 3-2 2-6 2-6 2-4 1-4 0-6 0-6-1-6 5-1 5 0 4-2 5-2 3-4-1-4-2-6 0-5 0-6-4-2-6-1-5 0-6-1-2 1-2 1-4 4-3 5-2 4-6-1-4-2-5-3-4-4-3-4-6-4-7 3-1 6 1 5-1 5 0 4 2 5zm-41 26l2 1 2 0 5 0 5-1 4-1 5-1 5-1 3-4 2-3 2-4 1-5-2-4-4-3-5-1-5 1-5 2-4 1-3 2-3 3-4 2-4 2 0 6 1 6zm106-165l-1 3 2 3 4 3 5 2 5 1 4 2 4 3 3 2 2 0 4-2 5 1 6 1 5 1 6 0 4-1 2-3 1-4-1-5 0-5 1-6-2-4-4-3-4 0-5 2-5 2-3-1-4-3-4-3-3-3-4-1-3 2-4 4-5 2-6 0-3 3-2 3zm30 30l-3-2-4-1-4 2-2 6-1 5 0 6 1 4 2 4 4 3 4 3 5-2 3-2 0-4 1-2-2-5-1-6-2-5zm-34-25l0-2-1-3-3-3-5-1-4 1-5 2-3 1-2 1-4 4-3 4-2 5-1 2 0 3 3 4 3 2 3-1 4-3 4-3 5-1 4-2 3-2 2-4zm-29 184l-2 3 1 3 0 5 1 6 2 6 2 5 1 6 3 4 2 2 6-1 6-2 5 1 5 1 5 2 6 2 4 3 2 2 3 2 6 1 5 1 6 1 5 0 4-1 2-3 1-3-1-5 0-5 0-5-1-4-3-2-4-1-5 1-5 1-4 2-3 2-3-4-4-3-4-4-4-5 0-6 4-5 4-3 3-4-1-5-2-6-4 0-5 0-5 0-4-2-5-2-3 0-4 1-4 4-3 4-1 5-5 3zm-12-98l-2 2-2 2-4 2-3 3-3 4 0 5 4 5 4 3 4 2 6 0 4-1 2-2 4-3 5-2 2-3 0-4-1-4-2-4-4-3-4-2-6-1zm112 45l4 3 5 0 5-1 3-1 4-3 3-3 2-4-1-3-1-3-3-2-4-2-4-2-4 0-5 0-3 5-2 5-1 5zm-6 36l1 4 3 4 6 2 4-3 4-2 2-3 4-2 2-5 2-7-4-5-2-5-3-5-4-3-4 0-4 1-3 3-2 3-2 5-1 4 0 5 0 5zm-43-1l1 5 1 4 2 4 3 3 5 2 5 3 6 0 5-2 3-3 3-5 0-5-2-4-4-2-6-2-5-2-5-3-5 0-1-5 0-4 0-4-1-6-4-4-5-1-5-1-4-1-4 0-5 3-4 3-2 3-1 3-1 4 1 3 1 3 2 4 4 3 4 3 4 2 5 1 5-1zm17-35l-3 3-3 1-2 4 0 5-1 5 1 6 4 5 4 2 4 2 5 1 5 0 4-2 2-4 2-4 2-5 2-5 0-6-4-5-6-2-5-1-5 1zm29-148l0 1 0 2-1 5-1 6 0 5 1 5 2 5 1 1 4 2 5 1 1 3 4 4 3 5 5 4 5 3 3-2 1-2 5-3 5-3 3 0 1-3-1-3-3-4-3-5-2-4-3-5-4-4-3-4-5-1-4-3-4-4-3-4-3-1-5 2zm-53-41l-2 0-2 1-4 4-3 4-3 4-2 2-2 3 0 5 1 5 3 4 3 4 3 2 2 1 4 1 5-2 4-2 4-2 4-1 5 3 5 3 4 5 5 0 5 0 4-2 4-2 2-3 1-2-1-3-3-4-4-4-2-5-1-5-2-4-4 0-5 1-4 2-6 1-4-1-4-5-3-4-4-4zm-39-9l1 4 1 5 0 5 2 5 2 1 3 1 4 0 4-1 4-3 5-3 5-3 4-4 2 0 3-2 3 3 4 3 2 4 3 4 4 2 4-1 5-3 5-3 5-1 3-3 4-3 3-3-3-6-6 1-6 1-6 1-6 0-6-1-6-1-6-1-6 0-6 0-6 1-6 0-6 1-6 0zm-6 260l-4-3-5 0-4 3-4 3-4 4-3 4 1 5 1 4 2 4 2 2 2 2 4 1 4 2 4 0 5-3 1-4-1-4-1-5-1-5 1-5zm84-104l0 3 2 2 5 3 5 2 4 2 3 2 3 0 3-3 1-5 1-5 2-5 3-5-1-2-3-1-3-2-4-3-3-4-3-1-4 1-2 5-2 5-3 4-3 4zm-3 4l-2-4-2-3-5-3-4-3-4-2-5-3-3-1-6 2-5 4-4 1-6-2-4-3-4-1-2 2-4 4-4 4-5 3-2 2 0 4 1 3 1 4 4 4 5 1 6 1 5-1 7-1 3 6 0 5-2 5 0 5 0 5 3 3 5 3 5 1 6 0 3-3 2-2 4-2 0-6 1-6-1-5-1-6 2-3 3-2 4-3 3-3zm18 192l0-4 0-4 0-5-2-5-1-4-1-5 3-3 4 0 5 1 5-2 6-1 3-3 4-2 1-4 1-5-2-3-4-3-4-4-5-2-5 1-5 4-4 3-5 3-3 4-2 1-4-1-4-1-5-2-5-2-6-3-5 0-4 1-3 3-2 4-1 3 0 5-4 3-4 1-4 1-3 2-3 2-2 5 2 4 2 3 3 4 1 4 3 3 3 1 4 0 5-2 6-1 5-1 4-2 2 3 3 4 4 4 6 0 5 0 5-1 5-2zm-70-216l4 2 4 2 3 4 4 2 5-2 5-3 2-5 1-5 2-3 1-4-2-3-4-1-3 0-4 4-5 2-5 1-5 0-2 1-2 2 0 2zm55 166l4 3 4 0 4-1 5-3 3-3 4-4 2-4-1-3 0-4 0-4 0-4 0-3 2-3 5-1 5-1 6 1 5-1 5 0 3-4 3-3 0-4-2-3-3-2-5-4-5-3-5-4-6-2-6 2-4 3-3 0-3-1-4-1-4 1-4 1-4 4-4 3-2 4-3 5-5-1-4-3-5-1-4-1-5 1-2 3-2 3-1 2 1 3 2 5 3 5 1 4 3 1 5-1 4-2 5-1 4-2 4 1 2 3 0 5 0 5 0 5-1 5zm-13-220l-4 3-1 5 1 4 2 5 1 6 1 5 4 3 4 2 5-1 3-2 3-4 2-4 2-5 1-6-1-5-4-4-4-1-6-1-5-1zm14 35l-3-1-4-1-4 1-3 1-3 1-3 1-3 3-2 3 1 6-1 5 1 4 3 3 4 4 4 2 6 1 4-2 3-4 2-3 3-3 1-4 2-3-1-4-1-6-3-2zm-107-102l3 6 4 2 4 3 4 2 4 2 6-1 2-4 1-3 0-6-1-4-1-3-1-4-1-4-1-4-6-1-4 1-6 1-3 4-2 4-1 3zm117-5l-3 0-2 1-4 2-1 4 1 5 2 5 2 4 3 4 2 4 4 3 4 1 4-2 2-3 2-4 2-5 3-4 2-4-2-4-4-2-5-1-5-1-4-2zm47 331l2-3 6-3 6-2 4 4 3 4 4 4 4 4 3 3 5 2 6 1 2-6 0-6-1-5 0-6 1-5 2-3 4-4 5-2 2-4 2-4-1-3-3-2-5-3-5-3-6-3-5-2-3 0-2 1-2 1-3 5-1 5-2 6-2 6-6-3-5-2-5-2-5-3-5-3-3-1-4 1-3 5-3 4-2 6 3 5 3 5 3 5-4 3-5 3-4 4-3 5-3 4 5-1 5 0 5-1 6 0 5 0 4 1 0-3 0-5zm-47-343l0 6 4 3 5 2 5 0 5 2 6 1 5 4-2 7-3 4-2 5-3 5-3 5 2 6 4 3 4 3 4 2 4 0 3-1 4-4 5-4 5-2 7 0 4-2 3-4 3-3 3-3 2-3-1-4 0-5-2-4-3-4-3-2-2-2-1-4 0-2-2-5-6 0-6 0-6 0-6 2-6 2-5 1-6-1-6-2-6-2zm63 134l6-4 1-5-1-7 0-6 4-4 4-2 5-1 3-2 3-3 0-2 1-4 0-5 0-4-1-5-2-5-4-3-4 1-3 3-3 5-5 3-5 4-5 3-2 3-2 4-4 2-4 2-4 2-4 4 1 6 1 3 3 4 2 2 4 2 5 3 5 4zm-85 61l1 1 2 2 5 1 4 2 5 0 4 0 2-2 3-3 2-5 0-5 0-6-2-4-2-2-4-2-3-3-3-4-3-2-4 0-4 2-3 3-3 3-2 5 3 6 2 6 1 5zm62-135l-1 4 1 4 4 4 3 5 2 5 3 2 4 1 3-1 5-3 4-1 5-3 3-4-1-5-3-4-5-1-4-4-3-3-3-4-2 0-3 1-5 2-4 3zm38 7l5 0 2-2 3-5 2-4 2-5 3-5-2-4-2-5-6-2-6-2-5 2-3 3-3 4-3 3-1 3-1 2 1 3 3 5 4 3 4 3zm-72 23l-2 0-4 1-2 6-2 6 0 6-2 5 2 4 3 3 2 4 1 4 1 4 4 2 5 3 3 4 4 4 3 2 0 3-1 5-2 5-1 4 0 4 2 2 3 2 5 2 4 3 5 2 4 2 4-1 4-3 1-4 0-5 0-4 2-4 3-2 2-4 1-5 0-5 2-4 1-4-1-4-4-3-4-1-5-2-4-1-2-2-2-4-1-5-1-6-4-4-4-5-4-3-4-4-5-3-5-1-2 2zm145-27l4 3 6 1 4-1 5-1 4-1 5-1 2-3 1-4-1-5-2-4-3-5-2-2-2-1-2-1-3-1-5 0-4 1-5 1-2 4-2 4 0 5 0 5zm-62 1l3 5 4 4 5 1 6-1 6-2 4-4 1 2 2 5 1 3 2 4 2 4 4 1 5-1 4-2 4-1 4-3 2-5 0-5-2-4-5-3-4 0-4 0-4 0-6 0-3 1 0-6-3-4-5-2-4 0-4-1-3 0-3 0-2 2-4 1-2 6zm-26-61l2 2-1 3 3 3 4 2 3 2 1 5 1 4 2 4 1 2 2 1 5 2 5 1 3-1 2-6 3-5 4-4 3-2 1-5-3-4-6 1-4 0-5-2-1-6-6-2-5 0-5 1-5 3zm10 286l4-1 1-3 2-5 1-4 0-4-2-2-3-2-5-1-5-2-5-3-5-2-4-2-4 2-2 3-2 4-1 6 2 6 2 6 5 2 6 0 5 0 5 1zm-25-93l-2-2-3-1-3 1-5 2-4 3-6 2-4 4-1 4 3 3 4 2 3 3 1 5-2 4-3 5-2 6 1 3 5 3 4 3 5 2 5 1 5 2 2 4 3 3 5 2 5 0 6 1 5 1 3 0 3-1 1-3 1-5 0-5 1-5 0-5-2-4-2-2-5-2-5-1-4 1-5 3-4 1-4-3-2-5-1-5 0-2 0-5-2-5-1-5 1-5zm-5-10l3 4 2 4 6 3 4 1 5 0 4 0 4-2 3-1 3-3 3-2 3-3 0-4-2-4-1-4 0-5 3-4 4-3 4-4-1-5-2-5-1-6 1-5 5-3 5-2 4-2 3-5-2-5 0-5 1-4 0-5-2 0 1-1 3-1 4-1 4-1 3-2 2-3 2-4 2-3 0-4-1-5-3-4-3-5-4-2-5 1-5 0-5 1-4 3-1 5 1 4 0 5 0 5 1 5 3 4-6 0-4 2-5 3-4 2-3 2-1 4 0 4-1 4-2 4-4 5-3 4-1 4-1 5-2 5-1 5-2 5-2 3-2 2-2 5-4 4-3 5zm44 78l3 2 3 1 5 0 4 1 5 1 5 1 2 5 3 5 1 4 0 6 1 6 4 3 5 1 5 0 5 0 5 0 4-4 3-6 2-5-2-5-1-4-1-4 1-4 3-4 3-3 2-5 1-4-2-4-3-3-6-1-5 1-5 2-5 3-5 3-5 3-3 0-3-5-3-4-4-4-5-4-4-3-4-1-2 0-4 1-4 3-2 5 0 6 1 5 1 5zm10-43l1 5 4 2 4-1 4-2 4-2 4-2 4-2 1-4 1-5-4-5-4-4-5-1-3 0-4 1-3 4-1 4-1 4-1 4zm-80 52l-2 4 0 4 2 4 1 5 3 3 4 3 3 4 4 3 4 3 4 2 5 1 5 1 5 2 4 3 4 0 2-2 2-2 2-4 2-4 1-4 2-4-2-4-3-4-5 0-5 0-5 1-5-1-3-3-1-6-2-5-2-3-6 0-5 0-4 1-5 0zm-6 77l2 1 4 1 3-2 3-4 3-4 3-3 1-3 1-4-1-5-3-4-4-1-6 1-6 1-5 1-3 3-2 5 1 6 3 4 3 4zm93-48l3 0 4-1 3-2 2-3-1-5-2-4-2-4 0-3-3-5-4-3-6 0-6 0-5 2-3 4-3 5 0 4 2 4 3 2 5 2 6 3 4 3zm69-102l-4-3-3-2-4-1-3 1-4 0-4 2-3 3-1 4 2 4 0 4 0 4 1 3 1 3 3 4 4 2 5 1 5-3 4-3 5-4 6 2 4 4 4 6 5 4 6-1 3-5 1-5 0-5 2-6 1-3-2-4-2-4-1-6 2-5 2-5 0-5-2-5-6-2-4-1-5 0-4 2-2 4-2 6-1 6-1 6-3 4zm-86 31l6-1 4-4 1-6-1-5 0-6 1-5 3-4 4-3 3-1 2-2 3-4 4-4 2-3-1-5-2-4-1-5-1-5 1-4 1-4 2-3 0-6-1-6-1-3-3-2-3-3-3-4-4 1-3 2-1 5-3 3-1 3-3 3 0 6-1 6 0 4-3 3-3 4-1 6 1 5 1 6-2 4-4 2-4 2-4 3-3 0-4 0-4-1-5 1-5 3-1 6 1 4 0 5 0 4 3 4 3 5 3 3 5 0 5-1 6-2 5 2zm21-225l3 4 5 2 4 0 6-1 7-1 4-3 1-7-6 0-5 1-5-2-5-1-8 0zm3 18l-3-2-4 0-3 3-3 4-2 4 0 4 0 4 2 3 3 2 5 0 4 0 4 1 4-1 3-3 0-3 0-3-3-3-3-3-3-3zm53-13l-5 2-5 1-5 1-3 1-3 3-1 4 1 5 1 4 2 3 4 3 5-2 4-2 5-1 6 0 4 2 2 4 4 3 4 4 2 4 1 3 3 2 5-1 4-1 4-2 2-5 1-5 3-4 1-5 3-5 3-3 3-1 1-3 2-3-1-5-1-6 0-6-6-1-6-1-6 0-5 0-6 1-6 1-6 1-6 1-5-1-1 4 0 4zm-40 40l0 4 3 2 5 2 5 0 5 1 4-3 1-4 0-5-1-5 0-3-2-2-1-3 0-5 2-3 1-5-1-4-2-6 1 1 5 0 4-1 6-1 4-2 3-4 0-5-6 0-6-1-5 0-6-1-6 2 0 4 1 4 1 1-2-2-5-1-5 0-6 2-4 3-2 5-1 5 2 4 4 4 5 5 2 5-1 5-1 4zm-46 306l-3-7-4-4-4-3-5-3-4 0-3 1-4 2-2 4 0 5 1 3 4 0 5-1 6 1 5 1zm12-353l5 1 4 2 4 2 6-2 3-7-7-2-5 0-5-1-7 1zm69 104l6-3 4-3 4-4 4-5 4-3 2-1 1-4 2-6 0-5-2-5-7-3-5 2-5 0-6 0-5 1-3 1-2 6-3 5-5 2-6 1-5 3-5 2-2 4-3 3 1 4 3 3 4 3 5 3 4 4 5 0 6-1 5-2zm-39 49l-4 2-2 5 1 7 3 5 1 6 0 3-4 3-2 5 0 5 5 4 4 3 4 1 3 0 4-1 5-1 3-2 4-3 2-2 4-3 3-3 6 1 4 2 5 3 4 1 4-3 3-3 1-6 2-5 1-5 3-5-3-5-2-4-4 0-4 0-5 2-4 2-4 2-5 2-5 1-2-4-3-4-3-2-3 0-5-1-5-1-4-1zm-15-49l1 5 2 4 0 4-1 4 4 3 4 3 5 3 3 3 1 6 0 5-1 5 1 1 2 2 4 0 5 0 4-1 3-2 0-3 2-3 1-2-4-3-3-4-4-5 0-4 1-6 0-5-1-2 0-2-3-6-3-4-6-5-6 2-4 1-5 2zm27 240l-4-3-5 0-3 3-3 5-3 3 4 1 5 0 5 1 5 0 6-1-3-5zm22-78l0 4 0 4 2 4 5 2 4 3 4 0 5 0 5-4 3-3 3-3 4-3 0-6-1-5-2-5-5-2-5 0-6 0-4-1-4-1-5 0-1 4 0 5 0 5zm-28 67l3-3 4-3 4-4 4-2 2-4 1-2 1-3 1-4-1-5-3-5-3-1-5-1-5-1-5-1-5 0-3 3-4 3-2 4-2 3 1 4-1 5-3 4-5 3-4 2 0 5-1 5-2 5-1 5 1 4 2 2 4-1 5-1 5 1 4-2 4-3 3-4 3-4zm68-62l5 0 4-1 4-3 6-1 4-3 4-3 2-3 2-3 1-3 0-4-1-5-3-3-5-4-4-3-6-4-5 2-4 1-4 0-5-3-4-3-4-4-4-2-5 2-4 3-4 3-3 4-1 3-2 3 0 4 2 4 4 2 5 2 5 1 5 2 4 1 3 3 2 5 2 6zm-9 41l4 2 5 0 4-2 5 0 3-3 1-4 0-4 0-5 0-5-2-4-3-5-1-5-3-3-4-3-6 1-5 1-4 3-3 5 1 6 1 6 1 5 1 5 2 5zm-31 2l-3 1-3 3-1 5 3 5 3 4 4 4 5 2 4-1 4-2 5-3 5-3 3-5 0-6-4-5-5-2-6 0-5 1-5 1zm-5-6l6 0 5-1 5 0 4 2 5 1 5-4 0-6-2-4-2-5-1-4-2-2-4-2-4-2-4 0-5 1-4 4-1 4-1 4-2 3-1 3-1 4zm41 9l0 6 2 4 2 5 2 6 2 6 3 3 4 1 5 1 5 0 4-5 3-5 5-3 5 0 5 3 5 2 6-1 4-3 1-5 0-5 0-6 0-6-3-5-3-3-3-3-2-3-2-4 0-4-3-4-6 0-4 2-5 2-4 2-4 2-2 3-1 4-2 5-4 1-6 1-6 2zm-39-175l0 5-2 4-1 5 2 3 2 2 3 1 3 1 6-1 6 0 5-2 4-3 3-1 5 3 3 4 2 1 5 2 5 1 4 0 4-2 2-4 0-4 0-4-2-4-4-2-4-2-1-5 0-6 2-6-1-5-4-4-6-2-6 1-5 3-5 3-5 2-2-5-1-5-2-5-3-3-5-1-4 1-5 2-5 1-3 2-3 3-2 5-2 5 3 5 2 3 4 3 4 1zm67 12l-2 4-2 5-1 6-2 4-4 5-3 4-1 6 0 7 5 5 4 4 2 3-1 5-2 5-2 5-2 6 3 5 4 4 5 1 5 2 4 1 4 0 4-3 4-3 4-2 0-5 1-5 3-5 3-4 0-6-1-6 0-6 2-6 2-6 0-6-2-6-5-2-5-3-2-4-2-5-3-4-2-5-2-3-3-2-4 3-4 3-1 3zm-29-66l2 5 3 4 3 4 2 5 3 4 3 3 4 1 5 0 4-1 1 1 2 4 2 4 3 4 4 3 4 4 2 2 4 1 4-1 3-4 3-2-1-4 0-5 0-5-1-3 0-4 2-5 1-5 0-5 0-5 0-5-1-5 1-4-3-1-3 1-5 2-4 3-4 3-3 3-4 4-5-3-5-3-2-4 1-5 1-4 2-5 1-6-3-7-5-3-5-4-7 1-5 1-5 2-6 4-1 4-1 4 4 6 3 5 3 5 0 7zm34-90l0 5 1 5 1 6 0 4 1 4 2 2 4 2 3 4 3 4 3 4 4 3 3 1 1 0 0-4 1-5-1-6 0-5 0-6 1-6 1-5 0-6-2-1-5 1-6-1-5 0-5 0zm-58 105l0 4 1 3 1 4 1 5 2 4 4 2 6 0 4-2 5-1 5-3 3-2 1-3 1-2-1-3-2-5-2-5-2-5-4-1-4 0-3 0-6 3-5 3zm4 240l0 4 2 4 6 0 6-1 6-1 5 1 2-2 0-5-4-4-2-5-1-3-3-3-4 1-3 2-4 5-4 4zm-37-9l0 3 2 3 3 3 3 4 1 3 4 0 5 0 6 1 5 2 7 2 2-7-2-5-5-4-4-4-4-4-5-4-4-2-4 1-3 1-4 4zm91-308l-5-1-5 1-2 5-2 5-2 6-2 6 4 5 2 3 3 4-2 4-1 6 2 6 4 4 6 1 3 0 3-2 5-2 4-3 5-2 5-2 1 0 3 0 0-6 1-6 0-5 1-8-5 0-4-3-5-4-5-2-5-3-4-4zm15 114l0 4 0 5 0 5 2 6 4 3 4 2 4 1 2-6 1-6-1-5-2-5-2-6 0-4-3 1-5 1zm-31-24l-4 4 0 5 1 5 1 5 1 5 3 3 4 1 5 0 4-1 5-3 2-5 0-6-3-5-3-5-3-2-4-1-5-2zm-7 231l-5 7 7-1 6-2 5-1 6 2 5 1 6 0 5 0 5 0 6 1 7 0 1-6 1-6-5-2-6 0-5 1-5 0-5 0-3 0-3 2-2 3-3 3-5 1-4-2-4-1zm24-86l-5 3-4 3-4 3-4 3-2 4 1 5 2 5 2 2 2 4 3 1 4-2 5-2 5-1 6 1 4 0 0 5 2 5 2 4 5 3 3 1-1-6 0-5 0-6 0-5 0-6 1-6 0-5 1-6 0-5 0-6-1-5 0-6-3-1-3-2-6-1-3 0-3 2-3 4-1 5 0 4-2 5zm-281-162l1 2 3 2 3 2 3 0 1-6 2-6 0-2-4-1-3 2-3 3zm-11-1l-2 0-6 1-5 2-4 4 0 4 1 2 4 2 4 3 1 3 4 0 2-2 1-5 2-4 3-4 0-5-2-1zm10 5l-4 2-2 4-1 4 0 4 3 3 7 0 6-2 3-6-4-4-4-2zm-32-16l-1 5 1 7 6 2 5-4 4-3 5-3 0-3 1-3-1-4-4-2-6 3-4 3zm-89 60l3 5 4 2 1 1 3-3 4-3 2-4 0-1-2-2-6 0-4 1zm7-19l-3 0-1 1 0 6-1 5 1 1 3-1 3-2 2-1-2-5zm18 13l5-3 1-3-2-5-1-4-2-5-3-4-5-2-4 1-3 0-4 1 0 5 3 4 3 5 1 5 3 3 4 1zm308 100l5-4-1-5-1-4-5-3-3-4-3-2-5 1-5 3 0 6 4 4 3 4 5 2zm-22-19l4-4 5-2 4-2 0-4-1-6-1-2-6 2-5 1-6 2 0 4-1 5 4 2zm-8-2l-4 1-5 2-6 2-4 2-1 4 3 4 5 2 4 3 3-1 2-3 2-5 3-4 1-2 0-3zm1 22l2 1 2 1 4-3 4-2 2-3-1-4-2-4-4-1-4 3-1 6z" fill="#eeefeb" stroke="#d8cce8" stroke-width="1.2"/>
<path d="M204 317l-10-7m-154-254l-12 6m36 48l1 0m8-4l-2 1m167 228l0-3m-56-47l0 4m77 13l0 3m9 10l-2-1m-14-45l15-1m-55-270l-14-11m232 351l0 2m-425-298l-6-6m124-1l1-6m290 26l2 3m-35 3l2-4m-313 87l-2-17m26 79l-4-3m-21-58l-2 12m125 124l4-11m164-177l5 3m126 237l-2-9m-189 4l6 2m-194-10l-2 4m-96 19l0 1m89-37l-12 5m-31-47l-1 13m-58-268l0-1m57 20l12 6m13 16l0-5m210-36l3-2m-161 190l0 0m37-17l1 6m-15 16l9-5m109 38l2 11m41-92l-14-9m2-29l-4 6m-157-19l-3 1m-7 19l2-6m343-66l6-1m28 14l-1-7m-23 24l0 5m-76 174l-6-2m-50-38l3 1m23 25l0 1m-59-24l-6 11m72 94l-11-9m-55 7l4-6m183-17l-11 5m-469-21l6 4m-13-31l-10 2m40-51l6-6m219-129l6-7m-23-27l1-1m56-3l-6-13m12-25l-10 5m94 0l-3-3m-70 3l7-4m141 104l3-4m-9 98l9-2m20-34l-2 2m-93-31l9-4m47 5l-5 3m-232-63l-2 0m-66-45l3 6m60-2l2-9m-9 203l2-3m90-14l-5 1m144 36l3-9m63-31l-9-6m-65-14l12 0m-70-15l14 0m-116 24l-4-2m-28-48l0 2m230-132l-5-2" stroke="#c0a6e0" stroke-width="3.6" stroke-linecap="round" fill="none"/>
<path d="M204 317l-10-7m-154-254l-12 6m36 48l1 0m8-4l-2 1m167 228l0-3m-56-47l0 4m77 13l0 3m9 10l-2-1m-14-45l15-1m-55-270l-14-11m232 351l0 2m-425-298l-6-6m124-1l1-6m290 26l2 3m-35 3l2-4m-313 87l-2-17m26 79l-4-3m-21-58l-2 12m125 124l4-11m164-177l5 3m126 237l-2-9m-189 4l6 2m-194-10l-2 4m-96 19l0 1m89-37l-12 5m-31-47l-1 13m-58-268l0-1m57 20l12 6m13 16l0-5m210-36l3-2m-161 190l0 0m37-17l1 6m-15 16l9-5m109 38l2 11m41-92l-14-9m2-29l-4 6m-157-19l-3 1m-7 19l2-6m343-66l6-1m28 14l-1-7m-23 24l0 5m-76 174l-6-2m-50-38l3 1m23 25l0 1m-59-24l-6 11m72 94l-11-9m-55 7l4-6m183-17l-11 5m-469-21l6 4m-13-31l-10 2m40-51l6-6m219-129l6-7m-23-27l1-1m56-3l-6-13m12-25l-10 5m94 0l-3-3m-70 3l7-4m141 104l3-4m-9 98l9-2m20-34l-2 2m-93-31l9-4m47 5l-5 3m-232-63l-2 0m-66-45l3 6m60-2l2-9m-9 203l2-3m90-14l-5 1m144 36l3-9m63-31l-9-6m-65-14l12 0m-70-15l14 0m-116 24l-4-2m-28-48l0 2m230-132l-5-2" stroke="#5638ad" stroke-width="3.2" stroke-linecap="round" stroke-dasharray="4 6" fill="none"/>
</g>
<g transform="translate(546.5,10)">
</g></g>
<clipPath id="c3"><rect x="24.2" y="187.7" width="255" height="169.6"/></clipPath>
<pattern id="t3" width="20" height="20" patternUnits="userSpaceOnUse" x="24.2" y="187.7"><rect width="20" height="20" fill="#b497dc"/><g transform="scale(0.5)"><path d="M29 8l1-2m2 18l0 1m-18-7l-1-2m10 3l1-1m-21-12l2 2m26 0l-1 2m-20-8l-1 1m-4 29l0-2m26 5l-1-2m-1 1l0 1" stroke="#dc90d8" stroke-width="3.6" stroke-linecap="round"/><path d="M9 15l-3 2m0-10l-1 3m41-3l-1 3m-46 22l1 2m39-2l1 2m-30-13l1 4m-4-23l0 1m0 39l0 1m27-22l4 1m-10-12l-1 1m-3 8l1 0m-10 7l1 2m-3-2l0 1m3-1l2 0m8-18l0 3m-12-4l-1 2m-5-15l-2 2m2 38l-2 2m4-20l-2 1m-14-20l-1 1m1 39l-1 1m41-41l-1 1m1 39l-1 1m-13-7l-3 2m-22-3l2 0m38 0l2 0m-18 0l3 1m-10-29l-3 1m3 39l-3 1m-3-15l3 1m13-13l1 2m6 7l0 2m-3 0l1 1m-8-24l1 1m-1 39l1 1m13-12l0 2" stroke="#5638ad" stroke-width="4" stroke-linecap="round"/></g></pattern>
<g clip-path="url(#c3)"><rect x="24.2" y="187.7" width="255" height="169.6" fill="url(#t3)"/>
<g transform="translate(24.2,187.7) scale(0.5)">
<path d="M139 336l0 2m-2-10l1 2m0-9l0 2m-1 16l1 3m-21-17l-2 1m-43 14l-1 0m2-1l-2 1m14-7l-2 1m19-5l-1 1m-104 14l3-2m34-2l-1 0m-19-2l-3-1m259-2l2-1m11-8l2-1m-8 9l1-1m12-5l3-1m-3 1l3 2m8 9l1 1m-100-28l2 2m18 26l1 3m3-3l2 3m-16-77l0 2m-11 39l-1 3m11-37l-1 2m52-21l-3 0m-43 2l-4 0m4-2l-2 0m18 2l-2 0m43 0l3 3m7 12l2 3m6 4l1 1m-2 4l1 3m-5 39l-1 4m10-30l0 3m33-12l1 0m-31 9l4-1m21-7l3 0m5 2l-1 0m36 6l-4-1m-10-3l-2-1m23 20l0 2m3 3l0 2m0 18l-2 0m-25 0l-3 0m-6 3l-2 0m-16 2l-3 0m20-1l-1 0m-340-32l0-3m6 16l-1-4m-3 4l-1-2m335-84l3-1m-29 19l2-1m8-10l1-1m-32 27l3-2m45 3l1-2m-5 15l1-3m6-15l0-2m4-21l0 1m49 37l2-2m-20-9l2 1m-3 1l1 1m-20-16l3 2m67-1l-3 0m-6 6l-1-1m33 12l1 3m-1-3l1 1m1 7l0 1m-2-16l0 3m-65 69l0 1m60-3l2-3m8-5l3-3m-48-61l2-2m5-3l1-1m-312-250l1 3m7 13l1 4m-13-35l0 1m69 36l-2 3m1-22l-1 3m-23 16l-3 0m17-2l-3 1m-42 5l-4 0m386-36l1-1m-400 101l2-3m-8 11l1-1m12-17l2-3m-80-27l2-2m74 8l-1-2m-3-11l0-1m-23-2l-1 0m2-3l-1 0m-38 4l1 0m-36 79l-1 0m21-68l-2-1m-17-9l-3-1m13 219l4-1m-16 8l3-1m53-14l2 0m-35 10l2 0m20-67l1 0m-15-4l3 1m16 4l1 1m5 28l1 4m-1-4l0 3m-1 1l0 3m2 7l0 4m-46-102l0 2m-1 5l0 3m-2-20l0 2m0-10l0 2m4 18l0 1m48 169l0-3m-1-14l0-4m1 7l0-2m-1-19l-1-3m15-158l1 3m6 9l-1-3m-13 71l-2 1m12-42l1-3m-2 11l1-1m3-11l1-1m54 150l-1-2m4-5l-1-1m1-1l-1-2m-43-32l-4 0m17 2l-4-1m-5-2l-3-1m2-1l-3-1m403-181l1 1m1-13l1 1m10 26l1 2m-13 0l3 0m-12 4l4 0m-8-2l2 0m-23-2l0-1m23-33l2-3m-18 22l1-1m-66-75l-1 3m6-16l-1 3m53 23l3-2m3 1l2-1m-2 6l2-1m-1 45l0-1m3 21l0-3m1-32l2 0m28-43l-1-1m7 8l-3-1m-10-7l-1-2m-99 217l0-2m-1-4l-1-4m5 15l-1-2m-125 24l0-1m7-35l1-3m-6 19l1-4m19-28l2-1m-7-1l1 0m210-24l-3 0m0 6l-2 0m-20 0l-1 0m-18-79l-1 1m14 66l1 2m-9-5l2 3m-4-31l1 3m-11-17l1 2m13 32l1 2m1-105l2 2m-10-11l2 2m-19 46l0 4m-3-19l0 2m2-9l0 4m-2-6l0 2m18 189l3-2m-61-58l1-2m-5 15l1-3m23-30l-3 0m3 1l-3 1m49-3l-2 0m-38 1l-1 1m-245-186l2-1m332 184l3 0m-36 82l1 0m6 1l3 0m11 9l3 0m11 19l-1-1m-6-21l1-1m-502-249l2-2m-3 2l3-3m-5 5l1-1m28 26l-1-3m-6-28l0-1m5-4l1-1m181-14l-3-1m-2 1l-3-1m28 10l-2-1m8 2l3-2m-3 0l2-1m267 41l-1-4m-8-12l0-2m7 21l-1-4m-9 19l0-2m1-32l0 2m-3-1l-1 3m4 32l1-1m15 1l-2-1m-2-1l-1-1m-26-3l1-2m-99 8l0 1m47 40l-2 1m-29-19l1 1m-9-17l1 1m16 29l2 3m-210 30l1 2m4 2l1 1m-21-17l2 2m11 16l2 1m12 4l2 2m-51-24l-1 1m-5 15l-1 1m-4 14l-1 2m44 69l-1 2m4-10l-1 2m16-20l-2 3m21-25l-2 2m-66 39l-4 0m-2 3l-3 0m17 5l-2 0m-27-103l1 0m10 7l3-1m-68 3l4-1m22 3l1 0m7-5l3 0m-18-40l3 1m19 6l2 1m-23-4l3 1m-1-4l1 0m-6 3l3 1m1 66l3 1m-7-1l2 1m-2-5l3 1m-5-2l2 0m95 74l-2-2m0 10l-1-1m49-69l-2-1m31 27l-3-3m-6-5l0-1m-19-14l-2-2m-119 106l2-3m13-33l0-1m8-8l2-3m103-157l1 2m-19-38l1 2m7 4l0 1m-50 8l-3 2m-3 3l-2 1m18-11l-3 2m6-1l-3 2m-8 33l-4 0m12 1l-1 0m-1 1l-2 1m6 0l-3 1m50-7l-2 0m-75-20l1 1m-9-21l1 1m66-14l-1 2m-129 13l2-2m68 76l1-2m10-25l1-1m-121-70l-2 3m-4 15l-1 2m-1-2l-1 2m-8-28l-1 1m8 0l-1 1m-9 7l0-2m0 3l0-1m0-4l1 1m330 9l-3 2m-15 7l-2 1m-3 1l-4 2m15-10l-1 1m-28 22l-1 1m47-32l-3-1m-23-13l-3-2m-1 2l-2-1m-5 5l-1 2m2-3l-1 2m-8 20l-1 3m51-11l-3 0m-67 14l0-2m6 18l-1-2m-7-26l-1-3m2-16l0-2m64 72l-1 1m-5 19l-1 1m-3-1l-2 2m43 23l-1 1m3-9l-2 2m-18 10l2 1m-13-6l2 1m4 1l4 2m0 52l-1-2m7 1l-1-3m-6-11l1-2m-5-3l0-2m14-17l2-3m-112-110l-1 3m9-20l-1 3m-5 13l-1 3m-23-26l0 3m0 16l1 1m19 23l-2-2m0-1l-2-2m-22 15l0 1m10-30l-1 3m-4 1l0 1m0-9l0 2m6 68l3 2m-14 51l3-2m8-10l2-2m-22 29l1-1m76 11l1-3m-5 24l0-2m3-4l1-3m-13-26l4 2m-18-9l1 1m18 10l2 1m6 6l3 1m23-1l-2 0m24-3l-3 0m11-1l-3 1m2-1l-4 1m-81-80l1 3m-6-17l1 3m-6-8l1 3m-12 29l1-1m27-73l0 1m-5 48l0 1m2-28l0 1m3-24l-1 4m3-18l0 2m56 61l-2 1m10-3l-4 1m-51 0l-1 3m18 3l2 0m-16-3l4 0m-16 5l-2 1m6 26l2 1m9 12l1 0m-25-25l1 1m32 45l-1-3m-1 14l0-2m25-24l0-3m-14-1l-3-1m50 17l-3-1m-22-4l-1 0m-19 11l2-2m-8 17l2-4m-9 5l0-2m8-34l3-1m-10-22l2 2m-15-9l1 1m-4-5l2 2m36 15l0 2m-5-14l0 3" stroke="#dc90d8" stroke-width="4.0" stroke-linecap="round"/>
<path d="M137 331l1 1m-4-7l1 4m-32 0l-1 0m22-6l-2 1m-45 16l-2 0m16-8l-2 1m46-13l-1 0m-12 1l-3 2m14-4l-1 0m-60 21l-4 1m29-8l-2 1m-36 9l-4 1m6 0l-4 2m-33-3l-4-1m11 2l-2-1m-5-4l-2 0m5 2l-3 0m233-5l2-1m0 0l1 0m6 0l2-1m8-1l1-1m7-3l1 0m-12 3l3-1m-5 0l1-1m-23 12l3-1m46 1l2 2m-6-13l3 2m-86-10l3 4m3-1l2 2m-15-19l1 2m8 17l3 4m11 8l1 2m-26-33l1 1m6-32l-1 3m5-14l-1 5m-2-5l0 2m5-5l0 3m-9 30l-1 3m3-12l-1 3m1 2l-1 4m59-37l-5 0m1-3l-2 0m-3 1l-4 0m-29-3l-3 0m41 2l-3 0m-41 3l-1 0m61 5l2 2m2 2l2 2m2 8l2 4m4 6l1 2m-5-16l1 2m2 47l-1 3m6-31l0 2m-3 15l-1 4m-2 7l0 2m15-32l3-1m-1-1l3 0m9-1l2-1m-1 2l3 0m54 11l-2 0m-2-1l-3-1m-27-7l-3-1m18 4l-2-1m9 4l-4-1m8 3l-3-1m11 33l0 1m1-23l0 3m3 6l0 2m-6-6l0 5m1-12l0 4m-22 26l-2 0m-30 2l-5 0m9 2l-4 0m50-5l-2 0m-5 0l-3 0m-13 3l-4 0m-26-2l-3 0m24 2l-1 0m-23 1l-1 0m-318-33l-1-3m8 23l-1-4m317-80l1-1m2-3l2 0m-32 20l2-1m29-16l2-1m-4 3l2-1m-2 0l1 0m0-1l3-2m9 39l0-1m6-22l1-3m0-6l2 3m-5-10l1 2m43 44l1-1m-6 9l1-2m7-8l1-2m-32-28l3 2m-10-5l4 3m-7-1l3 1m25 11l3 2m-13-4l4 2m-18-10l2 2m91 6l-4-1m3 2l-4-1m-23-4l-4 0m25 2l-1 0m19 63l0 3m-1-19l1 3m-6-40l1 2m3 43l0 4m-1-11l0 3m-1 1l0 4m-6-47l0 2m4 6l0 1m-69 59l2 4m71-14l3-4m-2 6l1-1m-50-65l1-1m-6 8l3-3m2-4l2-1m4-4l2-2m-305-238l0 3m-1-16l1 3m-5-16l0 3m1 11l1 2m4 14l1 3m65-33l-3-2m0 14l-1 2m-3 15l-1 2m2-13l-1 4m-1 7l0 1m-37 6l-2 0m-13 7l-2 0m37-4l-3 0m-21-1l-4 1m-9 2l-2 0m20-2l-3 0m-8 3l-1 0m368-41l-4-3m6 3l-4-3m9 7l2-1m0-2l2-1m2-1l1-2m-405 103l3-3m-1 3l1-1m-15 16l2-1m7-12l1-1m-16 27l2-4m9-16l3-3m-57-46l3-3m-8 6l4-3m69 17l-1-5m0 2l0-1m0 0l-1-2m-1-5l-1-3m3 8l-1-4m-33-17l-3 0m-5 0l-2 0m26 3l-2 0m15 3l-2 0m-38-4l-5-1m-1 3l1-1m-2 1l4-2m-46 8l-5-2m16 5l-2-2m-11-4l-2-1m-3 1l-3-2m7 2l-3-1m16 221l4 0m8 0l3-1m18-1l2-1m-16 2l4-1m-25 3l4-1m18 0l5-1m-19 2l1 0m32-9l4-1m-10-52l4 1m-7-7l4 1m-23-7l4 1m-2 1l2 0m10 5l5 2m12 6l0 2m-2 10l1 4m0 28l0 5m1-11l0 4m-3-36l0 3m3 39l0 1m-4-24l1 3m-40-61l1 2m-3-13l1 5m-6-13l0 4m7 24l1 3m-17-63l0 3m5-3l0 3m0-3l1 2m0 1l1 3m11 59l0 2m42 75l0-2m-4 5l0-5m3 36l0-4m1-14l0-4m-1 15l0-3m0-26l0-4m-1 69l0-5m0-24l0-2m2-1l0-3m-1-17l0-5m17-145l1 2m5 7l-1-4m-2 9l0-2m-16 57l-2 2m11-31l1-1m5-9l0-2m-9 34l1-4m1 0l1-3m-3-1l1-4m8-23l1-2m0 1l1-2m53 141l-1-3m-5-5l-1-2m0-13l0-2m2 16l-2-4m12 25l-1-2m-4-23l-1-2m-46-18l-2-1m-23-3l-3 0m30 4l-2 0m-3-1l-4-1m33 8l-1 0m-19-7l-2 0m21 6l-4-1m-35-2l-3 0m426-192l1 3m5 5l2 5m-4-6l1 3m-11-15l1 2m2 3l2 4m13 22l2 3m-1 0l2 0m-28-3l2 0m-7 0l3 0m-9 0l4 0m-6 0l3 0m28 0l3 0m-39-6l1-3m10-11l2-3m-1-1l3-3m-74-70l-1 3m-1 1l-1 3m-2 0l-2 4m6-20l-1 2m40 38l1 0m49-31l0 3m-37 25l4-2m13-8l2-1m-6 0l2-1m-1 6l3-1m-20 8l4-2m19-11l2-1m-1-3l4-2m-13 57l1-2m2-12l0-3m15 9l-3-3m-9-3l2 0m37-38l-2-2m-2 2l-2-1m7 1l-3-1m4 5l-3-2m-9-9l-3-1m-89 241l-2-5m0 5l-1-2m-10-31l-1-2m4 11l-1-3m-3-5l-2-4m4 16l-1-3m-118-4l0-2m0-8l2-4m-8 37l1-3m8-30l1-4m-8 28l1-4m5-32l2-5m-1 13l1-5m13-3l4 0m8-3l1 0m-23 1l4-1m4-2l5-1m-13 3l1 0m200-20l-2 1m-3 0l-3 1m18-2l-4 1m-24-1l-3-2m-10-78l-3 2m-2 3l-1 0m64 2l-2-1m-56 39l1 2m-7-25l1 1m-8-11l1 2m14 37l1 3m-1-7l2 4m9 27l1 4m-17-44l0 2m9 17l1 2m-15-47l2 5m15 52l0 0m-11-127l3 2m-9-7l1 1m6 6l2 1m8 7l3 3m-30 48l0 5m0-41l0 3m1-2l0 3m-1 29l0 2m3-55l0 2m-5 52l0 3m1-4l0 3m3-8l0 3m0-25l-1 4m3 29l-3-1m13 155l4-2m1 1l1 0m-62-56l1-3m3-13l1-3m-5 26l2-4m-5 5l0-1m75-33l-4 0m-52 6l-1 1m35-2l-3 0m22-2l-3 1m-6-2l-4 1m11-2l-4 0m-20 0l-3 0m-22 5l-5 0m-225-188l3-2m3 2l3-1m-17 6l4-2m328 180l3 0m-39 78l2 0m-6 4l2 1m27 7l3 0m-21-6l1 0m1-3l3 1m-9 4l5 1m-13-7l1 1m39 14l-1-3m6 18l-1-2m4 8l-2-5m-2-24l1-1m4-3l1-1m-511-250l4-3m1 4l2-2m-6 1l1-1m2-10l1 2m1 2l1 3m-1 0l2 5m16 28l-1-5m-3-3l-1-2m4-1l0-2m-4-11l-1-4m-2 7l-1-3m-1-5l1 1m6-7l1-1m4-5l2-2m194 4l-4-2m-10-3l-2-1m8 5l-4-1m37-4l3-1m-1 3l3-2m247 63l-2 0m-7-31l0-2m1-3l0-2m4 36l0-1m-3-37l0-1m5 39l-1-2m2-8l-1-3m-10 13l-1-3m2 5l-1-3m-2-13l-1 5m4-26l-1 3m0 17l-1 3m1-27l-1 2m-2 46l4-3m13 1l-1-1m1 3l-1 0m-8-50l0 2m-15 35l1-1m-101 20l1 3m1-9l0 1m7-50l-1 1m39 87l-4 0m0 6l-3 1m5-5l-2 0m-24-13l2 1m-16-16l3 4m-1-4l0 1m19 22l1 2m-18-26l2 2m2 7l2 3m-230 33l-1 1m0-3l-1 1m39 18l3 3m10 8l2 2m-48-39l2 1m17 12l3 3m13 13l2 2m-1 0l2 2m9 6l2 2m-25-20l1 1m-6-7l2 2m-6-2l3 2m-38 8l-1 2m8-6l-2 3m0 6l-2 2m-3 4l-1 2m-5 8l-1 2m17-33l-1 2m51 64l-2 4m3-6l0 1m-7 16l-1 1m17-27l-2 4m-2-5l-2 4m-1 8l-2 4m-10 11l-2 4m1-1l-3 4m12-14l-2 3m-16 17l-3 0m-24 0l-5-1m24 3l-3-1m-19-2l-1 0m10-1l-5-1m-62-90l5 0m-8 2l2 0m41-6l4 0m-11 3l4-1m-62 6l4-1m37-2l4 0m-17-41l1 1m62 22l4 2m-56-19l4 1m9 2l3 2m21 10l2 0m-50-23l2 1m61 24l4 1m-61-21l2 1m40 15l3 1m-58 47l4 1m30 9l4 1m-3-1l4 2m-8-5l2 1m-22-6l1 1m-20-6l2 1m13 4l2 0m-15-3l4 1m112 98l-3-4m0-5l-2-3m3 7l-1-2m-9-12l-1-1m14 21l-2-2m50-74l-3-3m15 17l-1 0m-9-7l-3-3m23 19l-3-2m-23-16l-1-1m15 8l-1-1m11 9l-2-1m-138 40l1-3m-13 31l1-2m9-18l1-2m5-7l1-2m-15 22l0 0m1 5l1-2m7-17l2-4m8-18l3-4m102-151l1 2m-3 7l0 1m-10-34l1 4m-12-20l1 1m12 31l2 3m-1-7l0 1m-5-13l1 1m-49 5l-4 2m17-10l-4 3m8-3l-3 1m15-10l-1 1m1 1l-2 1m-16 7l-2 0m16-2l-3 2m-3 0l-3 1m-9 37l-5 1m1-1l-2 0m11 1l-4 0m5 2l-3 0m-7-1l-3 0m61-6l-1 0m-49 4l-1 0m-4 4l-1 0m-21-31l2 3m-4-7l3 4m-7-11l1 2m3 7l2 4m60-37l0 2m-2-10l0 1m-128 34l2-3m-13 8l2-2m-1 2l1 0m77 57l1-2m-2 4l1-4m9-15l1-1m-1-5l1-1m-117-74l-1 2m-6 13l-2 5m8-23l-1 3m3-10l-1 2m-3 8l-1 3m-10 31l-1 3m5-16l-1 2m-4-24l-2 2m7-8l-3 3m-6 19l-1-3m6 18l-1-5m-4-2l0-3m0-6l0-3m-7-12l1 1m322 17l-3 2m8-3l-2 2m-12 4l-3 1m-22 14l-4 3m11-6l-2 1m31-33l-4-2m-6-3l-3-1m31 10l-3-1m-15-6l-3-1m-10-3l-1 0m-28 43l-2 4m21-48l0 1m-15 33l-2 5m2-2l-2 5m16-33l-1 2m-5 9l-1 1m-1 2l-1 3m54-10l-3-1m-38-21l2 2m-35 14l-1-4m-1 7l0-1m9 31l-1-3m-11-38l0-2m9 41l-1-3m-4-28l0-1m0-7l0-2m58 83l-1 1m1 4l-2 3m-6 7l-4 3m24-27l-2 2m-3 2l-3 2m34 32l-1 2m5-5l-3 3m-38-5l3 2m12 6l4 2m1 2l3 2m-1-3l1 1m-6-1l3 1m-15-13l1 1m17 62l-1-2m1 2l0-1m-5-13l-1-1m-2 3l-2-3m7-11l0-2m-2 8l1-4m0 4l0-3m6-18l2-3m-4-2l0-1m-97-112l-1 1m2 7l-1 2m-4-1l-1 4m4-5l0 1m-3 5l-1 4m-23-26l1 2m-3-5l0 4m5 9l-1-2m14 26l-1-2m-9-13l-1-1m-12 32l0 2m0-8l0 2m5-20l-1 3m1 4l0 1m-9 14l0 3m5 2l-1 3m1-12l-1 5m12 31l4 2m-6-1l3 2m-8-8l4 3m-2 45l2-2m-27 37l1-1m14-23l1-1m-18 24l2-2m5-2l2-2m8-15l1-1m64 57l0-3m1-5l0-4m-3 11l1-5m7-21l1-3m-2 6l1-3m1-9l4 2m-57-36l2 1m31 25l1 1m-14-15l3 2m26 17l3 2m-7-1l1 0m-13-9l4 2m-7-4l2 2m29 9l-2 0m2 0l-3 1m2-2l-3 0m9 3l-5 0m1-1l-2 0m1 0l-1 0m36-4l-4 1m-80-90l1 4m-1-18l0 2m3 3l1 3m0 1l1 4m-1 11l1 1m-9 7l3-1m-2 0l2-2m4-2l-2 2m8-12l0 3m6-64l0 4m-4 49l0 1m2-53l0 1m1 30l0 4m-4 7l0 4m-3 25l4-2m61-13l-2 1m-2-3l-1 0m-7 5l-2 1m7-5l-4 2m-31-15l-1 4m-1 8l-1 3m14 0l2 0m11 2l4 0m-12 3l2 0m-17-1l4 0m-9 1l-2 1m19 83l1-3m-37-65l3 2m7 7l2 1m-14-10l4 3m26 19l1 1m4 1l1 1m-3-2l3 2m4 13l0-2m-5 26l0-2m2-32l0-3m1 28l0-2m0-6l0-4m21-25l0-4m-1 19l-4 2m-7-8l-3-1m15-9l-3-1m5 18l-2-1m9 3l-4-2m4 3l-1 0m14 5l-3-2m15 10l-4-1m-32-14l1-2m-18 31l1-3m5-8l1-3m3-5l2-2m-4 6l2-5m-10-15l2-1m0-17l2 1m-22-16l1 1m-2 0l3 2m11 10l4 3m-18-14l2 1m14 9l1 0m18-4l1 3m0-9l0 5m-4-19l0 2m4 14l0 1" stroke="#5638ad" stroke-width="4.4" stroke-linecap="round"/>
<path d="M471 177l6 3 5 0 5-2 5 0 4-1 5-1 5 0 4 2 4 1 5 1 1-7 1-6-1-6-1-6-2-6 0-6 0-6 1-6-1-6 1-6 1-6 1-7-7-2-6 0-5 2-6 0-5-1-5-1-6-2-5 0-5-1-6 2-3 1-3 1-3 1-4 1-1 3-1 4 0 3-1 4 3 5 2 5 3 5 2 5 3 5 2 5 3 5 0 5 1 6 1 5zm38-153l-4 1-4 4-1 5 1 6 2 5 1 6 0 6 1 5 3 4 4 2 8 2 0-8 1-5 0-5 0-5-1-6 0-5-2-5-1-4-4 0zm-9 155l-6 0-6 2-5 1-6 1-5-2-6-1-5 1-6 1-5 1-6 0-6-2-6 0-5 0-6 3-5 2-5 1-6 1-4 4-3 5-4 4-2 4-1 6 3 5 2 3 3 5 2 5 3 4 2 5 2 5 1 6 0 6 3 5 6 2 6 0 5 1 6 0 6 2 3 0 4 0 4-3 3-3 4-1 5 1 5 2 5 2 5 2 5 2 6 0 5 0 5 1 5-1 4-3 3-4 5-3 1-5 3-6 1-6-1-6-2-6-3-6-1-6 0-6 3-5 2-6 1-6 0-6-2-7-6 1-5 1-4-1zm-5-176l0 2 1 4 2 3 5 3 5 2 6 2 3 2-1-3 1-5 2-5 0-6 0-5-1-5-5 0-6-1-5 0-4 3-1 5zm-171 49l-2 5-1 5 0 3 3 2 3 0 6-3 5 0 6 1 6 1 5-1 4-3 5-2 5-2 5-2 7-1 2 6 2 5 1 6 3 5 4 5 5 3 4 4 5 4 3 5 2 5 2 3 3 1 5-2 4 0 5-1 3 0 3-5 1-6 0-5 0-6-1-6 1-5-1-6 1-5 0-6 4-5 1-6-1-3 2-2 5-2 5-4 5-2 5-3 6-1 5-3 4-5 4-4 5-4 3-1 1-7-5-4-5-2-4-1-5 0-6-3-6-2-6-1-5 0-6 0-6 2-6 1-6 1-6-2-5 0-6 1-2 6-2 5-4 5-4 4-1 2-3 3-4 1-4 0-3 0-5 3-4 3-5 4-6 2-5 2-6 1-5 3-5 2-5 3-5 3-6 4zm68 84l-1 5 0 5-1 5 0 5 0 6 3 5 3 4 4 4 3 2 2 3 3 1 4 1 5-1 6 0 6 1 5 0 6-1 5-2 6-1 5-1 5-4 3-5-1-6-1-6-2-5-1-5-2-5-3-5-3-5 0-5 1-6-2-6-5-5-7-2-6-1-5-1-5-1-5 2-4 4-4 2-4 4-3 4-2 5-2 4-3 4zm-44-141l4 3 6 3 4 4 6 2 5 3 5 2 6 2 6 1 6-2 4-4 2-6 2-5 0-5-4 1-6 1-5-1-6 0-5-1-6 0-5 0-6 1-5 0-6 1-5 0-3-1 3-2zm-114 166l6-1 4-3 4-5 4-4 4-5 3-4 4-5 3-5 5-4 3-1 2 1 5 3 6 1 6 2 5 2 5 4 4 4 5 4 4 3 5 2 5-1 4-4 1-5 0-5 0-5 0-5-1-4-2-4-2-3-4-4-3-5-3-5-5-2-6-2-6-1-4-3-2-2-2-2-3 0-3 0-4 2-3-1-3 0-4-3-5-2-5-2-4-2-3-2-3-2-6 1-6 1-6 0-5 0-6 0-6 0-6 1-5 1-6 1-6 2-4 2-3 5-3 3-3 3-4 4 0 5-1 5 3 4 3 3 5 3 4 4 4 4 3 6 3 4 4 5 6 2 5 3 5 3 4 4 4 4zm-3-160l5 1 6-2 6-2 5-4 5-2-5 1-6-2-5 0-6-2-5 2-5 0-6 2-5 0-6 0-5-1 5 4 5 2 6 1 6 1zm103 162l-2 5 0 5-1 6-2 5-4 5-4 4-3 1-4 1-4 3-5 2-5 2-5 2-4 1-3 3-2 3-1 5-3 4-3 5-4 5-1 5-2 5-1 5-1 6 2 5 5 1 3 2 0 4 5 5 5-2 5-4 4-3 5-3 4-4 5-4 4-3 5-3 6-1 5-2 2-1 5 3 5 3 3 5 4 3 4 4 4 4 4 4 4 3 6 2 6 2 4 2 4 3 6-1 5-2 3-5 4-4 3-4 0-6-3-5-3-5-3-5-1-6-1-6-2-5-3-5 0-3 0-5 2-5 2-5 2-5 1-5-1-4-1-3-3-4-2-5-3-5-3-5-3-2-4-1-5 1-6 0-6 0-6 0-6 0-6 0-6 0zm-169-53l3-3 3-1 2-3 3-2 1-6 1-6 2-6 4-4 4-2 4 2 4 2 6 0 5 0 6 0 5-1 5-1 6-2 5-1 3-2 2-1 3-2 2-2 1-3 0-3-2-3-1-2-2-5-1-6 0-6-2-4-3-3-4-1-4-1-4 1-3 2-4 3-4 4-4 4-3 4-5 3-5 1-5 2-3 2-2 2-1 2-3-3-3-2-4-4-3-4-2-4-2-5-2-3-2-4-4-2-4-2-6 0-6 2-5 2-5 2-6 0-5 0-6-1-6 2-4 4-2 3-2 4-2 5 0 6 2 5-1 5 0 5 0 5 2 3 1 4 3 3 3 2 5 2 6 2 6 2 5 2 5 2 6 1 6 2 5 2 5 3 4 1zm225 173l-3 4-3 5-2 4-2 5-2 3-1 6 0 5 2 6 1 5-2 6-1 6 1 5 4 1 2 2 5-1 6-1 6 0 6-1 5 1 6-1 6 2 6 0 5 0 1-4 3-3 5-3 3-3 2-2 1-3 0-5-1-6-1-5 0-6-1-6-1-5-1-6-1-5 0-6 0-5-1-5-5-3-5-2-5 0-5 0-6 1-4-1-5 3-5 2-4 3-3 4-3 5zm127 26l-1-5-1-5-3-5-3-4-2-5-1-6 0-3-2-2-4-2-2-1-6-2-5-3-6-2-5-1-6-1-6-1-4 1-3 0-2 2-3 1-1 3-2 3 0 2-1 3 0 6 2 6 1 5 1 6 1 6 1 5 0 6-1 6-1 6-2 2 0 3-3 4-3 3-4 3-3 5 7 1 6-2 5 0 6 0 6 1 5 0 6-1 6-1 6 0 5 0 6 0 6 0 5 1 7 1 1-6 1-6 0-5-2-5-1-6-1-5zm-355-278l4-3 3-4 0-6 1-5 2-5 3-4 0-5-6-3-3-1-5 1-5-2-6-2-6 0-5 0-6 1-5 0-6 0-6 0-5-1-6 0-7-1 2 7 1 5 3 5 1 5 1 6 1 5 2 5 4 4 5-1 6 0 5 0 6 0 6-1 5 0 6 0 6 1zm128 295l-5 0-4 2-6 3-5 2-6 2-6 2-5 2-6 2-5 3-6 2-2 2-2-3 4-1 6 1 6 1 6 1 5-1 6 0 6-1 6 1 5-1 6 1 6 1 6 1 6 2 5 0 6 0 6-1 6-1 6-1 5-2 6 0 6 0 6 1 5 2 6 0 6 0 6-1-2-2-3-2-3-1-3-1-6 0-6 1-6 1-5 1-6-1-6 0-6-1-5 1-6 0-6 0-6 1-3-2-3-2-2-4-1-3-3-4zm-73-72l5-1 6 1 6 1 6 1 5 1 6 1 6 1 6-1 5-2 2-5 2-5 2-5 1-6 1-5 1-6 1-5 2-6 0-5-1-3-1-1-4-4-3-5-4-4-5-3-4-4-4-4-4-5-4-4-3-5-3-2-5-1-4 3-3 5-3 5-4 5-3 5-3 5-3 5-4 4-4 4-4 5-3 5-1 6 0 5 3 2 4 4 3 4 2 5 2 6 3 4zm59-123l-3 0-3 3-3 4-4 3-5 3-4 3-4 4-3 4-4 4 0 7 3 5 5 3 5 3 5 3 3 5 4 4 4 4 4 4 5 3 4 1 4-1 6 0 5 2 6 0 5 0 5-3 6-3 3-5 1-6 1-6 0-5 1-6 1-3 0-3-2-2-3-1-5-3-4-4-4-4-6-3-5-2-5-2-5-4-5-3-5-3zm-101-11l-4 0-3 0-3 3-2 3-3 5-1 5-2 6-1 5-2 5-3 5-4 5-2 5-3 2-2 0-6-3-5-2-5-2-5-2-6-1-5-1-6-1-5-2-5-2-6-1-6 4-3 5-1 5-2 5-2 5-2 5-2 5-1 6-1 5-2 5-4 4-4 5 0 6 1 5 1 5 0 6 0 5 0 5 0 5 0 5 2 5 4 3 5 2 5 1 6 0 6 0 5-1 6 0 6 1 5 1 6 2 2 0 3 0 2-1 3-2 2-5 1-6 2-5 4-4 5-3 4-4 3-5 1-5 2-6 2-7 8 0 5 1 6 3 6 1 5 1 6-1 3 0 3 1 3 0 3-2 2-6 3-5 4-5 4-4 3-5 3-6 2-5 3-6 3-4 3-5 1-6-3-5-5-3-6-2-3-4-4-4-4-5-4-3-5-3-5-3-5-2-5-4-3-1zm197 217l2-2 0-3 1-4 0-5 1-5-1-5 0-5 0-4-3-4-5-3-5-2-5-1-6 0-5-1-5 0-6-1-5-2-5 0-5 1-5 1-5 1-5 1-5 0-4 3-2 4 1 5 0 5 0 5-2 5 0 5 3 2 4 3 1 5 2 5 6 0 6 0 5-1 6-1 5 0 6 0 5 0 6 1 5-1 6 1 5-1 6 0zm138-72l-5 6 1 7 3 5 4 4 0 5 2 5 3 5-2-6-1-6 0-6 1-6 0-5 1-6 0-5-2 2zm-373 54l1 6 1 5 2 6 2 5 0 5 5 1 6 0 6 0 6 1 6 1 6 1 5-1 6-1 6-2 6-1 6 1 5 1 6 2 9 0-1-9-5-4-4-3-4-4-3-4-3-4-3-5-2-5 0-5 2-5 2-6 2-5 1-6 2-5 2-6 1-5 0-6-1-5-2-4-3-5-2-5-3-5-4-4-4-4-3-2-4-2-5-1-6-2-5-2-6-2-6-1-3 1-4 1-3 3-3 2-3 4-3 5-2 5 0 6-1 6-2 5-4 4-4 4-3 5-2 4 1 4 1 6 1 5 2 5 2 5 2 5 2 6 1 5zm153-26l-2-4-1-5-1-5-2-5-3-2-1-3-5-3-3-5-5-1-3-2-6 1-5-1-5-1-6-1-5 0-5 1-6 0-5 2-4 3-1 6-1 5-2 5-4 4-2 5-2 5 0 5-2 6-1 6 2 6 4 4 4 4 4 4 3 4 2 6 3 2 4 2 4-2 4 0 5-2 6 0 6-2 5-1 6-2 6-1 5-2 6-1 3-2 4-1 1-4 1-3 1-5 1-4 1-5 0-5-1-3zm-225-26l-4 3-3 3-2 4-1 3 1 6 2 6 2 6 1 5-1 6-2 6-3 5 0 6 3 3 4 2 2 2 2 2 2 2 3 0 3 0 3 0 5-1 5-3 5-2 4-3 5-2 6-1 5-1 5-2 5-2 2-2 2-3 1-2 1-2 3-3 2-4-1-6-3-5-3-6-3-5-2-3-2-3-3-1-3-2-6-2-6-2-5-1-6 2-6 1-6 0-6-2-3-1zm-73 4l4 1 3 1 3 0 3 0 6-1 6-1 5 0 6-1 6-1 5-1 6 0 3-1 4 0 3-3 2-3 1-4 1-4-2-5-3-6-1-5 1-6 1-5 0-6-2-4-2-3-3-2-4-2-4-2-6-2-5 0-5-1-6-1-3-4-1-4 0-5-1-6-1-6-2-5-2-5-2-6 0-5 0-6-1-6-1-5-3-6-5-3-4-1 0 6 1 6 0 6 0 6 0 5 1 6 1 6 0 6-1 6-2 6-1 6-1 6-1 6 1 6 1 6 3 6 0 6 0 6 0 6-1 6 0 5-2 6-1 7zm63-231l3 7 6 3 6 1 5 0 5-1 5-1 5 0 5 0 3-3 2-5 3-3 1-4 0-3-1-5 0-6 0-6 0-6-2-5-3-5-2-5-4 0-5-2-5-1-5 0-5 1-2 6-1 6-4 4-3 5-3 5 0 6-1 6-1 5zm10 306l3-2 6 2 6 2 6 3 6 1 6-1 6-2 6 0 6 0 6 1 6 0 6 0 7-2-1-6-1-4-2-5-3-2-2-2-3-1-1-2-3-1-3 0-6 2-6 1-6 1-5 1-6 2-5 4-5 2-5 3-6 2-4 4zm-70-67l-3 2-1 4 0 4 2 3 0 6 1 6 2 5 2 5 3 5 2 6 2 5 2 3 1 2 3 1 3 1 6-1 6 0 6 2 5 2 5 3 5 0 5-2 2-4 0-5-1-5 0-6 0-5 1-6 1-6-1-5 1-6 0-5 1-6-2-3-2-3-3-1-2-1-3-2-3-1-6 0-5 0-6-1-6 1-5 3-5 3-5 2-4-1zm16 61l-4 1-5 1-4 3-5 2 5-1 6 1 6 0 5 2 6-1 6-1 5-1 6 0 6 1-5-2-6-2-5-1-5-2-6 0zm-9 1l3-5 2-5-2-5-2-4-4-5-4-4-2-5-2-5 2-4-1 5-1 6 0 6 0 6 1 6-1 6 0 6 0 6 6-3zm1-213l2 1 4 5 2 6 0 6-2 6 1 6 2 5 2 6 1 5 0 6 0 6 2 6 2 4 4 3 6 1 5 1 5 2 5 2 5 4 6 1 5-4 2-3 0-4 1-5 1-6 4-4 3-5 3-5 0-6 1-6 0-6 1-5 0-5-2-5-2-5-2-5 1-3 1-4 3-4 4-4 5-4 3-4 4-4 2-6 2-4 3-5 2-4-1-5 1-5 0-5 0-5-2-6-3-2-2-3-3-1-3 0-5-1-6-1-5-2-6 0-5 0-6 0-4 0-5 2-4 3-5 2-3 2-4 2-4 2-3 0-3 0-5 0-5-2-5-1-4-3-5-2-2-3-1 4-1 6-1 6 1 6 1 6 0 6 2 6 0 6 0 6-2 6-1 6 0 6 0 6 6 1zm156 4l-3-3-3-2-3 0-6-1-6 0-6 1-6 1-6 2-6 1-6 1-6-1-5 1-6 2-6 3-2 1-2 2-3 4 2 4 3 3 6 1 5 2 6 1 6 1 6 1 5 3 5 2 6 1 5 2 6 1 3-2 2-3 2-5 1-6 4-5 4-4 4-4zm-77-16l4 4 2 3 3 2 1 4 4 2 4 1 5-2 5 1 6 1 5-1 4-4 5-2 3-2 3 0 3-2 2-3 1-3 2-4-2-4-2-3-4-1-3-1-6-2-5-3-5-1-5-3-3-1-3-2-3 0-3 1-2 3-3 2-4 3-3 4-4 4-2 4zm274-25l3 2 3 1 3-2 5-3 4-5 5-3 4-5 2-5-1-5-5-3-3-1-3 0-6 0-5 1-5 1-6 1-3 5 1 5 3 4 1 5 2 4zm-9 12l-2 3-2 3-1 4 4 2 3 1 3 1 3-2 2-5 1-6-5-4zm-8 44l3 6 5 4 6 1 5-1 5-1 5-1 5 0 5 1 4 0 3-1 2-3 2-4 0-4 1-4-2-6-5-4-5-2-5-2-5-2-5-3-6-1-6 2-4 5-1 6-2 4-3 4zm-4-32l0 3 2 5 0 5 0 4-2 5 3 3 2-2 1-5 1-4 2-5 3-3-1-1-2-3-3-3zm-7-46l-4 5-1 5 2 5 3 4 3 2 2 3 6 3 7-1 4-6 0-7-3-4-1-3-2-4-5-3-6 0zm84 42l0-5-2-3-4-5-3-5-3-5-3-5-4-4-5-3-5 1-4 3-3 4-3 3-4 4-3 4 0 4 0 4 3 3 4 3 5 2 5 2 6 1 4 3 5 3 3 1 4-1 4-4zm-63 146l-4 0-3 2-1 4-1 5-1 4-1 5-1 4 0 4 1 3 3 2 4 3 5 2 5 2 6-1 5 0 5 1 3 1 3 0 3-4 1-4 2-4 0-3 0-3-2-3-5-3-5-3-4-3-5-3-5-3-5-3zm-10 1l-2-2-1-4-2-3-2-3-4 1-4 1-2 4-2 1-5 2-6 0-6 2-5 2-4 4-2 2-3 3-1 3 0 3 2 5 0 6 4 5 6 3 6-2 5-2 6 0 6 2 4-2 2-3 1-4 2-2 3-5 3-5 2-5-1-4zm172-191l-3 2-3 1-3 2-3 2-2 3-2 3 0 5 2 3 4 3 3 3 2 4 3 5 5 1 5 2 1-7 0-6 1-5 0-6 1-6-1-7-6-3zm-44 24l1 5 4 4 5 2 5 0 4 0 4 0 5 0 5-3 1-6-2-5-3-5-3-5-2-3-5-1-4 1-3 3-3 3-3 2-4 3zm12-35l1 5 5 4 4-2 2-4-2-2 0-4-1-3-4 1-3 2zm-41 45l4 3 4 2 6-2 5-1 3-3 3-2 2-4 2-4-1-6-1-6-2-5 1-6 1-5 0-3-3-4-4-5-3-5-4-2-5 0-5 3-2 5 0 6-1 5 0 6 1 6 0 5-1 6-1 5-1 6zm34-41l-1 2 1 4 0 4 0 4-1 1 1 2 3 0 3-3 3-3 1-5-2-1-3-3zm-2-6l4 0 3-1 4-2 3-2 4-3 2-3 2-4-2-4-2-4-4-2-2-3-3-2-3-2-4 2-3 2-4 3-5 3-2 6 2 6 3 2 2 3 2 2zm28 3l2 1 2-2-1-5-1-5-2-4-1-5-1-2-1 0-2 2 0 3 0 3 2 5 2 5zm-484-46l-4 3-3 4-6 3-5 3-5 4 1 6 1 6 0 6 4 3 5 4 5 2 6 2 5 2 4 0 2-2 3-1 2-3 1-4-1-5 0-6-2-5-2-5-1-5-1-6-1-3-3-3zm-18 7l3-3 4-3 3-2 3-3 0-3 1-4-2-4-2-4-5-1-4 0-6 0-1 6 0 5 1 5 2 5 1 5-1 3zm11-27l3 6 3 5 3 5 2 1 6 2 3-3 3-3 2-4 2-4 0-6-7-2-6-1-6 1zm30 5l5 3 4 1 5 0 2-2 2-1 0-3 3 0-3 0-5-2-5 0-5-1-6 1zm199 29l1-7 0-6-3-7-5-4-6-2-5-3-6-1-5-2-6-1-6-1-6 3-5 2-5 2-5 4-1 6-1 5-2 5-2 5-3 5-1 4 3 5 4 3 2 5 2 5 3 3 4 2 4-3 4-4 4-4 4-3 5-3 5-2 7-1 5-1 6-2 5-2zm10 19l1 3 3 1 3 1 3-1 4-1 2-2 2-3 1-3 1-5-1-6 0-5 2-5 1-5 0-5-2-5-4-4-6-2-5 1-5 3-4 3-1 4-1 1-3 2-2 2-1 4 1 4 1 5 3 4 1 5 3 4 1 3zm46 35l0-4 0-3-1-5-2-6 1-5 1-6 0-6-3-4-4-3-5-2-5 0-6 1-3 5-1 5-1 6-2 5-3 5-1 6 1 4 2 3 3 1 2 2 5 2 4 2 4 2 4 0 6 0 2-2zm-22-86l-3 5 0 5 0 5 1 5 3 4 4 3 3 2 4 2 3 0 4 0 4-4 1-5 0-5-1-5 1-4 1-4-1-4-5-1-6-1-6 0-6 0zm38-1l1 6 2 6 1 5 3 5 2 5 2 6 0 5 1 3 3 2 3-2 1 0 3-5 3-4 3-5 4-5 2-4 1-6-1-5-4-2-3-4-5 0-5 1-5 0-5-1zm59 29l1-5-3-3-3-3-3-3-3-4-5-2-6 3-3 4-2 6-3 5 0 5 2 5 4 2 4 0 4-1 4-3 4-1 5-2z" fill="#efefef" stroke="#d8cce8" stroke-width="1.2"/>
<path d="M202 309l-15 2m265 20l10 1m-404-68l-1 1m278-27l2-8m-15-34l6 7m129 56l6-26m43-53l14 30m-378-42l3 16m-82 20l20 3m191-82l1-13" stroke="#b497dc" stroke-width="3.6" stroke-linecap="round" fill="none"/>
<path d="M202 309l-15 2m265 20l10 1m-404-68l-1 1m278-27l2-8m-15-34l6 7m129 56l6-26m43-53l14 30m-378-42l3 16m-82 20l20 3m191-82l1-13" stroke="#5638ad" stroke-width="3.2" stroke-linecap="round" stroke-dasharray="4 6" fill="none"/>
</g>
<g transform="translate(24.2,187.7)">
</g></g>
<clipPath id="c4"><rect x="287.1" y="187.7" width="254.8" height="169.6"/></clipPath>
<pattern id="t4" width="20" height="20" patternUnits="userSpaceOnUse" x="287.1" y="187.7"><rect width="20" height="20" fill="#b497dc"/><g transform="scale(0.5)"><path d="M15 31l-1 0m-9 3l2 1m13 3l0 2m14-15l-2 0m-28-4l0 0m9-2l-1-1m6 5l2-1m18-7l-2-1m-10 4l0 1m10-6l1 1" stroke="#dc90d8" stroke-width="3.6" stroke-linecap="round"/><path d="M11 14l-2 1m24 2l2 3m-23 13l1 3m14-35l1 3m-1 37l1 3m-18-19l3 0m9-27l-2 3m2 37l-2 3m5-9l-2 3m-6-13l0 3m2-10l0 2m-22-6l-2 2m42-2l-2 2m-15-8l3 1m-3 39l3 1m-16-45l-3 2m3 38l-3 2m17-49l2 1m-2 39l2 1m-5-7l-1 0m9 4l-3 2m-5-5l-2 2m-17-2l0 3m40-3l0 3m-37-12l2 2m38-2l2 2m-30-2l0 1m1-19l2 0m-2 40l2 0m2-42l2 0m-2 40l2 0m-10-43l3 2m-3 38l3 2m-18-39l-2 2m2 38l-2 2m42-42l-2 2m2 38l-2 2m-36-26l2 2m38-2l2 2m-12-18l1 1m-1 39l1 1m2-46l1 2m-1 38l1 2" stroke="#5638ad" stroke-width="4" stroke-linecap="round"/></g></pattern>
<g clip-path="url(#c4)"><rect x="287.1" y="187.7" width="254.8" height="169.6" fill="url(#t4)"/>
<g transform="translate(287.1,187.7) scale(0.5)">
<path d="M253 161l-2-3m-19-13l-2-1m16 15l-2-2m3 2l-1-2m16 36l-1 1m4-2l-3 2m-21 12l-1 1m-29-9l-2-3m8 9l-1-1m-2-1l-2-2m17-56l-2 2m-18 15l-1 1m-9 16l0-3m95-10l1-1m6-12l2-3m-20 46l3 3m13 0l4 1m9 5l3 0m15 2l1 0m-19-56l3 1m19 4l4 2m6 51l0 3m-3-41l0 2m-1 0l0 2m-17 87l2 0m-11-3l3 0m-23-1l3 1m-12-24l0-2m0-7l0-2m2 17l0-2m48 5l1-1m6-21l0-4m-7 23l0-1m18-134l0 3m3 12l1 3m0-20l0 3m57 8l-2 2m-32 23l-2 1m21-15l-2 3m27-23l1-2m-45 37l3 0m-10-95l-1 0m18-2l-2 0m19 1l-3 0m15 21l-1 2m-1 19l0 3m5-9l0 4m1-38l-2-2m-297 167l-4-1m-16-2l-3 0m19 52l1-2m17-32l1-2m-1-5l1-2m-9 17l2-3m-31 44l-1-2m-22-28l-2-2m22-29l2-3m-17 19l1-2m256-69l2-1m-3-67l-1 0m-29 21l3-1m5-9l3-2m-22 18l2 0m55-89l-2-3m11 19l-1-2m-39-20l-3 2m5 4l-1 1m-19 14l-3 2m-1-7l-2 2m32 43l-2-1m-18-28l-1-1m28 36l-1-1m-21-23l-2-1m19 229l1-1m14 18l2 2m-10-9l3 2m-5-6l1 1m39 30l-2 0m13-4l1-1m1 3l1-1m16-15l1-2m-127-21l1 2m-9-19l0 1m29 35l-2-1m-12-9l-1-1m25 11l3-2m2-8l2-1m-50-37l-2 1m63 1l1 1m-29 59l-1 2m62 14l1 0m-63-4l1-3m84 5l0-3m-9-191l3 2m37-32l1 3m-8 23l-1 1m-19 10l4 0m0-5l2 0m48 7l2 2m-20-23l2 3m5 2l2 3m15 21l-1 0m-14-2l-1 0m-6 0l-2-1m-20-8l0 1m-30 58l2 0m-26 4l1 0m15-46l2 3m-6-16l2 2m-2-4l1 2m16 36l1 4m1 8l0 4m12 6l3 1m109-50l3 0m-34 0l3 0m-3-3l3 0m1-21l1-3m-1-9l0-3m1 1l1-3m-3-10l0-4m25-15l-4 0m-10 3l-1 1m-53 0l3 0m-8 4l4 1m26-2l3 0m-29 0l2 0m21 69l1 0m52-97l-1 2m-67-35l4-1m-20 11l3-1m-4 152l2-2m-7 16l1-2m9-19l-1 2m10-7l-2 2m1 0l-2 3m10 53l2 3m2 3l2 1m-4-12l3 2m18-67l2 2m11 13l2 3m-12-25l2 4m9 49l-2 3m-18 16l-1 1m26-27l-1 1m-15 13l-1 1m-38 64l-3 2m11-17l-2 1m-26-68l3-1m41 46l1-3m-4 3l1-2m49 32l1 0m-19 4l-2 1m-26-15l3 2m12 5l2 2m2 8l2 2m25-31l3 1m-36-7l1 0m11-1l4 1m14 4l2 1m-62 77l2 2m3 3l2 2m-2-4l3 2m-49-339l-1-2m14 37l-2-3m-14-36l0-1m-52 11l1-3m-225 275l-3-1m-1-7l-2-1m-18 5l-1 2m-1 7l-1 1m-2 34l0-2m9 15l-1-2m-1-1l-1-3m-15-25l-1-2m-47-32l1-4m5-14l2-3m-18 39l1-1m2-4l1-2m-4 14l2 1m3-5l1 1m36-50l4 0m2-1l3 0m-2 60l1 0m3 1l2 0m96-301l2 0m14 1l-3 2m-14 38l-2 0m6 8l-3 0m-13-23l-1 3m-6 5l-1 2m8-12l-1 2m25 16l1-4m1-4l0-2m5-25l2 4m-148 328l0 2m1-16l0 3m1-4l-1 2m-54-13l-1 1m2 0l-3 2m11-15l-1 1m99-182l1 3m1 19l1 3m-1-12l0 2m0-3l0 1m-3-53l2 0m8 0l2 0m0-3l3-1m17 72l-2 1m-11-2l-3 0m13-1l-3 0m27 70l-3-1m9-8l-1 1m21-19l-2 1m-21 21l-2 1m18-59l-2-1m12 4l-2-1m-21-13l-3-2m-20 42l0-4m3 10l0-2m-7-28l-1-4m7 45l0-3m-54-27l0 3m-3-14l1 4m5-3l0 2m13-19l2-1m-14 10l3-1m1 48l-2-4m-42 26l1-2m-17 18l-3-2m-5-4l-2-1m-4-7l-2 2m12-10l-2 1m248-110l-3-2m17 13l-3-2m-13-10l0 0m-43 24l0-2m21-17l-2 2m-1 1l-3 2m-28 3l-2-1m-10-7l-1-1m11 10l-1-1m11 116l0 1m0-19l0 2m31 40l-3 0m-3 3l-2 0m-18-23l1 2m11 16l2 2m-84 21l1 0m9 0l1-1m120 49l-2-1m-20-10l-3-1m12-19l-3 2m-10 36l-2-2m242-340l0-1m-104 164l-2-2m-3 2l-2-2m-2 12l-3 0m-2-3l0 4m1-1l0 1m15-11l-1 1m5 12l-1-3m1 7l-2-2m12 11l-1-1m79 28l2 0m-3 89l-1 2m-8-7l1 3m-34-9l-2-3m1 3l-1-1m18 14l3 0m-9-1l2 1m17 4l1-1m30 31l0-3m-3 10l1-1m-3-25l3 2m-8-6l3 3m-365-243l-1 1m12-21l-1 3m-53 13l-1-3m-10-9l-1-3m8 14l-1-2m8 14l1 1m31-47l-3-2m8-2l-1-1m-2 4l-3-2m-35 3l2-2m-12 5l1-1m-5 7l2-3m-50 167l-1-2m-18-1l1-2m-5 23l1-2m9-24l3 1m22-165l-3-1m18 6l-1 0m-24 3l-1 1m-4 40l-1-1m-4-30l0 3m1 9l0 1m48 171l-2-2m7-33l-2 0m10-4l-1 1m-18 21l0-2m-26 28l1 1m18-26l-2-1m157-217l-1 4m4-5l0 1m-17 21l2 1m0 2l4-1m48 54l0-3m0 16l0-1m-1-19l0-2m37-24l-2 0m-3 1l-2 0m-19 5l1-2m-12 14l0-1m79-62l-3-2m-61 37l-1-3m-27-19l1 1m-19 12l3-2m-7 0l1 0m29-6l-2-2m16 16l-2-2m-66 34l2 2m-3-21l2-1m16 23l3 0m-1 0l2 0m-8-31l2 0m20 22l-1-3m-1-4l0-1m-34 33l1-2m-6 8l1-3m8-59l1 1m37 35l-2 0m-70 281l3-1m18-9l2-1m1-41l1 2m-8-12l3 3m-4-1l0 1m19 31l0 1m-3-13l0 1m7 28l-1-1m281-20l1 1m-16 9l-2 2m4 13l-2 1m3 1l-2 2m21-17l-1 0m-28-7l1 2m0-16l1 4m-359-310l0-2m-113 34l-2-1m1-2l-3-1m26 129l-2 1m13-3l-2 1m-31-8l-3-2m58-35l0 3m-3 23l0 1m3 9l0 1m-35 39l-1-1m5 15l-1-1m-17-22l-1 1m4 0l-1 1m-10 55l-2 0m11-1l-1 0m17 60l-1-1m3 3l-1-1m30-93l3 1m-3-49l1-2m0 0l0-2m1 17l0-3m9 37l-4 2m5-6l0-4m-1-3l0-2m5-10l0-2m-9-20l-2 0m-9 50l1-2m-15-3l3-1m-19-36l1-3m60-4l-2 0m174 115l-2 3m3 10l-1-3m8 18l-2-3m-1-7l-1-3m-36 6l1-1m-13 13l2-1m31-22l-1 2m18 45l2-1m-28 9l-4 0m9-2l2-2m-4 2l1-1m27-10l-1-1m-2 24l0-1m-31-4l2-1m0-48l1 1m13 4l0 1m13 7l-1 3" stroke="#dc90d8" stroke-width="4.0" stroke-linecap="round"/>
<path d="M272 185l-2-3m-11-12l-1-1m10 11l-1-1m-6-11l-2-2m9 9l-3-3m-15-14l-2-2m25 29l-1-1m-11 8l-2 2m-15 12l-3 2m15-17l-3 3m-3 10l-2 1m-6 5l-2 1m24-18l-3 2m4-4l-3 2m-41 14l-3-3m-10-13l-2-2m-6-5l-1 0m-2-3l-1-1m23 19l-2-3m-6 4l-3-4m18-48l-2 2m-22 18l-3 3m25-24l-4 3m-6 6l-2 2m-10 12l-2 2m1 7l0-2m79 1l0-1m20-23l3-3m-11 14l2-2m-10 7l3-4m-9 14l3-3m14-21l3-4m-18 38l1 2m0-2l2 2m7 8l5 1m46 9l4 1m-54-8l3 0m-4-3l5 1m21 1l1 1m10 3l2 0m-6-1l5 1m9-45l2 0m-7 0l5 1m-29-10l2 1m2-2l3 1m16 5l5 1m2 24l0 2m5 12l1 2m-4-25l0 3m-4-14l1 5m2 17l0 4m6 19l0 3m-49 45l4 0m-4-3l2 0m32 6l3 1m-34-3l2 0m2 0l4 0m-20-1l2 0m-1-12l0-2m-4 1l0-2m0-12l0-4m5 1l0-4m-1-22l0-4m-2 4l0-3m-1 34l0-2m57-4l1-3m-3 5l0-1m-1 12l1-3m-4 9l0-1m6-26l1-4m-6 24l1-4m6-10l1-3m7-123l1 4m4 28l1 3m-5-30l1 5m-2-10l1 3m2 3l0 1m0 16l0 1m34 13l-3 3m11-13l-1 0m-6 9l-3 4m-4 2l-2 1m32-28l-2 1m6 1l-3 2m5-15l1-4m-48 46l5 0m-10-3l2 0m50-44l0 1m-26-52l-1 0m24 2l-3 0m-36-1l-3 0m38 1l-5 0m-8 0l-1 0m-26-2l-2 0m12 4l-1 0m38 42l-1 2m3-29l-1 4m1 15l-1 3m3-22l0 1m0-4l0 1m-5 8l-1 4m3-30l-3-2m-66 53l1 1m-216 120l-1 0m3 2l-5-1m-25-10l-2 0m2 6l-1-1m7-1l-4-1m21 23l1-2m-14 31l1-2m14-32l1-2m-26 51l2-4m22-40l2-4m-13 24l1-2m2 2l1-2m3-9l3-5m-42 22l-3-4m-9-9l-2-4m23 24l-1-2m1 6l-2-3m-11-16l-2-2m-2-7l0-1m15-22l2-2m-12 12l1-2m6-4l3-3m-13 12l2-1m274-87l2-3m-13 17l1-1m-3-5l3-2m-1 4l4-3m-5-57l-5 0m-1-5l-2 0m-12 13l1-1m-11 8l3-2m-15 10l3-2m25-21l2-1m-36 26l3-2m14-6l3-2m33-79l-1-2m10 12l-2-3m6 8l-1-1m-20-27l-2-4m10 11l-2-4m-42 23l-3 2m35-26l-2 2m-25 15l-2 2m-7 3l-2 1m-2 2l-1 1m28-18l-2 1m19-13l-1 0m-13 66l-2-1m-1 0l-1-2m-6-4l-1-2m7 9l-2-3m11 7l-3-3m1 0l-1-1m-28-21l-1-2m15 9l-1-1m18 219l0-1m3-8l0-2m0 0l0-2m22 49l3 3m-14-16l3 3m14 14l1 1m-12-8l2 3m-7-10l1 2m9 5l3 2m-9-5l2 2m18 19l-2 0m11-3l-3 0m20-7l3-2m-14 6l3-2m-2 2l2-1m12-13l3-2m6-6l1-3m-129-9l2 4m-17-34l2 5m9 11l0 2m-5-8l1 1m-6-14l2 3m17 37l-2-2m-4 1l-2-1m9 4l-3-2m21 10l2-1m15-10l4-3m-11 4l1-1m6 0l3-2m-3-1l2-2m-48-40l-1 1m-8 2l-4 2m66 3l2 3m-30 50l-1 3m1 1l-1 3m68 11l3-2m-75-3l0-1m1 6l0-2m-1 9l0-1m92 3l-1-3m0-3l-1-3m0-187l1 1m29-31l1 4m1-11l0 2m-2 16l-1 2m-8 9l-2 4m11-17l-2 3m-20 18l1 0m3-1l4-1m29-6l2 2m13 17l3 4m0-6l1 1m-14-12l2 3m2-1l2 2m-25 7l-4-1m22 3l-3 0m-21-3l-3 0m36 4l-2 0m-3 0l-1 0m-31-9l0 2m-37 55l2 0m-1 6l4 0m3-6l2 0m-4 0l1 0m-28 3l2 0m10-54l3 4m4 8l3 3m-14-24l2 3m12 14l1 1m1 12l1 2m9 19l0 5m-1 2l0 3m-4-26l0 5m4 19l0 3m12 3l4 2m-11-5l3 1m-3-1l3 2m98-56l2 0m8 4l2 0m-11-1l3 0m16-2l3 0m-42-5l0-3m7-16l1-4m-7 16l0-1m10-36l0-1m-4 11l1-2m-3 24l1-3m5-30l1-4m20-14l-3 0m6 2l-1 1m-12 3l-2 1m0-2l-3 2m-37 4l1 0m-30-2l4 0m12 5l4 1m31 1l2 0m-25-4l2 0m19 1l4 0m-3 1l5 0m3-1l2 0m-30 57l-1-1m8 6l2 0m51-74l-1 3m0-3l-1 4m-81-48l1 0m5-3l5-2m-12 7l5-2m2-4l4-1m-15 164l2-4m-2 6l2-4m4-6l-2 2m11-14l-3 3m16-15l-2 2m-8 4l-1 2m-9 12l-1 2m6-8l0 1m2 48l2 2m-12-16l1 1m18 20l2 1m-2-3l3 3m-6-3l1 2m-5-9l2 2m-1 4l3 3m21-77l1 1m22 34l2 3m-10-13l1 1m-1 3l1 2m5 2l2 4m-4-9l2 3m-8 27l-2 3m-20 21l-2 3m20-19l-1 2m1-3l-1 2m8-9l-3 3m-5 8l-2 2m-7 7l-3 3m-28 40l-3 1m8-5l-3 2m-5 3l-2 1m-6 6l-4 2m7-7l-2 2m21-15l-3 4m6-8l0 1m-35-59l5-1m-14-1l3 0m48 48l1-1m-2 1l1-1m53 23l2-1m2-3l4-2m-28 14l-2 0m-1-2l-3 1m-9-4l3 2m-5-10l4 3m-4 1l3 2m-17-9l3 2m39-10l2 1m9-3l2 0m-1 4l4 1m-4-4l5 1m-47-11l1 0m11 2l3 1m15 2l3 1m-4 2l4 1m-81 58l3 3m-6-6l3 2m13 13l2 1m-2 0l2 2m-17-13l3 2m-9-286l-1-1m-7-26l-1-3m5 19l-1-4m0-3l0-1m-11-28l-2-4m21 53l-1-4m-293 244l-1-1m-8-2l-1 0m2-4l-1 0m5 3l-4-1m1 5l-4-2m-21 17l-2 3m5-5l-1 2m7-14l-2 4m-9 10l-3 3m18 42l-1-2m2 3l-1-3m-14-28l-1-3m5 9l-1-2m10 20l-2-4m2 2l-2-4m1 3l-1-2m-59-84l1-4m-15 47l2-3m7-28l1-1m1 9l1-3m-9 12l2-4m-5 21l1-2m3-7l1-3m10 20l4 2m-6-1l2 1m1 0l3 1m-3 3l2 0m-2-64l3 0m7 1l4 0m10-1l4 0m-13 2l4 0m1 59l3-1m16 2l3 0m-10-1l2 0m-8-1l5 0m111-298l1 0m0 0l5 0m-10 1l3 1m17-7l-2 1m12-7l-3 2m-10 6l-3 2m-14 43l-2 0m-15 0l-2-1m6-2l-4-1m15 6l-3 0m-9-31l-1 3m-8 13l0 1m-2 5l-2 5m7-15l0 1m2-9l-2 5m1 5l-1 3m29 5l1-3m-7 11l1-3m8-30l1 3m1-4l2 2m-143 303l-1 2m-6 15l0 1m2-17l0 4m-46-17l-4 3m2 5l-1 1m2-5l-3 3m-1-1l-2 1m-1 3l-1 1m30-25l2 0m76-180l0 3m2 6l0 2m-2-10l0 4m1-19l0 2m2 17l1 3m-1-15l1 4m-5 10l0 4m4 9l0 2m27-61l1 0m0 2l4-1m-16 0l5-1m4 2l4-1m-15 5l1-1m28 63l-3 1m-2 1l-3 1m1 3l-2 1m-24-1l-2 0m4-3l-2 0m6 6l-2-1m29 66l-1 0m30-21l-2 2m-16 15l-1 1m36-32l-3 2m-9 6l-2 2m-20 20l-3 2m38-35l-1 1m-29 29l-1 1m11-54l-1-2m6 11l-2-1m6-1l-4-3m15 9l-1-1m-3 1l-1-1m-29-24l-2-1m28 22l-2-2m-52 4l-1-2m7 17l0-1m-3-11l-1-2m5 19l0-2m-8-11l0-2m7 18l-1-4m-1-16l0-2m1 6l-1-2m-53-4l1 4m1-3l0 2m2 0l1 2m-4-6l0 2m3 13l0 2m16-39l3-1m-6 4l4-2m-17 9l2-1m48 62l-4 2m-42-23l-2-2m3 5l-2-4m-45 24l1-3m-3 7l1-2m2 3l1-4m-6 26l1-5m-16-7l-4-2m-7 0l-3-2m7 2l-2-1m6-10l-4 3m11-7l-2 2m10-8l5 0m-2 1l0 0m251-91l-2-1m-6-5l-1-1m9 7l-4-2m-10-9l-2-1m5 0l-1 0m-50 26l1-2m20-22l-1 1m-5 10l-1 1m-9 4l-2 1m25-24l-3 3m-16 17l-2 3m-8 3l-2-1m0 4l-2-2m-18-13l-3-2m22 16l-3-2m-34-25l-1-1m32 19l-2-1m6 113l-1 3m3-5l0 1m-3-6l-1 4m27 28l-5 1m17 2l-3 0m-11-2l-1 0m-10-4l2 3m4-3l1 1m-19-20l3 3m3 2l2 1m-6-5l3 4m-58 37l4-2m-22 7l3-1m-7 3l2-1m4 0l2-1m5-3l5-2m101 37l-3-1m19 9l-3-1m-10-2l-2-1m27 9l-3-1m-14-3l-3-1m-4-18l-2 1m-4 5l0-2m9 31l-2-3m0 2l-1-1m-13-12l-3-3m5 1l-2-1m13 10l-3-3m-7-12l-2 1m247-323l-1-3m1 1l-1-2m1 3l-1-2m-54 22l0-4m1 22l0-3m-3-19l0-1m-1-6l0-4m4 24l-1-5m-52 139l-4-3m-5 13l-3 0m-3-17l0 3m22 14l-2-4m20 31l-2-4m-16-20l-1-1m8 16l-1-2m-9-21l-1-1m-19 11l2-3m110 41l4 1m-3-3l4 1m10 1l2-4m-14 87l-1 2m-12 0l0 2m1 3l-2 1m-24-6l-3-3m1 7l-2-3m-2-7l-2-1m0-2l-2-3m21 20l5 1m0-1l3 0m31 36l0-2m-1-11l0-2m-3 16l3-1m0 2l3-1m-14-32l4 3m8 8l3 1m-371-256l-1 3m9-16l-2 2m-1-1l-2 4m4-7l-1 4m-63 7l-1-3m6 7l-1-1m-10-21l-1-2m19 35l-1-1m-8-22l-2-3m10 28l-1-3m43-44l-4-3m-25-21l-2-2m11 16l-1-1m0-4l-2-2m16 15l-4-3m-20-18l-3-4m10 11l-2-3m-7-4l2-2m-5 10l2-3m-17 20l3-4m13-19l1-1m-6 9l1-2m-69 191l-1-2m-15 10l1-3m1-8l1-3m-1 23l1-5m0-10l0-3m42-169l-1 0m11 4l-4 0m15 0l-3 0m-12-6l-4-1m-19 2l-3 3m-5 7l-1 1m7 48l-3-2m-8-9l-4-3m17 12l-3-2m-11-40l0 2m-1 1l0 1m2 19l-1 3m2-23l0 1m-4 16l0 1m45 153l-2-3m1 7l-1-2m11-30l-3 1m10-4l-5 2m-11 8l-3 1m-3 10l0-2m-17 3l3-2m8 1l-4-1m159-210l0 3m0-11l-1 5m3-4l-1 5m-4 17l0 1m-2 1l1 0m47 66l0-4m1 18l-1-4m2-5l-1-3m-3-14l0-4m33-27l-2 0m6 2l-3-1m-10 1l-5 0m-13 19l2-4m1-7l1-1m4-7l2-3m-12 13l1-2m70-58l-1-1m7 5l-3-3m-62 42l0-1m-2-3l-1-5m-53-7l1 2m21-29l1 2m-3 0l1 3m3 6l1 2m-5-10l3 4m-4 15l3-1m-14 9l1 0m3-4l3-2m31 6l-1-1m-15-8l-1-1m24 16l-4-2m3-1l-3-3m-62 43l3 4m-12-14l1 1m-6-6l2 3m13 10l3 4m-19-21l3-3m4-2l0-1m-4 4l1-1m17 21l2 0m11-7l5-1m-24 7l3 0m16-2l2-1m-14-29l3 0m7 3l-2-1m14 14l-1-2m1 4l-2-2m2 3l-2-3m-78-5l2-1m31 2l4 3m3 37l2-4m4-4l1-1m1-7l1-3m-10 34l1-4m9-23l1-3m2-40l0 1m37 27l-4 0m3 1l-5-1m-18-26l-1 3m-41 306l5-1m15-9l4-2m-33 13l4-2m12-60l3 2m7 12l3 2m1-2l1 1m-16-14l2 2m-7-7l2 3m26 22l0 2m0 12l0 1m-3 1l0 2m2-3l0 2m3 16l-1-1m4 1l-2-1m281-17l3 4m-18-4l-3 2m-6 22l-2 1m4-1l-3 3m3-4l-1 2m5-5l-3 3m23-18l-1 1m-23 6l-1 2m1-9l-1 4m1-4l-2 4m35-6l-2 0m-34-8l1 5m-1-5l1 2m-358-318l0-4m-80 46l-3-1m-17-2l-2-1m6-1l-3-2m-2 3l-2-1m8 1l-4-1m-1 1l-1 0m12 122l-2 0m15-5l-2 1m10-3l-2 1m-23 8l-2 0m-7-9l-2-2m-5-2l-3-2m12 11l-3-3m44-27l1 5m-4-17l0 5m1 0l1 5m2-5l0 3m-2-17l0 4m-1 14l0 5m-29 64l-1-3m-4-8l-2-3m-2-3l0-1m-10 7l-1 1m2 1l-3 3m7-12l-3 3m0 0l-4 3m16 50l-2 0m-10-1l-3 0m8 49l-1-1m7 11l-3-2m-7-10l-2-2m-7-2l-2-2m26 20l-3-4m-20-16l-4-4m69-67l1 1m-13-2l-2-4m6-41l1-3m-4 24l0-2m-5 11l1-4m2 10l0-2m0-4l0-2m14 2l0-1m7-11l0-3m-6 18l1-3m2-7l0-2m0 9l0-2m1-23l1-4m-8-2l-1-1m-3-1l-2-1m-8 58l0-2m-8-11l5-1m-34-24l0-1m-1 2l1-3m43-18l2 1m29 6l-5 0m-10 0l-3 0m184 107l-1 2m19 42l-4-1m-16-29l-2-3m4 9l-2-3m7 14l-1-4m4 8l-1-2m-28-6l3-1m-25 14l1-1m-2-1l3-2m30-19l0 1m-2 2l-2 2m28 40l2-2m-16 10l-3 0m-4 2l-3 0m7 2l-2 0m-11-4l1-2m10-12l1-3m14 7l-1-2m-3-9l-1 0m-1 24l-3-3m2 3l-1-1m-22 2l4-1m-8 2l1-1m17-36l2 4m2 5l2 3m-13-25l2 3m-2-1l1 1" stroke="#5638ad" stroke-width="4.4" stroke-linecap="round"/>
<path d="M470 242l1 7 4 4 5 1 6 0 5 2 5 2 6 2 5 0 6 0 1 1 0-1 2-6 2-5 1-6-1-5-2-6-2-5 0-5-1-2-1-4-5-1-5-2-5 1-5 2-4 4-4 4-3 5-4 4-3 4zm-15 103l3 0 3-1 1-3 2-5 1-6 3-5 1-4-1-6-2-5-2-5-2-5-4-4-4-4-4-3-3-2-2 1-3 1-5 2-6 2-5 2-5 4-4 4-3 4-1 4 0 3 3 4 5 3 5 3 4 4 4 4 4 3 5 4 4 3 5 2zm-44-25l-4 2-4 2-2 3-4 0-4 3-4 2 0 5 0 4 2 3 1 3 6-1 6 0 5 0 6 0 6 1 6 1 5 0 6 1 6 0 6-1-5-4-4-4-4-4-3-4-5-4-4-3-5-3-5-1zm-61-104l-1 3-1 3-2 4-3 5-3 4-1 5-1 5-2 5-2 5-2 5 2 6 4 5 0 4-1 5-1 4 0 5 0 5 3 5 4 5 5 3 5 3 4 4 4 4 3 5 4 5 4 3 4 1 4-1 3-1 4-2 3-1 4-3 4-2 4-2 4-3 2-4 4-2 2-5 2-3 4-5 4-4 5-4 5-3 4-4 5-4 3-3 4-4 3-4 2-4 2-4-1-4 1-3-2-3-2-3-5-4-4-3-5-4-4-3-4-4-4-4-3-5-5-3-5-1-4 1-5 1-4-1-4-2-5-2-4-2-2-1-3-1-6 0-6 0-5 0-6 0-6 2-2 3zm-10-2l-2-4-4-3-5 0-6-1-5 0-5-1-5-1-5-2-6-2-6 0-5 4 0 6 0 6 0 5-1 6 1 5-1 6 0 5 1 5 3 2 4 1 5 2 4 2 5 3 5 2 5 1 5-1 5-1 4-4 1-4 1-6 2-5 2-5 1-5 0-6 1-6zm149-5l-1-4-1-5-2-5-1-6-3-5-3-5-2-4-3-6-5-3-6-1-6 3-5 4-4 4-3 4-4 4-4 4-4 4-3 5-2 5-3 5-2 6 2 7 5 3 4 3 5 3 4 3 4 4 3 3 4 4 4 2 4-1 3-3 3-3 4-5 4-3 3-4 4-4 4-4 2-5zm-145-5l5 4 6 1 4-1 5-2 4 0 5 0 6 1 5-5 0-7-2-6 0-5-2-5-3-5-3-4-3-4-4-4-4-4-4-3-5-2-4 2-4 4-3 3-2 5-1 5 1 5 1 5 3 5-1 6-1 5zm-15 60l-4-3-5-2-6-2-5 0-5-1-6 0-5 0-6-1-2 2-3 0-3 1-4 2-3 4 1 4 3 6 3 5 2 5 3 5 3 5 3 3 4 3 4 3 4 3 5 1 4-1 5-2 5-2 4-2 5-3 2-3 1-4 1-5 1-4 0-5-2-4-2-5zm146-104l-2 3-2 4 2 4 3 5 4 4 4 5 4 4 3 5 2 6 3 5 4 4 5 0 5 1 3-1 2-2 1-1 1-6 0-5 0-6 0-6 0-6 1-6-1-5 0-5-5 1-5 0-6 0-5 0-6-2-5 0-6-1zm-49-60l-1 3-1 1-1 6 0 6 1 6 4 4 4 5 4 4 4 4 3 5 4 5 4 4 4 4 3 2 2 3 3 0 4 1 4-2 0-4 0-5 1-6 2-6 2-6 2-5 1-6 1-6 0-6-1-2-1-2-1-3-6-3-6-1-6 0-6 0-6 0-6-2-6-1-6 1zm-281 119l-4 1-2 3-4 4-3 5-3 5-2 5-2 5-2 5-3 5-3 5-3 4-2 7 3 6 6 3 6 0 5 1 5 0 5 1 3 0 3 1 5-1 5-2 4-3 5-1 4-2 5-1 4 3 4 4 4 4 4 3 4 3 4 4 3 3 4-1 4-2 3-4 5-2 5-2 5-2 5-3 4-3 3-5 2-5 0-4 1-3-1-5-2-5-4-3-3-3-4-4-2-4-2-5 1-4 0-5 1-4 0-5-2-4-4-3-4-4-3-4-3-4-4-4-4-3-4-2-5-1-5 1-5 4-5 3-4 5-3 4-4 5-4 4-5 4-5 3-6-1zm54-47l0 7 3 5 4 4 4 3 4 4 3 4 4 3 3 5 4 3 5 2 6-2 5-3 4-4 4-4 5-4 4-3 4-5 1-6-3-5-4-5-5-3-4-4-3-5-4-4-4-4-5-3-6 0-6 1-4 3-4 4-3 4-4 4-4 3zm221-80l3 5 5-1 5 0 6-1 5 1 6 1 5 2 5 2 6 0 5 0 6-1 5 1 6-1 5-4 3-5 4-2 4-2 4 0 4-3 1-5 0-5 1-5 1-5 2-5 0-6-1-5 1-6 0-6 2-5 0-6 0-6-1-5-2-4-1-5 0-5-3-4-3-5-6 2-6 0-5 1-6 0-5 0-6 1-5-1-5 0-6-1-5 0 1 4 0 6-1 5-1 6 1 5 1 6 0 5 1 5-4 3-4 4-3 4-5 2-5 1-5 0-4 1-1 4 0 6-1 5-1 6-1 5-1 6-2 5zm-162 254l-4-1-4-3-3-4-3-1-5 0-4 1-4 1-4 1-5-1-4 0-4-2-4-2-6 0-5 2-4 2-6 1-5 2-6 2-3 3 5-2 5-1 6 2 6 3 5 1 6-1 6-2 5-3 6 0 6 1 5 1 6 0 6 0 5 0zm-24-212l1 4 1 3 1 3 1 3 3 5 3 4 3 4 4 4 3 4 4 3 4 4 5 1 3 1 4-1 4 0 3-1 5-1 3-5 3-3 3-5 3-3 4-4 2-3 4 1 6 3 6 2 5 1 7 1 3 0 4 0 3-2 2-2 3-3 4-1 4-2 2-4 2-3 2-4 1-5-2-5-3-5-3-5-3-5-2-5 1-4 0-4-1-4-4-2-3 0-4-1-4 1-3 2-4 4-4 4-4 3-5 2-4 4-4 4-4 4-4 1-5 0-5-2-5-2-4-3-3-4-4-3-4-2-5 0-4 1-4 1-4 4-3 5-3 3-4 3-5 3-2 4zm50 64l-3-3-3-3-4 0-3-1-4 2-3 2-4 3-5 3-5 3-5 3-4 3-5 3-3 4 0 5-2 4-2 4 0 6 3 6 4 3 4 3 4 3 3 3 2 2 2 3 3 0 3 0 5-1 5 2 5-1 6-2 2-3 3-3 2-3 1-3 1-6 0-6 0-5-1-6 0-5 1-6 0-6-2-3zm229-106l-6 0-5 0-2 3-2 3-2 3-4 2-3 1-2 3-1 5-1 6-1 5 1 6 0 5-1 5-2 5 0 3 0 2 1 3 2 2 2 1 3 1 5 0 6 2 6 0 5-1 5-1-1-6-2-6-1-5-1-6 2-6 1-6 1-6 0-6-1-6 0-6 0-6 0-6-1-5 1-4 5 3-2 4-2 5zm-124 255l-1-6-1-5-3-3-3-1-5 0-4 0-4 4-4 4-3 4-4 3 5 1 5 1 6 0 6-2 5-1zm-37-258l3 6 1 6 1 5 2 6 2 5 1 6 1 6 1 6 3 0 3 0 3 1 4 1 6 0 4-4 4-4 4-5 4-5 5-3 5-3 5-3 3-6-2-5-2-2 0-5 2-6 2-5 3-5 2-5 2-6-1-5-1-6-2-4-2-3-4-3-6-1-6 1-6 1-6 1-5 1-6 1-6 1-6 0-6-3-3-5-3-4-1-5-2-6-1-6-4-3-5 1-3 3-4 3-5 3-5 2-4 3-5 3-5 2-4 3-3 4 1 5 1 4 5 4 4 4 5 4 3 4 3 5 5 4 4 4 4 4 2 1 5 1zm-7-85l2 6 1 6 4 4 3 5 2 5 1 6 3 6 5 3 5-2 5-2 6 0 5 0 5 1 6 0 5 0 4 1 4-3 3-4-2-5-4-5-3-5-2-6-1-6 0-6-1-6-2-7-7 0-6-1-5 0-6 0-6 1-6 1-5 2-6 0-6 0-6 0-5-1-6 0 4 3 4 3 4 3zm-237 275l-4 4-3 4-3 5-4 4-3 4-2 4 1 4 2 5 3 5 3 5 3 4 1 6 2 5 2 5 4 5 6 0 6 0 5 0 6 0 5 0 6 1 5-1 6-1 6-2 4-1 5-2 6-1 6-1 6-1 6-2 5-3 3-3 0-5-1-5-1-6 0-5 1-5-3-3-4-4-4-4-5-3-4-4-4-3-2-2-3 0-6 0-4 2-5 3-4 3-5 3-5 0-5-2-5-2-5-2-5-2-5-3-5-2zm153-209l2 5 2 5 0 6 0 5 0 6 0 5 3 4 4 3 6 0 6 1 5 0 5 2 3 1 4 1 5-2 5-3 4-3 4-4 5-3 4-2 4-4 2-5-3-5-4-4-3-5-4-4-4-3-6-3-5-3-4-4-3-5-2-1-1-4-5-3-4-2-5 2-5 3-2 4-4 4-5 3-4 4-1 4zm76 231l-6-2-6 3-4 4-4 4-4 4-3 3-2 3-3 4-3 4 0 5 0 5 0 3-1 4 3 3 6 0 6 0 6 0 6 1 6-2 6-1 6-1 6 1 3-3 3-4 2-2 1-3 0-3 0-3-2-2-2-3-3-3-3-4-3-4-3-4-3-4zm-131-230l-4 5-1 5-3 5-2 4-2 5 0 5 3 3 2 2 6 2 4 4 5 4 4 4 5 3 5 3 3 1 3 1 4-1 4-4 4-5 3-5 5-4 4-4 3-2 1-4 0-5-1-5-1-5 0-5-1-5-2-3-2-2-5-2-5-2-6-1-5 2-6 1-5 1-5 2-6 0zm-103 210l0-5-2-4-4-3-3-4-4-4-3-4-4-4-4-3-3-2-4-1-5-1-5 1-5 0-5 2-5 1-4 3-2 6 0 6-1 6-2 5-2 5-4 5-1 5 1 4 4 2 6 2 5 2 5 2 2 2 3 2 5 0 5-2 5-2 4-2 5-1 2-1 3-2 4-2 4-3 4-3 3-3zm46-73l3 3 5 1 4-2 5-4 3-4 4-4 4-5 4-3 4-5 5-2 2-3 3-2 1-3-1-3-3-2-4-1-5-2-4-4-5-4-4-4-5-4-4-4-5-1-6 0-4 2-4 1-2 2-3 3-1 4 0 3 2 6 2 5 3 5 1 5 0 6 0 6 1 5 1 5zm-136 74l5 3 5 2 7-2 4-5 0-6 0-5 1-5 2-5 4-4 1-5-1-6-4-4-4-2-4-2-5-3-4-2-4 0-4 0-5 0-5 1-5 2-2 5-1 2-2 5-3 5-1 4 2 6 6 2 5 3 3 4 2 5 3 4zm321-118l-2-1-2-2-5-1-5-1-5-2-5-2-2-1-3 0-3 1-2 2-4 4-4 4-4 4-4 4-3 5-1 4 0 5 3 4 2 4 4 1 3 2 5 0 5 1 6 0 5 1 5 3 5 2 5 2 4-1 2-2 2-3 2-2 2-2 1-3 0-6-1-5-1-5-2-4-1-5-2-2zm-96-168l4 5 2 5 3 5 2 6 3 4 5 3 5 1 6 1 5 3 3 3 3 3 1 3 3 2 3 2 4 0 3 1 5-1 5 0 5-2 4-3 4-4 4-4 4-3 4-3 4-3 2-3 2-2 1-3 1-3-1-2-1-3-2-2-1-3-4-4-4-3-6-1-6 0-6 0-6 1-6 0-6 2-5-1-6 1-6-1-6 1-6 0-6 0-6 0-6-1-5-1zm-148 162l-1 4-2 5 1 5 0 5 1 5 2 5 2 5 2 4 3 4 2 4 4 2 4 3 5 2 6 1 5 1 4-1 2 0 3-2 3-1 2-2 2-3 0-3 0-3-1-5 0-5-1-6 1-5-2-5-1-5-1-6-1-3-2-4-5-1-4 0-4 1-4 0-3-2-4-2-5 0-3 2-3 2-3 2zm67-112l-2 2-1 3-1 5-2 5-2 4-3 4-3 4-4 2-6 0-6 1-5 2-6 2-5 2-3 2-1 3 0 4 1 5-1 5 0 6-1 5 0 6 0 5 0 5 2 6 1 5 2 3 4 1 5 3 5 2 6 3 5-1 4-4 3-3 5-2 5-2 6 1 5 3 4 3 5 3 4 4 5 2 4 4 4 3 4 4 4 1 5-1 3-4 5-4 5-2 5-3 4-3 4-4 3-6-1-4-2-4-2-2-5-3-3-5-4-4-4-4-5-4-4-4-4-3-4-1 1-4 2-6 2-5 2-6 2-5 0-4-1-4-4-5-3-5-4-5-4 0-2-1-6 0-5-3-5-2-6-1zm-104 102l3 2 5 1 4 2 5 1 4 2 5 0 5 0 4-1 5-3 4-3 4-3 3-2 1-4 0-6-1-5 0-6 0-6 0-6 0-6-1-6 0-6-1-6-3-4-2-5-3-5-2-5-2-5-1-5-1-6-2-5-3-1-3 0-6-1-5 0-5-1-5-1-5-4-6-3-4 2-3 4-3 3-3 5-1 5-1 6 1 6 1 6-1 5-1 3 1 4 4 4 5 3 5 3 2 4 0 5 0 6 0 5 2 6 0 6 1 5 0 6-1 5zm361-112l3 2 2 3 4 0 3 0 3 0 3-1 4-1 4-1 5-1 3-2 3-3 1-3 2-4 0-6 0-5 0-6 0-5 1-6-1-9-9-3-6 1-5 3-6 2-5 3-6 2-5 0-6-3-7-2 1 7 3 5 3 5 3 5 4 5 1 5 1 6zm-326 272l-3-2-4 0-5 2-6 0-6 1-5 0-3 2-3 3-2 5-1 6-2 5 0 6-1 5 1 8 7 0 6-2 6-2 6 0 5 0 6 0 6 2 6 0 6 0 5 0-2-5-2-5-2-5-4-4-4-4-3-5-1-5zm-9-72l1 4 1 3 3 4 4 4 4 4 3 4 2 5 3 5 6 2 7-2 4-5 3-6 2-5 2-6 0-6 1-6 2-5 3-2 2-4 0-4-2-3-3-1-3-2-5-2-5-2-5 0-6 2-4 4-3 5-4 4-5 3-5 3zm70-196l5 1 5-2 1-5 2-6 0-5 3-5 2-5 3-5 3-4 5 3 5 2 6 0 3-2 3-2 4-3 4-3 4-3 5-3 4 0-5 1-6 0-6-1-6-2-6-2-5 1-6 1-6 1-6-1-6-1-5 1-6 0-6 0-6-1-6 0-5 1-6 0-7 1 1 6 1 6 2 2 0 4 4 5 3 4 5 4 5 2 5 3 5 4 3 4zm-125 255l-4 1-3 3-4 5-3 4-5 4-3 4-4 5-4 3-1 4-1 4 2 5 1 4 2 1-1 2 5 1 6-1 5 0 6 0 6 1 6 0 5 0 6 0 5 1 0-5 0-6 1-6 1-5 4-6 1-4-1-5-4-3-3-2-4-3-4-2-4-3-4-1zm-11 5l3-3 1-5-2-5-4-4-4-4-3-4-2-4-3-5-9-3 2 8 2 6-1 6-1 6 0 6 1 6 1 5-1 6-1 6 4-4 3-4 5-3 5-3zm18-252l-4-3-6-1-4-2-5-3-4-4-4-2-5-2-5 0-3 1-1 6-1 6 0 6-2 6 0 5 1 6 3 6 2 6 2 6 0 5-1 6-2 6 1 6 1 6 2 6 0 5-1 6-1 6-2 6 3 0 4 0 4 3 4 3 4 2 4 1 2-1 5-1 5 0 5 0 5 1 5 0 5-1 4-4 0-5-1-6-1-5 1-5 0-5-1-6-1-5 0-5-1-6-4-4-4-4-4-2-3-4-3-4 0-5 0-6 1-5 2-5 1-6zm59-5l-1 3 1 3 2 5 2 4 2 5-1 5 1 6 4 5 7 2 6-1 5-2 5-1 5-2 5-2 4-3 3-3 2-4 4-4 2-5-1-3 0-4-2-2-1-3-4-5-3-4-3-4-3-5-4-3-5-3-4-1-3-1-3 1-3 2-2 2-2 1-5 3-3 4-3 4-3 5 0 3zm-85 125l0-3 2-2 2-4-1-4-2-4-3-2-4-2-3-1-3 1 0 5 1 6-1 6 0 6-1 6 0 6 0 6 3-4 3-3 3-5 3-4zm7 55l2-3 3-2 2-5 1-5 0-6-2-4-1-4-3-4-1-4-5-4-7 0-4 5-1 4-1 2-1 5-1 6-1 6 0 6-1 7 5 4 4 1 4 0 4-3zm-14-196l5 3 5 1 6 1 5 2 5 2 4 3 3 0 2 1 3-1 2-1 3-2 3-2 4 1 3 2 5 1 5 1 5-1 6 1 5-1 3-2 2 0 3-1 3-1 3-5 2-6 4-5 4-4 6-3 2-5 2-5-3-6-4-3-6 1-6 1-6-1-6-1-6-1-6 0-5-1-6 1-6 0-6 2-6 1-6 0-6 0-6-1-5 0-6 0-6 2-6-1-5-1-2 4 0 5 1 6 2 5 0 5 1 5-2 4zm52 173l-4 2-1 4 0 5 4 1 2 1 2-1 2-3 2-4-2-3zm-7 12l-4 0-3 1-4 3-2 4-3 3-2 5 3 4 4 1 3 2 3 2 3 0 2-1 2-4 1-5 2-5 1-4-1-4zm-8-12l0 2 2 2 3 2 1 0-1 0 3-2 4-4 0-3-5-2-3 3zm29 4l-3 3 0 3-2 3 2 3 5 1 3-2 0-4 0-4-2-3zm-44 16l2 1 1 0 5-3 4-3 4-4-2-2-4-3-3-4-1-2-3 1-1 5 0 5-2 4zm27-61l-2-3-2-3-4-1-5 1-5 2-5 1-5 2-4 1-3 4-1 4-1 5 0 4 3 5 3 4 4 4 4 3 4 4 4 1 4 0 4-2 4-2 3-4 1-6-1-5 0-6 0-5 1-5zm27 63l3 2 2 1 3 0 2-2 4-3 5-3 5-4 2-4-1-5-3-2-2-3-6 0-4 2-3 3-3 1-3 2-1 3-1 4 0 5zm-8-26l2 3 3 2 4 1 6-2 5-2 3-3 1-4 0-5-1-6-2-5-2-6-1-5-1-4-4-3-4-1-4 0-4 3-2 5 0 6 1 5 0 6 0 6-1 6zm166 134l2 5 3 1 5-2 5 0 4-3 3-3 4-2 1-4-2-5-4-3-4 1-2 2-2 3-4 4-4 2zm-1-36l-3-1-4 1-5 3-4 3-4 4-2 2-2 3 0 4 1 5 0 4 0 5 0 3 2 3 3 3 3 2 5-2 4-2 3-3 3-3 4-3 3-4 3-3 2-5-1-4-4-4-3-4-2-4zm28 28l5 0 5-4 0-5-2-3-2-1-5-1-2 3-3 3 2 3zm18 2l-2 2 0 3 1 1 0 2 2 5 1 4 3 4 4 3 5 0 6 0 1-7-2-5-1-4-4-3-5-4-5-2zm-15-21l4-1 3-1 3-2 4-1 3-1 2-3 0-4-1-4-3-5-3-4-4-4-2-4-2-2-3-1-3-1-5-2-5 0-3 4-1 6 1 6 2 5 2 5 3 5 2 6zm214 38l0 3 1 2 4 1 4 0 5 0 4-1 4-2 5-1 4-1 3-2 1-3 0-4-1-2-4-2-4 0-4-3-4-2-6 2-4 4-3 4-4 5zm13-19l-2-1-3-2-3 1-5 0-6 3-1 4-2 4-1 5 2 4 5-1 4-5 4-4 4-3zm-4-17l-1 6 4 2 5 2 2 2 3 2 4 2 4 2 4-1 1-4-1-3-5-3-5-3-4-3-4-3zm2-3l5 1 2-2 2-4 0-3-3-2-5 0-2 4zm-26-23l-3 1-2 2 0 3 1 3 3 5 3 5 3 2 5 2 4 1 4 2 4-2 3-4-1-4-4-4-5-3-4-3-3-3-5-3zm5-24l-6 4-2 6 3 5 3 4 4 4 3 5 5 2 5 3 4 0 4 2 5 1 4-1 5-1 3-2 4-2 5-5 0-7-4-5-6-2-5 0-6-1-6-2-5-2-6-2-5-3zm17 56l-1-2-1 0-6 0-4-2-2 1-1-1 1 5 0 5 2 2 4 0 4-4zm-265-282l-1-2-1-2-6 1-1 2 1 3 0 3 3 2 5-1 0-2zm-28 13l3 4 3-1 3-3 5-2 4-3 0-6-2-4-3-2-2 0-3 1-3 5-4 5zm27-39l-1-4-5-1-4 2-3 2-5 2-3 3 0 3 1 4 0 4 3 3 3 3 6-1 5-4 1-3 0-5 2-4zm9 26l-1 4 0 4 2 3 1 4 3 4 3 6 3 5 4 4 6 2 5-1 5-2 3-2 3-2 3-4 3-5 1-3 1-3 1-3 0-4-1-4-2-3-5-3-4-2-5-3-3-2-4-1-3 1-4 0-5 2-4 3-3 3zm-36-19l-5 0-4-1-4-1-2 2-2 5-1 5-3 4-3 5-1 5 1 4 1 2 3 2 4 2 5 1 4 0 3-1 3-2 1-6 1-5 1-6 2-5-1-3 0-5zm209 137l-1 2 2 4 3 1 3 3 2-1 1-3-1-5-3-1zm20 12l-2 2-3 2-1 3 0 3 0 4 1 3 3 5 4 4 3 2 3 0 3 0 3 1 2-1 4-1 4-3 3-4 2-3 1-3 0-3 0-3-2-3-2-2-3-1-3 0-5 0-4-1-5-2-3 1zm-35 24l0 5 1 5 2 5 2 5 2 2 1 2 4 4 5 5 5 2 6-1 5-2 4-6 1-4 2-4 1-3 0-3-3-5-4-5-3-5-4-4-4-5-3-2-4 0-3 0-3 1-4 2-1 4-3 2zm19-20l0-1 0-2-2-4-3-3-3 1-1 2-1 3-2 5 1 4 4 0 4-2zm32-7l4-3 0-5-2-4-2-5-1-5-3-5-6-2-5 3-4 6-4 4-1 7 2 7 6 2 6 0 5 1z" fill="#e9eae6" stroke="#d8cce8" stroke-width="1.2"/>
<path d="M419 93l-14 1m-56-2l6-17m-19 193l25-2m108-101l1-2m47-151l-12 5m-7 75l-13-19m-210 112l0 0m-83-83l-8 2m32 236l10 24m-196-282l-11 4" stroke="#b497dc" stroke-width="3.6" stroke-linecap="round" fill="none"/>
<path d="M419 93l-14 1m-56-2l6-17m-19 193l25-2m108-101l1-2m47-151l-12 5m-7 75l-13-19m-210 112l0 0m-83-83l-8 2m32 236l10 24m-196-282l-11 4" stroke="#5638ad" stroke-width="3.2" stroke-linecap="round" stroke-dasharray="4 6" fill="none"/>
</g>
<g transform="translate(287.1,187.7)">
</g></g>
<clipPath id="c5"><rect x="546.5" y="187.7" width="254.7" height="169.6"/></clipPath>
<pattern id="t5" width="20" height="20" patternUnits="userSpaceOnUse" x="546.5" y="187.7"><rect width="20" height="20" fill="#bda5de"/><g transform="scale(0.5)"><path d="M33 18l0 0m-13 11l2 1m7-22l2 0m0 25l-1-2m4 1l0-1m-2-12l-2-1m-16 14l0 1m20-19l1-2m-23 20l1 0m3-2l1 0" stroke="#dc90d8" stroke-width="3.6" stroke-linecap="round"/><path d="M30 28l2 2m-37-24l0 1m40-1l0 1m-6-11l-1 2m1 38l-1 2m-33-27l-3 3m43-3l-3 3m-8 2l-2 1m0-10l1 2m-19 7l1 1m39-1l1 1m-38 6l4 0m-7-11l-3 2m43-2l-3 2m-45 3l-4 2m44-2l-4 2m-14-11l0 2m5-3l2 1m-6 24l-1 1m-20-33l1 2m-1 38l1 2m39-42l1 2m-1 38l1 2m-24-46l2 0m-2 40l2 0m-11-13l0 2m40-2l0 2m-19-28l0 3m0 37l0 3m-21-31l0 2m40-2l0 2m-23-9l-2 1m2 39l-2 1m12-41l-1 3m1 37l-1 3m-31-12l2 0m38 0l2 0m-40-11l1 2m39-2l1 2m-21-8l0 1m-26 5l-2 2m42-2l-2 2m-4-19l2 1m-2 39l2 1m-23-21l0 2" stroke="#5638ad" stroke-width="4" stroke-linecap="round"/></g></pattern>
<g clip-path="url(#c5)"><rect x="546.5" y="187.7" width="254.7" height="169.6" fill="url(#t5)"/>
<g transform="translate(546.5,187.7) scale(0.5)">
<path d="M464 345l4-1m-27-23l1 3m-7-15l1 3m0-2l1 2m-8-20l1 2m39-20l-3 1m-31 17l-2 1m8-7l-2 1m60 38l1-3m-6 10l1-2m-1 1l1-3m-212-91l-1 0m13 13l-2-1m-11-27l0-3m-4-17l0-1m14-26l-1 1m-5 9l-1 2m45 63l2-3m7-16l1-1m-1 0l2-3m-17 24l-2 1m-9-82l2 1m6 5l3 1m7 2l-1-2m0 2l-1-2m-4 3l-1-2m98 111l2 1m-20-50l-1-3m1-14l-1-4m5 39l-1-2m-6-1l0-1m62-20l0-3m11 34l0-2m-13-33l-1-3m-111-7l1 0m23-7l2-1m14-44l0 1m2 2l1 1m-14-17l3 3m-50 9l3-2m15-17l1-1m-26 24l1-2m29-23l1-1m34 48l-1 3m3-13l-1 2m9 106l4-1m-9 0l3-1m4 1l3-1m-4-70l-3-2m-155 24l-2 0m31-3l-2 0m-15-3l-3 1m-24 56l-1 4m6-32l-1 2m9-23l-1 3m-13 41l-1 3m15 18l3 1m-16-5l3 2m29 0l-1 0m12-6l-3 1m21-5l-2 0m28 37l-4 2m56-16l-3 0m0 2l-1 0m-11 0l-3 1m28-17l-1 3m-84-8l1 2m20 25l1 1m-7-3l1 2m-82-100l-1-1m12 11l-1-1m-48 35l-2-2m15 11l-3-2m-8-6l-3-2m-4-29l-1 1m4 2l-1 0m23-14l-1 0m-28 18l0-2m3 91l-1-2m-17-16l-2-2m14 14l0-1m33-12l1-1m-7-4l2-1m13-1l1-2m5-4l2-2m-67-29l-3 1m7-3l-3 1m305-101l-3 2m2-5l-3 2m9-27l-2-2m-6-7l-1-3m5 6l-1-2m-33 30l-2-1m7 6l-2-1m-7-32l0-1m1-1l1-3m-2 5l1-2m25-13l-1-1m-4-2l-2-2m-33 50l2-1m-15 3l2-1m-38-34l-3 2m15-17l-2 2m15-13l-1 1m11-7l-1 2m6-3l4 1m-1-1l1 1m6 5l2 0m-25-24l0-1m9 15l-2-3m52 5l1-1m8-14l1-1m-13-34l1 1m0 0l1 2m-1-1l1 2m-201-23l0-3m-34-7l2 0m25 3l2 0m-15-3l3 0m0 29l-3 2m-6 4l-3 1m20-11l-3 2m-28-13l-1 3m1 4l-1 2m-60 121l-3-1m27 4l-3 0m-23-4l-2 0m-21-4l-2 2m-7 43l0 2m-2-32l0 1m-1-3l0 3m2 10l0 2m20 72l-2-3m10 13l-3-2m-19-27l-2-3m-23 70l1 1m-43-9l-1 0m23 3l-1-1m-15-1l-4 0m49 21l0-4m-4 8l-1 1m-15 15l-2 2m-45-12l-1-3m2 11l-1-3m-9-22l-1-2m108-8l-2 1m6 2l-2 1m-40-63l-1 2m-3 11l0 4m4-15l0 1m-3 27l0 2m19 64l-1-3m0-3l-1-2m-107-31l1 0m-7 6l1 0m3-6l3 0m308 41l-1 2m52-307l-1-2m-14-1l3 1m-1-6l2 1m-45 34l0 3m5-25l0 1m-3 29l0 1m9-46l-2 2m4 3l-1 1m-9 47l-1-1m3 2l-1 0m-55-62l1-1m22-2l-4-2m6 10l-2 0m-8-12l-3-1m11 64l2 1m-19-8l1 1m-8-15l0-1m1 8l-1-3m52 20l-4 1m-83 134l0-1m-1-17l-1-4m22 13l3-1m-19 14l3-2m5-4l2-1m-20-22l3 0m8-1l2-1m-51-20l1 0m17-3l1 1m6 3l2 2m62 23l-3-1m-54-33l-2 1m22-10l-2 1m4-3l-2 1m11-6l-1-1m-1 5l-2-3m58 26l-1-1m-7-3l-4 1m6-2l-1 1m-18 5l-3 0m-186-165l-4-2m-5-9l2 2m4 2l2 3m417 155l-3 2m-1 10l2 3m17 29l0 1m-14-27l2 3m-23-57l-4 1m22 24l1 3m-2-19l1 3m-9 29l4 0m-13 56l2-1m33-16l3-1m-43 22l4-2m25-98l-3 0m17-27l-2 0m-1-5l-3 2m-20 20l0-2m27-41l2-2m-1 16l1 2m-41-11l2 0m25 0l3-1m-39 4l3 0m14 32l3 2m-4-4l1 1m20-97l-3-1m0-2l-2 0m4-2l-3-1m-55 18l1-2m-61 45l2 1m-9-50l1-1m5-9l1-2m50 10l-2-2m9 9l-2-2m-59-16l-1-3m-167 68l-4 1m16 16l2 3m1-3l2 3m-26-3l1 3m-4-6l0 2m23 17l2 0m6-6l3 0m-19-34l-1 3m32 10l-3 3m-4 7l-2 3m-42 74l1 3m-10-12l1 2m1 2l1 2m-1-23l0 1m48 6l3-3m-55-31l3-1m12-11l4-1m36 13l1 3m3 13l1 2m30-29l0 1m5 2l-1 3m-28 17l2-1m3-6l2-2m18-2l2-2m-9 40l-3-2m-6-6l-1-1m18 13l-2-1m-111-87l0-2m-3-21l0-1m3 32l0-2m5 1l4-1m22-11l-1 3m-16-28l-1-1m17 21l-1-2m5 0l-3-3m-34-10l-3 3m6 51l0-2m13 16l-3-2m25-37l-2-2m8-13l-3 2m-9-41l-4-2m13 7l-2-1m-25 2l-1 2m-2-29l-1-1m7 13l0-2m-86 7l1 2m14 23l1 1m-13-17l1 3m27 24l3 0m-10-3l3-1m-8 5l4 0m6 88l-1-3m30-32l-2 0m-9-3l-2 0m-17 20l1-2m150-121l-2 2m0 5l0-1m58 104l-1-4m-12 33l-2 2m14-31l-1 1m-1 10l-3 3m-4-16l-2 1m-2-2l-2 2m-16 32l-2-3m-3 3l-2-3m40-26l-2-2m1 2l-3-2m6 0l-2-2m-7-5l0 1m-23 45l1-1m-2 19l1-2m-16-47l3 3m-5 13l1 0m-3-2l3-1m0-2l1 0m149-117l0-2m51-11l-1-3m-366 78l-2-3m17 31l-1-2m-22-37l0 2m-99 155l1-2m-2 17l0-3m19 18l1 1m-19-15l2 1m7 8l2 2m31-60l2-1m-42 17l2 0m27-13l3-2m29 44l1 2m-14-43l1 4m10 19l1 4m-2 30l2-1m-28 8l2-1m-48-64l3 3m-2-3l2 2m40 79l0-2m-3 29l1-3m2-23l0-1m66-97l-2 1m-13 4l-3 0m10-3l-3 1m-14 67l-3-1m23-112l-3-1m13 4l-3 0m-14-6l-3 0m9-41l-1 1m2-3l-1 1m-18 29l0-3m5-2l0-4m-38 35l-1-3m1 13l-1-3m12 28l-1-2m24-50l-3 1m-2 1l-2 1m-64-65l1-1m-8-55l0 1m13 45l1 3m-4-18l1 2m-12-33l1 4m11 37l1 3m1 8l1-1m57 15l-1 0m22-12l-3 1m-3 1l-1 0m-40-2l-1 0m-10-6l-4-2m13 4l-3-1m-24-3l3-1m22 57l3-1m10-3l2-2m-25-5l-1-3m8-1l3-2m13-11l1-1m-17 12l4-1m22-10l0-1m-25 53l0-2m-13-42l3 3m-4-4l2 2m36-16l-1 3" stroke="#dc90d8" stroke-width="4.0" stroke-linecap="round"/>
<path d="M474 344l1 0m15-5l2-1m-23 2l3 0m-24-9l2 5m-18-46l1 3m1 11l2 3m13 34l0 3m0-7l1 2m-19-41l1 2m16-20l-1 1m-13 8l-3 2m27-16l-1 1m1 0l-2 1m41 56l1-2m7-17l1-4m-7 12l1-3m-3 16l1-4m10-36l1-3m-214-46l-1-1m0 6l-4-3m0-2l-2-1m-4-29l0-1m-2 17l0-4m0-7l0-3m-2 18l0-2m8-48l-1 2m2-3l-1 1m4-9l-1 2m42 65l1-2m10-18l3-3m-14 24l0-1m-1 0l3-4m-22 14l-4 1m9-1l-2 0m1-78l3 1m-2-1l1 0m-7-3l4 1m11 11l-1-3m22 39l-3-5m-13-23l-2-3m13 19l0-1m-11-16l-1-1m89 96l4 1m-5-2l2 1m-10-6l-1-3m-6-36l0-4m1 18l0-1m7 27l0-4m-4-7l0-2m63-7l-1-1m-7-32l0-1m5 17l0-3m-2 1l0-5m-99-23l1 0m-9 3l3-1m-10 3l2 0m11-74l3 2m-1-1l1 2m2-1l1 1m17 18l3 3m-48-15l2-3m3-4l1-1m-16 21l2-2m24-26l2-2m31 50l-1 5m-1-14l0 5m-1-4l-1 4m-2 25l-1 2m7 83l4-2m14-7l3-2m-19 9l3-1m0 3l5-2m-9-75l-1-1m-1-1l-3-2m120 80l4 2m-233-58l-2 0m-26 2l-1 0m26-1l-1 0m-19-2l-1 0m-26 23l-1 5m7-6l-1 4m-1 0l0 2m-3 17l0 1m-2-2l-1 4m4-20l0 2m5 41l2 1m4 4l2 1m14-8l-2 1m17-6l-1 0m-23 8l-5 1m25-7l-4 1m57 31l-4 2m37-14l-2 1m-28 11l-1 1m-7 2l-1 0m55-20l-4 1m12-13l-1 3m-71 15l1 3m2 7l2 2m-7-10l0 1m5 6l2 3m-19-39l2 4m-73-74l-2-2m17 12l-2-2m-37 54l-2-2m-10-14l-2-2m-3-6l-2-1m24 26l-3-2m-7-10l-3-2m3 4l-3-3m9-43l-1 1m17-7l-2 1m-28 16l-3 1m34-21l-1 0m-34 22l1-4m-1 13l0-1m-8 77l-2-2m-17-19l-1-1m2 5l-2-2m27 22l-2-1m35-20l1-1m-18 11l2-2m13-11l3-4m-17 13l2-1m21-14l3-2m-73-23l-2 0m10-8l-4 2m-1 6l-2 1m350 64l3 3m-33-183l-4 2m0 3l-2 1m-7 5l-4 3m18-29l-2-4m8 16l-3-4m-11-20l-1-2m13 21l-2-4m-28 28l-1-1m-10-5l-4-2m-1-7l-3-2m3-36l0-3m-1 7l1-5m-4 7l1-4m5-2l1-3m17-2l-3-3m-5-4l-3-3m0 1l4-2m-46 60l1-1m20-6l2-1m-26 10l5-1m-16-54l-1 1m-18 15l-3 3m31-32l-2 1m-10 14l-2 2m-12 13l-3 3m49-32l3 1m4 2l1 1m-12-5l3 1m20 9l2 1m-40-23l-1-4m0-5l-1-3m-3-8l-1-4m61 35l3-3m1-2l1-1m4-15l1-2m-7-29l1 4m-7-19l1 3m4 20l0 1m-8-27l1 3m-195 1l0-3m-8-11l3 0m-28-1l4 1m14 3l2 1m0 21l-1 1m12-12l-2 1m-20 15l-1 0m21-13l-2 1m-32-10l-1 4m0 1l-1 3m3-9l0 1m-82 129l-4-1m2 0l-3-1m32 9l-2 0m19 1l-4-1m5 2l-2 0m-53-8l-2 3m4-1l-1 1m-5 47l1 5m-4-15l1 4m5 18l0 5m-5-54l0 2m3 24l0 4m2 20l0 5m13 26l-1-1m18 23l-2-4m-12-12l-2-1m-3-1l-2-2m3-4l-3-2m-12-25l-1 2m-21 79l2 3m-27-13l-2 0m3 3l-1-1m-9 2l-1 0m-13-1l-5 0m28 1l-2-1m38 21l1-5m-9 8l-2 2m6 0l-3 3m-60 9l-1-4m-5-28l0-3m-3 10l0-1m10 26l-1-4m2 7l-1-3m100-33l-2 0m-10 5l-2 0m-19 7l-3 1m21-6l-4 2m-28-64l0 2m0 41l0 4m0-52l0 5m-2 5l0 2m3 32l0 4m88 45l0 3m-72-9l-1-2m1 5l-1-2m-101-32l3 0m5 3l3 0m-20-1l1 0m18 2l2 0m296 36l-1 4m50-303l-1-4m5 15l-2-4m-1-9l0-1m-17-7l4 2m-17-6l2 0m7 0l3 2m-38 48l0 4m2-24l0 1m2-10l0 2m6-20l-2 2m-3-2l-2 1m2 52l-3-3m10 12l-1-1m-65-70l4-4m20 3l-4-2m20 10l-2-1m-17-9l-3-2m24 13l-1-1m12 10l-3-2m-37 35l2 2m5 0l3 1m5 2l3 1m-34-12l0-2m-1-4l0-2m35 20l-1 0m12 0l-4 0m-79 120l-1-4m-1-4l-1-4m2 3l0-3m32 19l3-2m9-8l2-2m1 1l2-1m-6 2l1-1m-22-8l1 0m2-1l3 0m-25 3l2 0m14-3l2 0m19 3l-2-1m-70-19l2-1m14-2l5 1m-4 2l2 3m10 12l1 1m58 11l-3-1m12 4l-4-1m-58-43l-3 2m-11 8l-1 0m12-5l-2 1m16-13l-4 3m20 8l-2-5m-4-7l-1-3m7 12l-2-3m13 31l-1 4m28-19l-4 1m-21 5l-5 1m18-6l-2 0m-154-175l1-1m-9 6l3-1m-10 5l4-2m-24 3l2 4m428 137l-2 1m2-2l-3 2m-7 9l-2 2m10 29l2 3m-15-23l0 2m13 19l2 4m2 9l1 3m5 0l5 2m-38-83l-2 1m-2 1l-4 1m-1 2l-3 1m24 22l0 3m3-6l2 5m-8-17l2 4m-4 24l1 1m-4 51l2-1m-4 2l4-3m-5 1l1 0m-16 7l2-1m17-6l3-2m7-96l-4 1m18 1l-4 0m-19-8l-4 2m23-11l-1 0m-18 16l-1-2m27-26l1 3m-42-18l5 0m1 0l2 0m6 1l2 0m13-4l3 0m-38 28l4 3m-8-8l3 2m21 12l3 2m24-96l-4-1m-5-3l-5-1m-5-2l-1 0m-52 16l1-2m-59 47l4 1m-6-5l3 1m-8-49l1-2m-4 4l3-4m-11 24l2-2m62-26l-3-3m4 5l-3-2m-47-7l-1-2m-160 75l1 2m-6-9l3 3m0 2l2 2m-20-2l0 3m-3-3l0 1m1 2l0 3m19 17l1 0m-6 0l4 0m34-24l-3 3m5-8l-1 2m-12 17l-3 3m6-13l-1 0m-54 81l1 4m-5-23l1 5m1-1l0 2m-3-15l1 2m-1 3l1 3m59 1l3-4m-49-35l2-1m-14 6l3-1m44-4l0 2m8 9l0 1m1 4l2 4m2 5l1 5m31-25l-2 4m9-22l-1 3m0-11l-2 4m-35 41l3-1m22-16l1 0m-9 6l2-1m-6 31l-3-2m22 15l-2-1m-8-6l-1-1m-12-6l-1-1m33 20l-4-3m-35-25l-3-1m-86-84l0-2m1 3l-1-4m-1 0l-1-5m3 8l-1-2m18 24l1 0m-6 0l2 0m-7 4l2 0m29-13l-1 5m-19-30l-1-1m7 4l-3-3m-8-6l-2-2m15 15l-2-2m-26-5l-1 1m9-12l-2 2m0 51l0-3m0 5l0-1m1 18l-3-2m12 5l-3-2m35-80l-2-1m-20-9l-3-1m32 14l-3-1m-30-11l-2-1m-7 18l-1 2m4-15l-1 2m6-13l-1-4m-89 21l3 4m13 18l1 1m-16-27l1 2m12 28l2 4m19-5l5 0m1-4l4-1m-24 6l2 0m35-6l4 0m-33 89l0-2m-1 3l0-2m3 21l0-1m26-48l-2 0m-4 2l-3 0m2 1l-3 0m-7 10l2-3m-5 6l2-4m-1 3l2-3m140-117l-2 1m4-1l-2 3m-6 6l0-2m40 142l-3 3m21-31l-2 4m-11 11l-2 2m2 0l-3 4m17-29l-2 3m-11-2l-4 2m-9 3l-4 1m14-3l-4 1m-11 3l-5 2m12 22l-1-1m-6-6l-3-3m-2-5l1-1m44-13l-2-1m19 13l-2-2m11 13l-4-4m-5-7l-3-3m9 16l-2-2m-26-32l0 4m-28 52l0-2m2-7l1-2m-23-40l2 2m-17 20l2 0m18-5l4-1m-12 3l3-1m-282-50l2-3m1-8l2-3m425-59l0-2m2-4l0-5m54 10l0-4m3 0l0-2m31 15l2-2m-401 73l-1-3m13 25l-3-4m5 3l-1-2m-23-39l1 3m-1-13l0 4m-99 158l0-5m-1 2l1-2m-4 18l0-4m11 14l4 2m16 12l2 1m-11-9l1 0m12 14l3 1m-13-68l1 0m7 0l3-2m-5 4l1 0m-2-3l3-1m22-3l2 4m15 43l1 3m-7-5l2 4m0-7l2 5m1 5l1 3m0-2l3-1m-20 10l3-2m-16 6l4-2m-52-11l4-2m-6 3l1-1m0-52l3 3m4 7l3 3m31 84l0-3m-1 1l1-2m1 18l0-2m0-32l1-3m21-81l-2 0m22-4l-2 1m-17 4l-4 0m35-7l-3 0m-6-1l-4 1m4 71l-4-1m12-1l-5-2m-32-60l-1 3m57-55l-2-1m3 2l-4-1m-9 0l-1-1m-2-49l-1 2m-7 7l-3 3m24-19l-3 2m-24 39l0-4m1 0l0-5m-4 10l0-5m-28 50l-1-4m5 20l-1-5m-6-31l0-2m7 38l-1-4m-2-1l0-1m8-39l-4 1m11-4l-1 1m-16 4l-5 1m19-2l-2 1m-60-70l3-1m10-19l0 1m-11-39l1 2m6 26l1 4m-8-29l0 2m1 0l2 4m9 43l2-3m81 2l-3 1m-22 13l-3 1m7-5l-4 2m20-8l-4 1m-32 5l-3-2m-1-6l-3-2m-4 2l-2-2m7 1l-4-3m-28-1l2-1m49 38l3-1m-25 14l1-1m-13 0l-1-3m21-15l2-1m-10 2l4-2m-13 49l-1-3m6-6l-1-5m-1 13l-1-5m-21-51l0 1m2 2l1 1m-10-15l2 3" stroke="#5638ad" stroke-width="4" stroke-linecap="round"/>
<path d="M496 158l-1 3-3 3 0 4 0 4 3 5 3 5 2 5 3 5 3 6 3 4 4 4 5 2-1-7 0-6 1-6 1-5 0-6 0-6-1-6 1-5 0-6 1-6-1-8-7 4-3 3-4 3-4 2-3 3zm-50-133l1 4 0 3-1 3 0 6 1 6 3 5 3 5 3 4 3 5 3 5 2 2 3 2 6 2 5 0 6 0 6-3 5-1 6-1 6 1 3 1 4-2 4-4 3-6-2-7-1-5-1-6 0-5 1-5 0-6 1-5-1-6 0-6-5 2 1-2-4-2-6 0-6 1-5-1-5-1-6-2-2-2-1-6 1-5-5-1-6-2-6-1-6 0-6 1-5 1-6 2-6 0-6-1 0 5-1 6 0 5 3 5 5 3 4 3 4 3zm-61-22l-1 6-4 3-4 4-3 5-1 5-1 6-2 4 0 3 0 3 0 5 1 5 2 5 1 2 2 3 3 3 4 1 5 0 4 4 2 5 1 5 2 5 2 4 1 5 2 3 3 1 4 2 5 1 5 3 4 2 5 2 4 2 3 0 4 2 2-1 3-2 3-5 2-5 2-5 4-4 4-4 2-4 3-5-1-5-2-6-3-5-3-5-2-5-3-6-3-5-4-4-1-6-1-6-2-3-2-3-3-3-4-3-1-3 0-6 0-6-1-6-7 1-6 0-6 1-6 0-6-1-6-1-6 0-6 1 2 4 3 3zm100-1l3 2 5 2 5 0 5 1 5 0 4 2 2 0 4-2 1-5 0-5 0-6-7 0-6 2-6 0-6 0-5 0-5 0 1 2 0 3zm-87 102l-4 2-4 1-3 5-3 5-3 5-4 4-5 3-3 2-3 4 0 4 0 4 3 3 3 3 4 4 3 3 3 4 4 5 3 3 5 1 4-1 4-3 4-3 5-2 3-1 3 0 2-2 1-3 1-6 2-5 2-5 2-5 1-6-1-3 1-3-1-3-1-4-2-2-3-3-4-3-4-2-6-1-4 1zm68 122l0 6 2 6 0 5-1 5-1 5 1 6 1 5 2 4-4 3-4 2-5 3-5 2-5 3-4 3-4 3-2 4 0 3 1 3 0 5 2 6 0 6 1 5 2 6 4 4 3 5 2 5 2 4 3 2 3 0 5-3 6-2 5 0 6 1 6-1 4-2 0-5 1-6 1-5 3-6 2-5 3-6 2-5 2-6 2 0 1 0 4 2 5 0-1-6 0-6 1-5 1-6 0-6 0-5-1-6 0-6-1-5 1-6 0-6-1-6-1-5 0-6 0-5-3-3-3 0-3 1-5 1-6 2-5 1-6 2-5 1-5 1-6 3zm-22-109l-5-1-5 3-3 5 0 5 0 5 0 6-1 5-4 4-4 4-2 5 2 5 5 3 5 1 4 3 4 2 4 4 6 2 6-1 5-3 5-3 5-4 3-5 0-5-2-5-2-5-3-4-3-5-3-4-3-4-4-3-3-3-3-4zm-58 94l4 3 4 2 4 2 2 4 1 4-1 5 2 5 1 6 1 5 0 5 2 6 1 5 2 5 2 5 0 6 2 5 5 3 5 0 4 1 3-1 3 0 5-2 5-4 5-3 6-2 6-1 6-2 4-5 1-6-2-7-1-5 0-6-1-6-1-6-1-7 5-2 6-2 6-1 4-4 4-5 4-5 5-2 4-1 3-4 0-5-3-5-2-5-2-4-1-5-1-5-3-5-4-5-7-1-4 1-3 2-4 4-5 3-5 3-5 3-4 5-6 1-5-4-4-4-4-4-6-2-5-1-4 0-3 0-5 0-4 1-5 1-5 1-4 3-3 4-1 6-1 6-1 6-1 5-1 6zm-26-171l-4-2-5-3-4-3-5-1-5-2-4 0-4 2-5 3-5 2-5 2-2 1-1 3 0 5-1 6-1 6-1 6-2 5 0 7 2 6 5 4 3 3 4 3 1 2 1 4 1 4 3 3 5 4 4 4 3 5 5 4 5 3 6 2 5 4 1 1 2 1 2-1 4-4 3-4 3-5 4-3 4-4 3-4 3-5 2-4 1-1 1-2 1-5 1-6-1-5-3-4-3-4-4-3-3-2-5-3-4-2-3-2-2-5-2-5-2-6zm2 105l-2 0-2 1-5 2-6 2-4 3-4 4-3 5-3 4-3 5-4 4 0 5 2 6 3 5 2 5 3 6 3 4 4 5 4 4 3 3 4 1 6 0 5-2 5-3 5-3 5-1 3-1 2-3 0-5 0-5 2-5 1-5 1-6 1-5-2-4-4-4-4-4-5-3-4-5-4-5-3-5zm-96-148l-2 3-1 4 0 4 0 4 3 3 3 3 5 2 5 2 5 2 5 3 5 2 4 2 5 3 6 1 6 0 5-3 6-2 4-2 5 0 4 1 5 1 5 1 4 2 5 0 5-1 5-3 3-4 3-4 2-5 3-5 1-2 2-3-2-3-2-2-2-4 0-4-5-1-6-1-6 1-6 1-5 0-6 0-6-1-6 0-6 1-5 1-6 0-6-2-6-1-5 0-6 1-6 1-6 1-5-1-3 2zm35 79l2-2 1-2 1-6 1-6 1-6 1-5 1-7-1-4-4-3-6-2-5-3-5-3-4-5-5-4-4-3-7-2-6 1-4 5-2 4-3 3-3 4 0 5-1 5 1 5 2 5 1 5 2 5 2 5 3 0 5 2 5 2 4 4 5 2 5 3 5-2 5 0 5-1zm24 179l-5 2-5 0-6 0-3-1-2-1-6-3-5-2-5-3-4-4-4-2-4-1-5 0-5 0-6-1-5 0-5 1-3 2-5 1-3 3-1 4-1 6 0 6-1 6-1 5-1 6-1 6-3 5-1 3 0 3 0 2 1 3 3 4 5 3 5 0 5 0 6 0 6-1 5-2 5-3 6-3 5-2 6-1 2 0 2 2 2 5 3 5 2 5 2 6 1 5 4 5 3 2 4 1 4 0 3 0 3-1 2-2 5-1 6-2 5 0 5-2 5-1 5-2 5-3 5-2 5-3 3-4 3-5 3-4 4-3 4-3 4-3 5-2 5-1 3-2 4-3 0-4 0-4 0-6 0-6-1-6-2-5-1-6-1-5 0-6-1-6-2-5-3-4-3-2-4-2-3-1-3-1-3-2-3-1-5 3-4 3-4 3-5 1-5 1-3 2-4 3-3 3-4 4-4 4-3 4-3 4-2 5zm-25-91l1 4 5 3 4 0 3 1 4 1 5 1 5-3 4-4 3-5 4-4 5-4 5-3 4-4 3-5 0-6-3-5-5-4-5-3-5-4-4-3-5-2-4 1-3 4-3 3-4 4-4 4-2 4-3 5-3 4-1 5 0 6-1 4zm-2 10l-5 3-3 5-3 4-2 5-2 5 0 5 1 5 0 5-1 5-1 6 2 5 2 5 3 1 1 1 4 4 4 3 4 5 3 3 2 3 5 0 5 1 6 0 3-2 2-3 2-5 3-5 2-5 4-5 4-4 3-4-1-5-3-5-4-4-3-5-3-5-2-6-2-6-2-5-4-3-5-1-5 0-4 0-5-1zm130 119l-5-1-4-2-4-3-5 1-5 2-5 2-5 1-5 2-5 3-4 4-4 4-3 4-2 3-3 2-4 2-4 5-5 3-5 2-6-1-6 0-5 2-5 3-4 3-5 3-3 1-3 5-1 4 6-1 6 0 6 1 6 2 6 0 6-1 6 0 6 0 5-1 6-1 6-1 6 0 6 1 6 0 6 1 6-1 6 0 6 0 6 1 6 0 6 0 6-1 6 1-2-5-2-5-2-6-1-5-1-6-3-5-2-5-1-5-2-5-3-5zm-196-196l2 6 3 5 4 4 4 4 4 2 6-1 5-1 4-2 4-2 3-4 4-5 2-4 3-3 2-4 1-7-4-5-5-2-4-2-4-3-4-3-4 0-5 2-3 3-4 4-4 3-4 4-3 5zm284 202l-3 2-1-1-3 0-3 2-2 5-2 6-1 5-2 6-2 6-3 5 0 5 2 4 3 3 3 3 6-1 5 0 4-2 0-5-1-6 1-5 1-6 1-5 1-5 0-6-2-5zm-339-305l1 4-1 4 1 4 3 4 6 2 5 1 6 2 5 3 5 3 5 2 6 1 5 0 5 2 5 0 5-1 5-1 4 0 3-2 4-3 4-4 3-5 1-5-1-4-5-5-4-3-5 0-6-1-6 0-6 1-6 1-5 1-6 0-6 0-6-1-5-1-6 0-6-1-6 0zm-10 30l2-4 3-4 2-4 0-5-1-4-2-5-2-4-5-1-6-2-5 0-6 0-6 1-6 2-6 2-6 0-5-2-6 0-6 1-4 3-5 4-1 4-2 3-1 3-2 3 0 4 1 3 4 5 3 5 3 6 3 2 3 3 4 0 4 1 6-1 5-2 6-2 6-1 5 0 6-1 4-1 4-3 3-3 3-3zm23 135l4 3 6 2 6-1 5-3 4-3 4-3 5-3 4-4 4-3 4-4 3-4 3-3 1-5-1-4-2-4-3-5-2-4-3-4-2-2-2-2-1-2-3-2-5-1-5 2-5 1-4 2-5 3-5 1-6 1-5 0-4 4 0 6 2 5 1 5 0 6 1 5 2 5 1 5 1 5zm-174-118l1 3 3 1 5 0 4-1 5 3 5 3 5 4 4 3 5 4 5 2 5 2 6 2 5-4 5-3 5-3 5-3 5-2 6-2 3-1 2-3-1-4-3-5-4-5-3-5-2-6-2-5-3-7-5-3-4-2-3-4-2-4-3-5-7-2-5 0-6 2-6 2-6 0-6-1-5 0-6 0-6 0-6 1-6 0-4 0 2 4 1 6 2 5 1 6 0 6 2 5 2 6 3 5zm98 8l-3 2-5 2 0 4 0 4 2 3 0 3 3 5 4 4 4 4 2 5 1 5 2 6 4 2 3 2 4 1 4 2 5 0 4-2 4-3 4-2 4-2 1-3 1-4 1-5 0-4 0-5-2-5-2-5 0-5 0-6-1-3-1-4-4-1-3-2-3-1-4-1-6 2-6 1-5 3-6 1-2 2zm-36-51l1 3 1 2 2 1 3 1 3 0 3 1 5-2 5-2 5-3 4-2 7-6-9-2-5 1-5 2-6 0-5-1-5-1-6 1-5 2 4 2zm45 164l-2 3-3 2-3 4 0 5 1 6 0 5 0 5 0 6 0 5 0 6-1 5 0 6 1 5 1 3-1 4-1 3-1 4 1 4 4 2 4 3 4 4 3 5 3 5 3 5 4 3 5-1 3 0 2-1 2 1 2 0 3 0 4-2 4-2 4-1 2-2 3-1 2-2 2-2 1-6 1-5 2-2 2-3 5-3 6-2 5-2 5-3 5-3 2-2 3-2 1-3 2-3 0-3-1-3-2-6-3-5-1-6-1-5-1-5-2-4-3-4-3-4-3-2-2-2-4 0-2 0-6 1-5 0-6 1-6 0-5 0-6-1-5-1-5-1-5-3-5-2-5-3-4 1zm-4-31l0 5 1 6 1 5 1 6 2 3 4 1 5 0 6 3 5 3 6 2 6 0 6 0 6 0 5 2 4 0 6 0 5-5 1-7-1-5-2-5-1-6-3-5-1-5-1-6-1-5-1-6-3-4-3-2-4-3-3-2-5-1-5 1-5 2-5 1-5 2-4 1-5 1-2 4-4 5-2 5-4 5zm104 172l-5 3-3 5-4 3-5 2-5 2-4 4-3 4-4 3-4 4-2 3-2 4 2 4 2 4 6 0 6 0 6 0 6 0 6 0 6 1 5-1 6-1 6-1 6 0 6 0 6 0 6 0 6 0 6 0 6 0 6 3 6 1 6 0 5-2 7-1 0-5 1-5-2-3-3-5-3-5-3-5-3-5-3-5-3-5-4-4-6 0-5 1-6 1-5 2-5 2-6 2-5 2-5 2-5 0-4-2-4-3-4-4zm-43-40l3 3 3 5 4 3 4 5 4 4 5 3 4 3 5 4 4 2 5 0 3-3 0-5 0-5 3-5 3-5 3-5 0-6 0-6 0-5 3-5 1-5-2-5-5-3-4-3-5-1-4 0-6 1-5 2-6 2-5 2-4 4-4 4-2 2-2 4-2 5-1 4zm-73 74l-4-3-4-1-5 2-3 4-3 4-4 3-4 0 4 1 6-1 6-1 6-2 6 0 4 2-2-1-1-3zm-25-220l4 2 3 1 5 0 5 1 5 1 5 2 5 0 3-4 1-4 3-4 4-3 2-4 0-6-3-5-3-5-4-4-4-4-4-3-4 0-4 2-3 3-5 2-4 1-4 3-4 3-1 6-2 4 0 5 1 6zm-21 61l-2 3 0 4 1 3 0 2 2 6 1 5 1 5 3 5 3 5 3 5 0 6-1 6 1 6 6 4 5 1 5 0 3 0 0 5 0 6 0 5 0 6 0 6 1 6-1 5-2 6 0 6 0 6 2 3 1 4 4 2 3 2 3 0 2 2 2 0 3 0 6-1 5-2 5-3 6-3 5-3 4 1 4 1 4 4 4 4 4 4 3 5 5 3 5 3 5 3 5 2 5-1 4-2 5-4 4-4 3-5 3-5 3-4 4-3 0-5-1-5-4-4-4-3-4-3-4-4-4-3-5-2-4-3-2-2-2-3-4-2-3 0-5 3-4 3-5 2-4 3-4 3-5-3-3-4-3-5-4-5-3-5-4-4-4-3-4-5-4-4-1-4 2-1 1-4-1-5 0-4-2-5 0-6-2-6 0-6 1-6 1-6 1-6-2-7-6-4-6 1-6 1-5 1-5 0-6 2-5 1-5 1-4 0zm43 143l-1 4 0 4 3 5 2 5 3 5 4 5 6 0 6-1 5-2 6-1 5 0 6 1 5 1 6-1 5 1 6 0 6 1 4-5 1-2-1-5-2-2-5-2-5-4-4-3-4-4-5-3-5-2-5-2-4-4-1-2-3-1-5 2-5 2-6 1-5 1-6 1-4 3zm-49-149l3 2 3 2 4 2 4 0 5-1 5-2 6-3 5-1 5-3 5 0 5-1 4-1 5-2 3-3 2-4-1-3 1-3-1-4 0-5-1-4-2-3-2-3-4-1-3-2-6-1-5-1-6-1-5-2-3 0-4-1-5 1-5 1-5 1-5 1-3 3-2 2-3 3-3 3-2 4 1 4 3 5 3 4 1 5 1 5 0 3zm-1 15l-4-1-5-1-6 1-5 3-5 3-5 3-5 2-7 1-4 2-2 6 0 5-1 5 0 6 0 5 3 4 3 3 3 4 3 5 4 3 5 2 5 1 5 2 4 1 4-1 4-3 5-2 4-3 4-3 4-2 4-1 4-3 1-5-1-6-2-6-3-5-3-6-2-5-2-6-3-5zm-11 68l-2 5-1 5-1 5 0 6 0 5 0 6 1 4 2 4 4 1 5 2 5 3 6 1 5 1 6-2 5 0 5-1 5-2 1-5 0-6-1-5 0-5 1-5 0-6 0-5 1-5 0-5-1-4-2-4-4-1-4-3-4 1-3 0-5 2-6 2-5 2-5 3-5 3zm-31-189l-3-2-4-1-4 0-4 1-2 3-1 4 1 4 0 3 0 5 0 6-1 6-1 6-1 6-2 6-1 6-1 6 0 5 0 6 1 6 0 6 1 6 0 6 2 6-1 6 0 6-1 6 4 4 3 4 4 3 3 2 4 1 4 0 4 0 6-1 4-3 5-3 4-5 5-2 5-2 2-1 2-2 0-3 1-2 1-2 1-3-1-6-1-6-2-5-2-6-2-5-1-5-2-6-1-5-1-6-1-5 0-5-1-6-1-5-3-4-2-5-4-4-5-4-4-4-3-5-2-3zm-20 237l5 1 6 1 5 0 6 0 5-2 6-3 7-1 2 7 1 5 0 5 0 5 1 5 2 6 2 4 1 6 0 3 5 0 6 1 6 0 5 1 6 0 6 0 2-5 5-3 4-2 5-2 4-4 3-4 1-3 1-3-1-3-2-4-3-4-3-3-4-1-6-1-5-2-5-2-6-1-6 1-5-1-6-1-5-2-5-1-3 2-1-6 1-5 1-6 0-6 0-5-1-6 0-5-1-2-1-2-4-4-3-4-5-3-4-3-5-2-5-3-3-1-4 1-3 4-3 2 1 5-1 5-2 6 0 6-1 5 0 6 1 5 1 6 0 6 0 5zm3-310l-1 0 0 5 0 6-1 6-2 6-1 6 0 6 1 6 1 6 1 6 0 6 0 5 2 0 4 1 5 1 5-1 4-3 0-4 0-3-1-3 0-3-1-5-1-6 0-6-2-5-1-6-1-5-1-6-2-6-5-2zm-4 247l5-6 3-5 1-1 1-5 3-5 1-6 1-5 0-6-4-3-3-4-4-4-2-2 1 4 0 6 0 6 0 6 0 5-1 6-2 6-1 6zm1 66l-1 6 0 6 0 6 1 6-1 5 0 6-1 8 8 0 5-1 6-2 6 0 5 1 6 1 6 0 5-1-1-5-2-6 0-6 0-6-1-6-2-6-3-4-4-2-5-1-5-1-6 0-5 1-6 1zm177-227l-2 2 0 4 0 4 1 4-1 2 1 3 4 4 4 3 3 1 4-1 4-2 4-2 5-1 3-3 2-4 0-4 0-5-1-5-2-4-1-5-3-2-5-2-5 2-4 3-4 3-5 3zm32-10l5-1 6-2 1-5-4-4-5-2-5 3 0 3 0 3 1 2zm-18-55l-3 2-3 0-2 2-2 3 1 3 0 3-1 4 0 3 4 5 4 4 4 3 3 1 4 0 3-2 2 0 3 1 4 0 3-2 2-3-1-4 0-4-1-5-3-4-4-3-4-2-3-3-4-3-3 0zm33 57l-6 1-4 2-4 3-1 5 0 3-1 4 1 6 5 4 6 1 5-1 5-2 4-5 1-5-2-6-1-4-3-3zm36-5l0-5-2-5 0-5-2-3-2-2-4-1-4 3-5 3-5 2-5 3-4 4-3 4 1 6 1 5 2 4 3 4 3 3 5 2 5-1 2-4 2-5 4-4 4-4zm-38-5l6-1 5-2 4-2 4-4 4-4 3-4 5-3 2-3 1-3 0-4-3-3-3-1-6 1-6 0-5-1-6-3-3 0-3 3-1 3-2 5-2 5-2 5-1 7 3 6zm26 119l2-2 3-1 0-3 1-2-1-3 0-3-3-4-3-5-3-1-2-2-2-1-3-2-3 1-3 1-4 3-4 3-4 3-2 2-3 2-1 3-2 3 0 3 0 5 4 3 3 4 5 1 4 1 6-2 5-2 6-2 2-3zm-20 10l-1 3-1 3 0 2 2 3 2 2 2 2 2 4 4 2 5-1 4-3 3-4 0-6-3-4-3-4-4-1-6-2-3 1zm36-15l-3 5 1 6 3 4 6 2 6 0 5 0 5 0 4-2 2-3 2-4 1-5-1-5-4-4-6-1-5 2-6 2-5 1zm-1-32l-3 2-2 1-2 2-1 2-1 3-1 2-3 3-1 4 2 4 4 2 4 1 3 3 4 1 3 0 4-2 2-1 3-2 3-2 2-3 0-4 0-4-2-3-3-3-4-2-4-3-3-1zm-24 76l1 4-1 3 2 4 2 6 5 2 5 0 6-2 5-1 6 0 6 0 3 0 3-1 2-2 4-1 3-3 1-4-3-5-2-5-1-4-1-5-3-4-5-3-4 0-5-1-4 2-4 4-4 3-4 2-5 2-5 3-2 3zm85-117l4-4 0-6-3-5-4-2-3-2-4-1-3-1-6 2-5 1-3 2-3 3-2 4-2 3-2 4-2 2 0 3 1 3 3 1 3 2 2 2 6 1 5-2 5-3 4-3 5-2zm-47 32l-1 2-2 2 0 3 1 3 1 2 2 2 4 4 4 5 2 3 4 2 4-2 3-3 2-3 3-2 1-3-1-3-3-3-1-2-2-4-2-4-3-2-2-2-4 0-3 0-4 3zm206 13l5 0 4 0 5-3 3-4 0-4 1-5-4-6-6-3-4 2-3 2-3 3-1 4-2 3 0 5 2 4zm-14-52l-3 1-3 1-3 1-2 2-3 4-1 5 0 5 5 4 3 6 5 2 6 0 5-3 3-1 4-1 0-4 0-3-2-2 1-3 0-3 0-6-3-4-4-3-5 2zm52-5l0-4 0-3-1-3-1-3-6-4-6 1-5 1-5 2-6 0-5 1-5 0-6 0-3 1-3 2-1 3-2 4 1 3 2 3 5 3 4 3 4 2 4 4 4 3 5 2 5-2 5-4 4-5 5-3 4-4zm-14 34l-4 1-4 2-1 4 1 5 4 4 3 3 4 2 3 2 4-1 3-1 2-2 3-1 1-6 0-5-1-6-2-4-2 1-3-1-2 1-3 1-3 1zm-424-34l6 1 5-1 4-3 4-3 4-4 2-4 4-3 2-4 1-4-1-3-1-4-3-2-3-1-4 1-5 3-5 2-4 3-5 3-5 2-2 3-1 5 1 4 2 4zm-46-39l-3 0-3 0-3 3-2 2-1 4-1 3 3 3 2 3 3 3 1 4 2 4 1 3 3 2 3 0 3 0 3-1 3-1 3-1 3 0 4-1 3-3 1-4-1-4-2-3-1-3-2-3-1-3-4-4-4-3-6-1-4 1zm15 75l3 3 4-1 5-1 4-3 5-1 5 0 6 0 4-3 1-5 0-6 0-6 1-6-2-5-4-3-4 0-3 1-5 3-5 2-5 2-5 3-5 2-4 3-1 5 1 4 1 5 1 4z" fill="#ebece6" stroke="#d8cce8" stroke-width="1.2"/>
<path d="M470 268l8 3m-77-47l11-3m-123 75l5-11m-153 19l2-8m239 53l-3-11m71-159l0 18m-8-163l-23 15m-302 179l19-5m46 20l-13-13m-133 67l-3 3m59-57l9-4m222-146l20-13m41-74l20 2m-72 17l-1-14m-288 120l-13 2" stroke="#bda5de" stroke-width="3.6" stroke-linecap="round" fill="none"/>
<path d="M470 268l8 3m-77-47l11-3m-123 75l5-11m-153 19l2-8m239 53l-3-11m71-159l0 18m-8-163l-23 15m-302 179l19-5m46 20l-13-13m-133 67l-3 3m59-57l9-4m222-146l20-13m41-74l20 2m-72 17l-1-14m-288 120l-13 2" stroke="#5638ad" stroke-width="3.2" stroke-linecap="round" stroke-dasharray="4 6" fill="none"/>
</g>
<g transform="translate(546.5,187.7)">
</g></g>
<rect x="102.4" y="639" width="44.6" height="57.2" fill="#7f7f7f" stroke="#000" stroke-width="4.8" stroke-linejoin="round"/>
<rect x="174.7" y="654.7" width="44.8" height="41.5" fill="#a2a1a6" stroke="#000" stroke-width="4.8" stroke-linejoin="round"/>
<path d="M124.7 627.7V645.9M112.7 627.7H136.7M112.7 645.9H136.7" stroke="#000" stroke-width="2.2" fill="none"/>
<path d="M197 645.4V660.2M185 645.4H209M185 660.2H209" stroke="#000" stroke-width="2.2" fill="none"/>
<circle cx="124.3" cy="620.4" r="3.3"/>
<circle cx="103.6" cy="630.8" r="3.3"/>
<circle cx="145.8" cy="633" r="3.3"/>
<circle cx="117.2" cy="635.9" r="3.3"/>
<circle cx="131.5" cy="635.9" r="3.3"/>
<circle cx="124.3" cy="644.4" r="3.3"/>
<circle cx="110.7" cy="648.4" r="3.3"/>
<circle cx="138.6" cy="645.2" r="3.3"/>
<circle cx="196.6" cy="639.4" r="3.3"/>
<circle cx="184.4" cy="648.4" r="3.3"/>
<circle cx="196.6" cy="650.2" r="3.3"/>
<circle cx="209.5" cy="650.2" r="3.3"/>
<circle cx="196.6" cy="657.3" r="3.3"/>
<circle cx="209.5" cy="658.7" r="3.3"/>
<circle cx="184.4" cy="662.3" r="3.3"/>
<path d="M76.5 487.1V697.2M66.5 697.2H246.3" stroke="#000" stroke-width="3" fill="none"/>
<path d="M66.5 697.2H76.5" stroke="#000" stroke-width="3"/>
<text x="58.75" y="704.4" font-size="20.5" font-weight="bold" text-anchor="end">0</text>
<path d="M66.5 645.05H76.5" stroke="#000" stroke-width="3"/>
<text x="58.75" y="651.73" font-size="20.5" font-weight="bold" text-anchor="end">3</text>
<path d="M66.5 592.9H76.5" stroke="#000" stroke-width="3"/>
<text x="58.75" y="599.05" font-size="20.5" font-weight="bold" text-anchor="end">6</text>
<path d="M66.5 540.75H76.5" stroke="#000" stroke-width="3"/>
<text x="58.75" y="546.37" font-size="20.5" font-weight="bold" text-anchor="end">9</text>
<path d="M66.5 488.6H76.5" stroke="#000" stroke-width="3"/>
<text x="58.75" y="493.7" font-size="20.5" font-weight="bold" text-anchor="end">12</text>
<path d="M124.7 697.2V706.2" stroke="#000" stroke-width="3.4"/>
<path d="M197.1 697.2V706.2" stroke="#000" stroke-width="3.4"/>
<text x="124.7" y="730.8" font-size="20" font-weight="bold" text-anchor="middle">CTL</text>
<text x="197.1" y="730.8" font-size="20" font-weight="bold" text-anchor="middle">ETX</text>
<path d="M124.3 608V596H196.6V627.3" stroke="#000" stroke-width="3" fill="none" stroke-linejoin="round"/>
<path d="M161.7 559.55L161.7 554.05M161.7 559.55L166.93 557.85M161.7 559.55L164.93 564M161.7 559.55L158.47 564M161.7 559.55L156.47 557.85" stroke="#000" stroke-width="2.3" fill="none"/>
<text x="168" y="449.75" font-size="20" font-weight="bold" text-anchor="middle">P2</text>
<text transform="translate(20.2,592) rotate(-90)" font-size="20.5" font-weight="bold" text-anchor="middle">RAC</text>
<rect x="371.5" y="589.7" width="43.9" height="106.3" fill="#7f7f7f" stroke="#000" stroke-width="4.8" stroke-linejoin="round"/>
<rect x="443.8" y="620.6" width="43.9" height="75.4" fill="#a2a1a6" stroke="#000" stroke-width="4.8" stroke-linejoin="round"/>
<path d="M393.5 577.9V597.8M381.5 577.9H405.5M381.5 597.8H405.5" stroke="#000" stroke-width="2.2" fill="none"/>
<path d="M465.8 613.5V623M453.8 613.5H477.8M453.8 623H477.8" stroke="#000" stroke-width="2.2" fill="none"/>
<circle cx="393.5" cy="570.9" r="3.3"/>
<circle cx="393.5" cy="577.9" r="3.3"/>
<circle cx="380.8" cy="587.3" r="3.3"/>
<circle cx="406.1" cy="584.3" r="3.3"/>
<circle cx="406.1" cy="591.3" r="3.3"/>
<circle cx="393.5" cy="587.3" r="3.3"/>
<circle cx="386.8" cy="600.7" r="3.3"/>
<circle cx="399.7" cy="599.5" r="3.3"/>
<circle cx="453.3" cy="612.3" r="3.3"/>
<circle cx="444.6" cy="615.8" r="3.3"/>
<circle cx="487" cy="614.1" r="3.3"/>
<circle cx="469.7" cy="615.8" r="3.3"/>
<circle cx="453.3" cy="623.4" r="3.3"/>
<circle cx="469.7" cy="623.4" r="3.3"/>
<circle cx="478.4" cy="617" r="3.3"/>
<circle cx="461.5" cy="620" r="3.3"/>
<path d="M345.4 486.3V697M335.4 697H514.6" stroke="#000" stroke-width="3" fill="none"/>
<path d="M335.4 697H345.4" stroke="#000" stroke-width="3"/>
<text x="327.5" y="704.2" font-size="20.5" font-weight="bold" text-anchor="end">0</text>
<path d="M335.4 644.7H345.4" stroke="#000" stroke-width="3"/>
<text x="327.5" y="651.82" font-size="20.5" font-weight="bold" text-anchor="end">3</text>
<path d="M335.4 592.4H345.4" stroke="#000" stroke-width="3"/>
<text x="327.5" y="599.45" font-size="20.5" font-weight="bold" text-anchor="end">6</text>
<path d="M335.4 540.1H345.4" stroke="#000" stroke-width="3"/>
<text x="327.5" y="547.07" font-size="20.5" font-weight="bold" text-anchor="end">9</text>
<path d="M335.4 487.8H345.4" stroke="#000" stroke-width="3"/>
<text x="327.5" y="494.7" font-size="20.5" font-weight="bold" text-anchor="end">12</text>
<path d="M393.45 697V706" stroke="#000" stroke-width="3.4"/>
<path d="M465.75 697V706" stroke="#000" stroke-width="3.4"/>
<text x="393.45" y="730.8" font-size="20" font-weight="bold" text-anchor="middle">CTL</text>
<text x="465.75" y="730.8" font-size="20" font-weight="bold" text-anchor="middle">ETX</text>
<path d="M393.3 558V546.4H465.6V600" stroke="#000" stroke-width="3" fill="none" stroke-linejoin="round"/>
<path d="M431.05 510.3L431.05 504.8M431.05 510.3L436.28 508.6M431.05 510.3L434.28 514.75M431.05 510.3L427.82 514.75M431.05 510.3L425.82 508.6" stroke="#000" stroke-width="2.3" fill="none"/>
<text x="438.5" y="449.6" font-size="20" font-weight="bold" text-anchor="middle">P7</text>
<text transform="translate(288,591.3) rotate(-90)" font-size="20.5" font-weight="bold" text-anchor="middle">RAC</text>
<rect x="636.6" y="518.9" width="44.9" height="177.5" fill="#7f7f7f" stroke="#000" stroke-width="4.8" stroke-linejoin="round"/>
<rect x="709.7" y="594.9" width="43.7" height="101.5" fill="#a2a1a6" stroke="#000" stroke-width="4.8" stroke-linejoin="round"/>
<path d="M659.2 509.7V522.4M647.2 509.7H671.2M647.2 522.4H671.2" stroke="#000" stroke-width="2.2" fill="none"/>
<path d="M731.6 581.6V604.3M719.6 581.6H743.6M719.6 604.3H743.6" stroke="#000" stroke-width="2.2" fill="none"/>
<circle cx="652.1" cy="508.9" r="3.3"/>
<circle cx="666.2" cy="508.9" r="3.3"/>
<circle cx="680.4" cy="509.7" r="3.3"/>
<circle cx="638.2" cy="514.2" r="3.3"/>
<circle cx="666.2" cy="515.4" r="3.3"/>
<circle cx="652.1" cy="520.1" r="3.3"/>
<circle cx="659.2" cy="527.1" r="3.3"/>
<circle cx="645" cy="517" r="3.3"/>
<circle cx="731.6" cy="575.7" r="3.3"/>
<circle cx="731.6" cy="582.5" r="3.3"/>
<circle cx="744.3" cy="587.8" r="3.3"/>
<circle cx="719.3" cy="592.9" r="3.3"/>
<circle cx="731.6" cy="592.5" r="3.3"/>
<circle cx="744.3" cy="598.4" r="3.3"/>
<circle cx="731.6" cy="603.5" r="3.3"/>
<circle cx="731.6" cy="610.8" r="3.3"/>
<path d="M611.1 487.5V697.4M601.1 697.4H780.7" stroke="#000" stroke-width="3" fill="none"/>
<path d="M601.1 697.4H611.1" stroke="#000" stroke-width="3"/>
<text x="593.3" y="704.6" font-size="20.5" font-weight="bold" text-anchor="end">0</text>
<path d="M601.1 645.3H611.1" stroke="#000" stroke-width="3"/>
<text x="593.3" y="652.02" font-size="20.5" font-weight="bold" text-anchor="end">3</text>
<path d="M601.1 593.2H611.1" stroke="#000" stroke-width="3"/>
<text x="593.3" y="599.45" font-size="20.5" font-weight="bold" text-anchor="end">6</text>
<path d="M601.1 541.1H611.1" stroke="#000" stroke-width="3"/>
<text x="593.3" y="546.88" font-size="20.5" font-weight="bold" text-anchor="end">9</text>
<path d="M601.1 489H611.1" stroke="#000" stroke-width="3"/>
<text x="593.3" y="494.3" font-size="20.5" font-weight="bold" text-anchor="end">12</text>
<path d="M659.05 697.4V706.4" stroke="#000" stroke-width="3.4"/>
<path d="M731.55 697.4V706.4" stroke="#000" stroke-width="3.4"/>
<text x="659.05" y="730.8" font-size="20" font-weight="bold" text-anchor="middle">CTL</text>
<text x="731.55" y="730.8" font-size="20" font-weight="bold" text-anchor="middle">ETX</text>
<path d="M659.2 497.1V485H731.6V563.1" stroke="#000" stroke-width="3" fill="none" stroke-linejoin="round"/>
<path d="M693.5 462.8L693.5 457.3M693.5 462.8L698.73 461.1M693.5 462.8L696.73 467.25M693.5 462.8L690.27 467.25M693.5 462.8L688.27 461.1" stroke="#000" stroke-width="2.3" fill="none"/>
<text x="690.4" y="449.6" font-size="20" font-weight="bold" text-anchor="middle">P14</text>
<text transform="translate(557,592.8) rotate(-90)" font-size="20.5" font-weight="bold" text-anchor="middle">RAC</text>
<rect x="100.2" y="947.8" width="43.8" height="121.8" fill="#7f7f7f" stroke="#000" stroke-width="4.8" stroke-linejoin="round"/>
<rect x="173.6" y="925.3" width="42.9" height="144.3" fill="#a2a1a6" stroke="#000" stroke-width="4.8" stroke-linejoin="round"/>
<path d="M122.2 938.6V951M110.2 938.6H134.2M110.2 951H134.2" stroke="#000" stroke-width="2.2" fill="none"/>
<path d="M194.6 905.6V938M182.6 905.6H206.6M182.6 938H206.6" stroke="#000" stroke-width="2.2" fill="none"/>
<circle cx="122.2" cy="934.4" r="3.3"/>
<circle cx="101.5" cy="941.8" r="3.3"/>
<circle cx="115.3" cy="941.8" r="3.3"/>
<circle cx="129" cy="944.5" r="3.3"/>
<circle cx="143.7" cy="942.7" r="3.3"/>
<circle cx="122.2" cy="951" r="3.3"/>
<circle cx="136.3" cy="951" r="3.3"/>
<circle cx="108.8" cy="956.4" r="3.3"/>
<circle cx="182.2" cy="903.3" r="3.3"/>
<circle cx="194.6" cy="902.7" r="3.3"/>
<circle cx="207.5" cy="904.5" r="3.3"/>
<circle cx="182.2" cy="932" r="3.3"/>
<circle cx="194.6" cy="935.3" r="3.3"/>
<circle cx="207.5" cy="927.6" r="3.3"/>
<circle cx="207.5" cy="936.8" r="3.3"/>
<circle cx="182.2" cy="940" r="3.3"/>
<path d="M74.1 860.2V1070.6M64.1 1070.6H244" stroke="#000" stroke-width="3" fill="none"/>
<path d="M64.1 1070.6H74.1" stroke="#000" stroke-width="3"/>
<text x="56.8" y="1077.8" font-size="20.5" font-weight="bold" text-anchor="end">0</text>
<path d="M64.1 1028.82H74.1" stroke="#000" stroke-width="3"/>
<text x="56.8" y="1036.03" font-size="20.5" font-weight="bold" text-anchor="end">10</text>
<path d="M64.1 987.04H74.1" stroke="#000" stroke-width="3"/>
<text x="56.8" y="994.26" font-size="20.5" font-weight="bold" text-anchor="end">20</text>
<path d="M64.1 945.26H74.1" stroke="#000" stroke-width="3"/>
<text x="56.8" y="952.49" font-size="20.5" font-weight="bold" text-anchor="end">30</text>
<path d="M64.1 903.48H74.1" stroke="#000" stroke-width="3"/>
<text x="56.8" y="910.72" font-size="20.5" font-weight="bold" text-anchor="end">40</text>
<path d="M64.1 861.7H74.1" stroke="#000" stroke-width="3"/>
<text x="56.8" y="868.95" font-size="20.5" font-weight="bold" text-anchor="end">50</text>
<path d="M122.1 1070.6V1079.6" stroke="#000" stroke-width="3.4"/>
<path d="M195.05 1070.6V1079.6" stroke="#000" stroke-width="3.4"/>
<text x="122.1" y="1107.2" font-size="20" font-weight="bold" text-anchor="middle">CTL</text>
<text x="195.05" y="1107.2" font-size="20" font-weight="bold" text-anchor="middle">ETX</text>
<path d="M122.6 921.6V878.5H195V890.4" stroke="#000" stroke-width="3" fill="none" stroke-linejoin="round"/>
<path d="M158.7 840.45L158.7 834.95M158.7 840.45L163.93 838.75M158.7 840.45L161.93 844.9M158.7 840.45L155.47 844.9M158.7 840.45L153.47 838.75" stroke="#000" stroke-width="2.3" fill="none"/>
<text x="159" y="824" font-size="20" font-weight="bold" text-anchor="middle">P2</text>
<text transform="translate(14.1,965.9) rotate(-90)" font-size="20" font-weight="bold" text-anchor="middle">um</text>
<rect x="373.5" y="962.9" width="44.2" height="108.7" fill="#7f7f7f" stroke="#000" stroke-width="4.8" stroke-linejoin="round"/>
<rect x="445.8" y="937" width="44.2" height="134.6" fill="#a2a1a6" stroke="#000" stroke-width="4.8" stroke-linejoin="round"/>
<path d="M395.4 955.6V966M383.4 955.6H407.4M383.4 966H407.4" stroke="#000" stroke-width="2.2" fill="none"/>
<path d="M467.9 923.2V947.1M455.9 923.2H479.9M455.9 947.1H479.9" stroke="#000" stroke-width="2.2" fill="none"/>
<circle cx="374.6" cy="955.6" r="3.3"/>
<circle cx="395.4" cy="955.8" r="3.3"/>
<circle cx="416.6" cy="956.4" r="3.3"/>
<circle cx="385.1" cy="960.5" r="3.3"/>
<circle cx="406.1" cy="957.6" r="3.3"/>
<circle cx="395.4" cy="964" r="3.3"/>
<circle cx="406.1" cy="966.3" r="3.3"/>
<circle cx="385.1" cy="968.1" r="3.3"/>
<circle cx="467.9" cy="914.8" r="3.3"/>
<circle cx="461.5" cy="926.1" r="3.3"/>
<circle cx="474.3" cy="926.1" r="3.3"/>
<circle cx="461.5" cy="934.3" r="3.3"/>
<circle cx="474.3" cy="936.6" r="3.3"/>
<circle cx="455.4" cy="947.1" r="3.3"/>
<circle cx="467.9" cy="947.1" r="3.3"/>
<circle cx="480.4" cy="947.1" r="3.3"/>
<path d="M347.45 862.6V1072.6M337.45 1072.6H516.5" stroke="#000" stroke-width="3" fill="none"/>
<path d="M337.45 1072.6H347.45" stroke="#000" stroke-width="3"/>
<text x="329.2" y="1079.8" font-size="20.5" font-weight="bold" text-anchor="end">0</text>
<path d="M337.45 1030.9H347.45" stroke="#000" stroke-width="3"/>
<text x="329.2" y="1038.1" font-size="20.5" font-weight="bold" text-anchor="end">10</text>
<path d="M337.45 989.2H347.45" stroke="#000" stroke-width="3"/>
<text x="329.2" y="996.4" font-size="20.5" font-weight="bold" text-anchor="end">20</text>
<path d="M337.45 947.5H347.45" stroke="#000" stroke-width="3"/>
<text x="329.2" y="954.7" font-size="20.5" font-weight="bold" text-anchor="end">30</text>
<path d="M337.45 905.8H347.45" stroke="#000" stroke-width="3"/>
<text x="329.2" y="913" font-size="20.5" font-weight="bold" text-anchor="end">40</text>
<path d="M337.45 864.1H347.45" stroke="#000" stroke-width="3"/>
<text x="329.2" y="871.3" font-size="20.5" font-weight="bold" text-anchor="end">50</text>
<path d="M395.6 1072.6V1081.6" stroke="#000" stroke-width="3.4"/>
<path d="M467.9 1072.6V1081.6" stroke="#000" stroke-width="3.4"/>
<text x="395.6" y="1110" font-size="20" font-weight="bold" text-anchor="middle">CTL</text>
<text x="467.9" y="1110" font-size="20" font-weight="bold" text-anchor="middle">ETX</text>
<path d="M395.4 943V890.3H467.9V902.2" stroke="#000" stroke-width="3" fill="none" stroke-linejoin="round"/>
<path d="M433.2 848.9L433.2 843.4M433.2 848.9L438.43 847.2M433.2 848.9L436.43 853.35M433.2 848.9L429.97 853.35M433.2 848.9L427.97 847.2" stroke="#000" stroke-width="2.3" fill="none"/>
<text x="435" y="823.7" font-size="20" font-weight="bold" text-anchor="middle">P7</text>
<text transform="translate(292.2,968.3) rotate(-90)" font-size="20" font-weight="bold" text-anchor="middle">um</text>
<rect x="631.7" y="964.6" width="44.2" height="103.9" fill="#7f7f7f" stroke="#000" stroke-width="4.8" stroke-linejoin="round"/>
<rect x="703.8" y="930.7" width="44.7" height="137.8" fill="#a2a1a6" stroke="#000" stroke-width="4.8" stroke-linejoin="round"/>
<path d="M653.8 954V970.6M641.8 954H665.8M641.8 970.6H665.8" stroke="#000" stroke-width="2.2" fill="none"/>
<path d="M726.2 912.9V943.7M714.2 912.9H738.2M714.2 943.7H738.2" stroke="#000" stroke-width="2.2" fill="none"/>
<circle cx="653.8" cy="951.4" r="3.3"/>
<circle cx="641.2" cy="954" r="3.3"/>
<circle cx="666.7" cy="957.3" r="3.3"/>
<circle cx="653.8" cy="959.3" r="3.3"/>
<circle cx="641.2" cy="965.9" r="3.3"/>
<circle cx="653.8" cy="963.3" r="3.3"/>
<circle cx="666.7" cy="966.8" r="3.3"/>
<circle cx="653.8" cy="976.2" r="3.3"/>
<circle cx="726.2" cy="907.9" r="3.3"/>
<circle cx="726.2" cy="914.3" r="3.3"/>
<circle cx="713.7" cy="919" r="3.3"/>
<circle cx="726.2" cy="921.1" r="3.3"/>
<circle cx="726.2" cy="935.3" r="3.3"/>
<circle cx="738.8" cy="931.8" r="3.3"/>
<circle cx="732.2" cy="947" r="3.3"/>
<circle cx="719.8" cy="951.1" r="3.3"/>
<path d="M606 859.9V1069.5M596 1069.5H775.3" stroke="#000" stroke-width="3" fill="none"/>
<path d="M596 1069.5H606" stroke="#000" stroke-width="3"/>
<text x="589.5" y="1076.7" font-size="20.5" font-weight="bold" text-anchor="end">0</text>
<path d="M596 1027.88H606" stroke="#000" stroke-width="3"/>
<text x="589.5" y="1034.89" font-size="20.5" font-weight="bold" text-anchor="end">10</text>
<path d="M596 986.26H606" stroke="#000" stroke-width="3"/>
<text x="589.5" y="993.08" font-size="20.5" font-weight="bold" text-anchor="end">20</text>
<path d="M596 944.64H606" stroke="#000" stroke-width="3"/>
<text x="589.5" y="951.27" font-size="20.5" font-weight="bold" text-anchor="end">30</text>
<path d="M596 903.02H606" stroke="#000" stroke-width="3"/>
<text x="589.5" y="909.46" font-size="20.5" font-weight="bold" text-anchor="end">40</text>
<path d="M596 861.4H606" stroke="#000" stroke-width="3"/>
<text x="589.5" y="867.65" font-size="20.5" font-weight="bold" text-anchor="end">50</text>
<path d="M653.8 1069.5V1078.5" stroke="#000" stroke-width="3.4"/>
<path d="M726.15 1069.5V1078.5" stroke="#000" stroke-width="3.4"/>
<text x="653.8" y="1107.75" font-size="20" font-weight="bold" text-anchor="middle">CTL</text>
<text x="726.15" y="1107.75" font-size="20" font-weight="bold" text-anchor="middle">ETX</text>
<path d="M653.8 939.4V883.8H726.2V895.7" stroke="#000" stroke-width="3" fill="none" stroke-linejoin="round"/>
<path d="M688.9 845.2L688.9 839.7M688.9 845.2L694.13 843.5M688.9 845.2L692.13 849.65M688.9 845.2L685.67 849.65M688.9 845.2L683.67 843.5" stroke="#000" stroke-width="2.3" fill="none"/>
<text x="690.3" y="823.7" font-size="20" font-weight="bold" text-anchor="middle">P14</text>
<text transform="translate(549.4,965.6) rotate(-90)" font-size="20" font-weight="bold" text-anchor="middle">um</text>
<path d="M871.6 482.9V693.4M861.6 693.4H1081.7" stroke="#000" stroke-width="3" fill="none"/>
<path d="M861.6 693.4H871.6" stroke="#000" stroke-width="3"/>
<text x="853.1" y="698.8" font-size="20.5" font-weight="bold" text-anchor="end">0</text>
<path d="M861.6 623.73H871.6" stroke="#000" stroke-width="3"/>
<text x="853.1" y="629.13" font-size="20.5" font-weight="bold" text-anchor="end">5</text>
<path d="M861.6 554.07H871.6" stroke="#000" stroke-width="3"/>
<text x="853.1" y="559.47" font-size="20.5" font-weight="bold" text-anchor="end">10</text>
<path d="M861.6 484.4H871.6" stroke="#000" stroke-width="3"/>
<text x="853.1" y="489.8" font-size="20.5" font-weight="bold" text-anchor="end">15</text>
<path d="M871.6 693.4V702.4" stroke="#000" stroke-width="3"/>
<text x="871.6" y="725.2" font-size="20.5" font-weight="bold" text-anchor="middle">0</text>
<path d="M901.4 693.4V702.4" stroke="#000" stroke-width="3"/>
<text x="901.4" y="725.2" font-size="20.5" font-weight="bold" text-anchor="middle">2</text>
<path d="M975.9 693.4V702.4" stroke="#000" stroke-width="3"/>
<text x="975.9" y="725.2" font-size="20.5" font-weight="bold" text-anchor="middle">7</text>
<path d="M1080.2 693.4V702.4" stroke="#000" stroke-width="3"/>
<text x="1080.2" y="725.2" font-size="20.5" font-weight="bold" text-anchor="middle">14</text>
<text x="976.5" y="757" font-size="20.5" font-weight="bold" text-anchor="middle">Day of life</text>
<text transform="translate(814.2,588.5) rotate(-90)" font-size="20.5" font-weight="bold" text-anchor="middle">RAC</text>
<polyline points="901.4,645.2 975.9,606.7 1080.2,547.8" fill="none" stroke="#000" stroke-width="2.5"/>
<path d="M901.4 637.8V652.5M897.1 637.8H905.7M897.1 652.5H905.7" stroke="#000" stroke-width="2" fill="none"/>
<circle cx="901.4" cy="645.2" r="4.3" fill="none" stroke="#000" stroke-width="2.9"/>
<path d="M975.9 598.9V614.5M971.6 598.9H980.2M971.6 614.5H980.2" stroke="#000" stroke-width="2" fill="none"/>
<circle cx="975.9" cy="606.7" r="4.3" fill="none" stroke="#000" stroke-width="2.9"/>
<path d="M1080.2 542.6V553.1M1075.9 542.6H1084.5M1075.9 553.1H1084.5" stroke="#000" stroke-width="2" fill="none"/>
<circle cx="1080.2" cy="547.8" r="4.3" fill="none" stroke="#000" stroke-width="2.9"/>
<polyline points="901.4,657.5 975.9,630.5 1080.2,609.7" fill="none" stroke="#000" stroke-width="2.5"/>
<path d="M901.4 651.4V663.5M897.1 651.4H905.7M897.1 663.5H905.7" stroke="#000" stroke-width="2" fill="none"/>
<rect x="897.1" y="653.2" width="8.6" height="8.6"/>
<rect x="971.6" y="626.2" width="8.6" height="8.6"/>
<path d="M1080.2 600.8V618.6M1075.9 600.8H1084.5M1075.9 618.6H1084.5" stroke="#000" stroke-width="2" fill="none"/>
<rect x="1075.9" y="605.4" width="8.6" height="8.6"/>
<path d="M882.7 817.4V1027.8M872.7 1027.8H1092.8" stroke="#000" stroke-width="3" fill="none"/>
<path d="M872.7 1027.8H882.7" stroke="#000" stroke-width="3"/>
<text x="865.1" y="1035.95" font-size="20.5" font-weight="bold" text-anchor="end">20</text>
<path d="M872.7 986.02H882.7" stroke="#000" stroke-width="3"/>
<text x="865.1" y="994.17" font-size="20.5" font-weight="bold" text-anchor="end">25</text>
<path d="M872.7 944.24H882.7" stroke="#000" stroke-width="3"/>
<text x="865.1" y="952.39" font-size="20.5" font-weight="bold" text-anchor="end">30</text>
<path d="M872.7 902.46H882.7" stroke="#000" stroke-width="3"/>
<text x="865.1" y="910.61" font-size="20.5" font-weight="bold" text-anchor="end">35</text>
<path d="M872.7 860.68H882.7" stroke="#000" stroke-width="3"/>
<text x="865.1" y="868.83" font-size="20.5" font-weight="bold" text-anchor="end">40</text>
<path d="M872.7 818.9H882.7" stroke="#000" stroke-width="3"/>
<text x="865.1" y="827.05" font-size="20.5" font-weight="bold" text-anchor="end">45</text>
<path d="M882.7 1027.8V1036.8" stroke="#000" stroke-width="3"/>
<text x="882.7" y="1059" font-size="20.5" font-weight="bold" text-anchor="middle">0</text>
<path d="M912.5 1027.8V1036.8" stroke="#000" stroke-width="3"/>
<text x="912.5" y="1059" font-size="20.5" font-weight="bold" text-anchor="middle">2</text>
<path d="M987 1027.8V1036.8" stroke="#000" stroke-width="3"/>
<text x="987" y="1059" font-size="20.5" font-weight="bold" text-anchor="middle">7</text>
<path d="M1091.3 1027.8V1036.8" stroke="#000" stroke-width="3"/>
<text x="1091.3" y="1059" font-size="20.5" font-weight="bold" text-anchor="middle">14</text>
<text x="988" y="1091.6" font-size="20.5" font-weight="bold" text-anchor="middle">Day of life</text>
<text transform="translate(825.9,923) rotate(-90)" font-size="20" font-weight="bold" text-anchor="middle">MLI</text>
<polyline points="912.5,900 987,918.9 1091.3,911.7" fill="none" stroke="#000" stroke-width="2.1"/>
<path d="M912.5 867.1V931.9M908.2 867.1H916.8M908.2 931.9H916.8" stroke="#000" stroke-width="2" fill="none"/>
<rect x="908.2" y="895.7" width="8.6" height="8.6"/>
<path d="M987 895.1V942.5M982.7 895.1H991.3M982.7 942.5H991.3" stroke="#000" stroke-width="2" fill="none"/>
<rect x="982.7" y="914.6" width="8.6" height="8.6"/>
<path d="M1091.3 880.8V941.7M1087 880.8H1095.6M1087 941.7H1095.6" stroke="#000" stroke-width="2" fill="none"/>
<rect x="1087" y="907.4" width="8.6" height="8.6"/>
<polyline points="912.5,945.8 987,970.2 1091.3,979.5" fill="none" stroke="#000" stroke-width="2.1"/>
<path d="M912.5 932.1V960.2M908.2 932.1H916.8M908.2 960.2H916.8" stroke="#000" stroke-width="2" fill="none"/>
<circle cx="912.5" cy="945.8" r="4.3" fill="none" stroke="#000" stroke-width="2.9"/>
<path d="M987 961.1V980M982.7 961.1H991.3M982.7 980H991.3" stroke="#000" stroke-width="2" fill="none"/>
<circle cx="987" cy="970.2" r="4.3" fill="none" stroke="#000" stroke-width="2.9"/>
<path d="M1091.3 963.2V995.5M1087 963.2H1095.6M1087 995.5H1095.6" stroke="#000" stroke-width="2" fill="none"/>
<circle cx="1091.3" cy="979.5" r="4.3" fill="none" stroke="#000" stroke-width="2.9"/>
<rect x="235.75" y="11.15" width="44.9" height="22.2" fill="#fff" stroke="#000" stroke-width="2.3"/>
<text x="258.2" y="28.1" font-size="17.6" font-weight="normal" text-anchor="middle">CTL</text>
<rect x="496.85" y="11.15" width="44.9" height="22.2" fill="#fff" stroke="#000" stroke-width="2.3"/>
<text x="519.3" y="28.1" font-size="17.6" font-weight="normal" text-anchor="middle">CTL</text>
<rect x="757.45" y="11.15" width="44.9" height="22.2" fill="#fff" stroke="#000" stroke-width="2.3"/>
<text x="779.9" y="28.1" font-size="17.6" font-weight="normal" text-anchor="middle">CTL</text>
<rect x="235.65" y="189.45" width="44.9" height="22.4" fill="#fff" stroke="#000" stroke-width="2.3"/>
<text x="258.1" y="206.6" font-size="17.6" font-weight="normal" text-anchor="middle">ETX</text>
<rect x="495.35" y="189.15" width="45.2" height="22.7" fill="#fff" stroke="#000" stroke-width="2.3"/>
<text x="517.95" y="206.6" font-size="17.6" font-weight="normal" text-anchor="middle">ETX</text>
<rect x="757.45" y="189.45" width="44.9" height="22.4" fill="#fff" stroke="#000" stroke-width="2.3"/>
<text x="779.9" y="206.6" font-size="17.6" font-weight="normal" text-anchor="middle">ETX</text>
<text x="31.3" y="159.6" font-size="16.5" font-weight="normal" text-anchor="start">100µm</text>
<path d="M39.2 171.9H74.6" stroke="#000" stroke-width="2.1"/>
<text x="297.1" y="159.8" font-size="14.7" font-weight="normal" text-anchor="start">100µm</text>
<path d="M305.8 170.65H342.1" stroke="#000" stroke-width="2.1"/>
<text x="552.55" y="159.6" font-size="16.5" font-weight="normal" text-anchor="start">100µm</text>
<path d="M565.8 168.85H601.25" stroke="#000" stroke-width="2.1"/>
<text x="30.8" y="340" font-size="16.5" font-weight="normal" text-anchor="start">100µm</text>
<path d="M39.2 350.8H74.6" stroke="#000" stroke-width="2.1"/>
<text x="294.2" y="339.6" font-size="16.5" font-weight="normal" text-anchor="start">100µm</text>
<path d="M306.25 348.95H342.1" stroke="#000" stroke-width="2.1"/>
<text x="552.55" y="339.6" font-size="16.5" font-weight="normal" text-anchor="start">100µm</text>
<path d="M565.8 347.6H601.25" stroke="#000" stroke-width="2.1"/>
<text x="0" y="16.2" font-size="28" font-weight="bold" text-anchor="start">a</text>
<text x="2.3" y="413.5" font-size="28" font-weight="bold" text-anchor="start">b</text>
<text x="800" y="414" font-size="28" font-weight="bold" text-anchor="start">c</text>
<text x="-0.5" y="785.8" font-size="28" font-weight="bold" text-anchor="start">d</text>
<text x="807" y="785.8" font-size="28" font-weight="bold" text-anchor="start">e</text>
<text x="45" y="418.3" font-size="23" font-weight="bold" text-anchor="start">Radial alveolar count (RAC)</text>
<text x="44.6" y="794.2" font-size="23.1" font-weight="bold" text-anchor="start">Mean linear intercept (MLI)</text>
<text x="937.3" y="614.5" font-size="20" font-weight="normal" text-anchor="middle" font-style="italic">#</text>
<text x="981" y="589.3" font-size="20" font-weight="normal" text-anchor="middle">%</text>
<text x="985" y="654.4" font-size="20" font-weight="normal" text-anchor="middle">%</text>
<text x="988" y="1003" font-size="20" font-weight="normal" text-anchor="middle">%</text>
<path d="M1044.6 436H1068.7M1045 464.2H1069" stroke="#000" stroke-width="2.7"/>
<ellipse cx="1057" cy="436" rx="6" ry="6.5" fill="none" stroke="#000" stroke-width="2.6"/>
<rect x="1050" y="457" width="14.2" height="14.2"/>
<text x="1077" y="442.5" font-size="20" font-weight="normal" text-anchor="start">CTL</text>
<text x="1078" y="470.8" font-size="20" font-weight="normal" text-anchor="start">ETX</text>
<text x="808.2" y="1117.6" font-size="13">*</text>
<text x="820" y="1121.1" font-size="17.33"><tspan font-style="italic">p</tspan> &lt; 0.05 for ETX vs. CTL</text>
<text x="812" y="1142" font-size="17.33"># <tspan font-style="italic">p</tspan> &lt; 0.05 for within-group comparisons (P2–P7)</text>
<text x="812" y="1162.9" font-size="17.33">$ <tspan font-style="italic">p</tspan> &lt; 0.05 for within-group comparisions (P7–P14)</text>
<text x="812" y="1183.8" font-size="17.33">% <tspan font-style="italic">p</tspan> &lt; 0.05 for within-group comparisons (P2–P14)</text>
</svg></body></html>
